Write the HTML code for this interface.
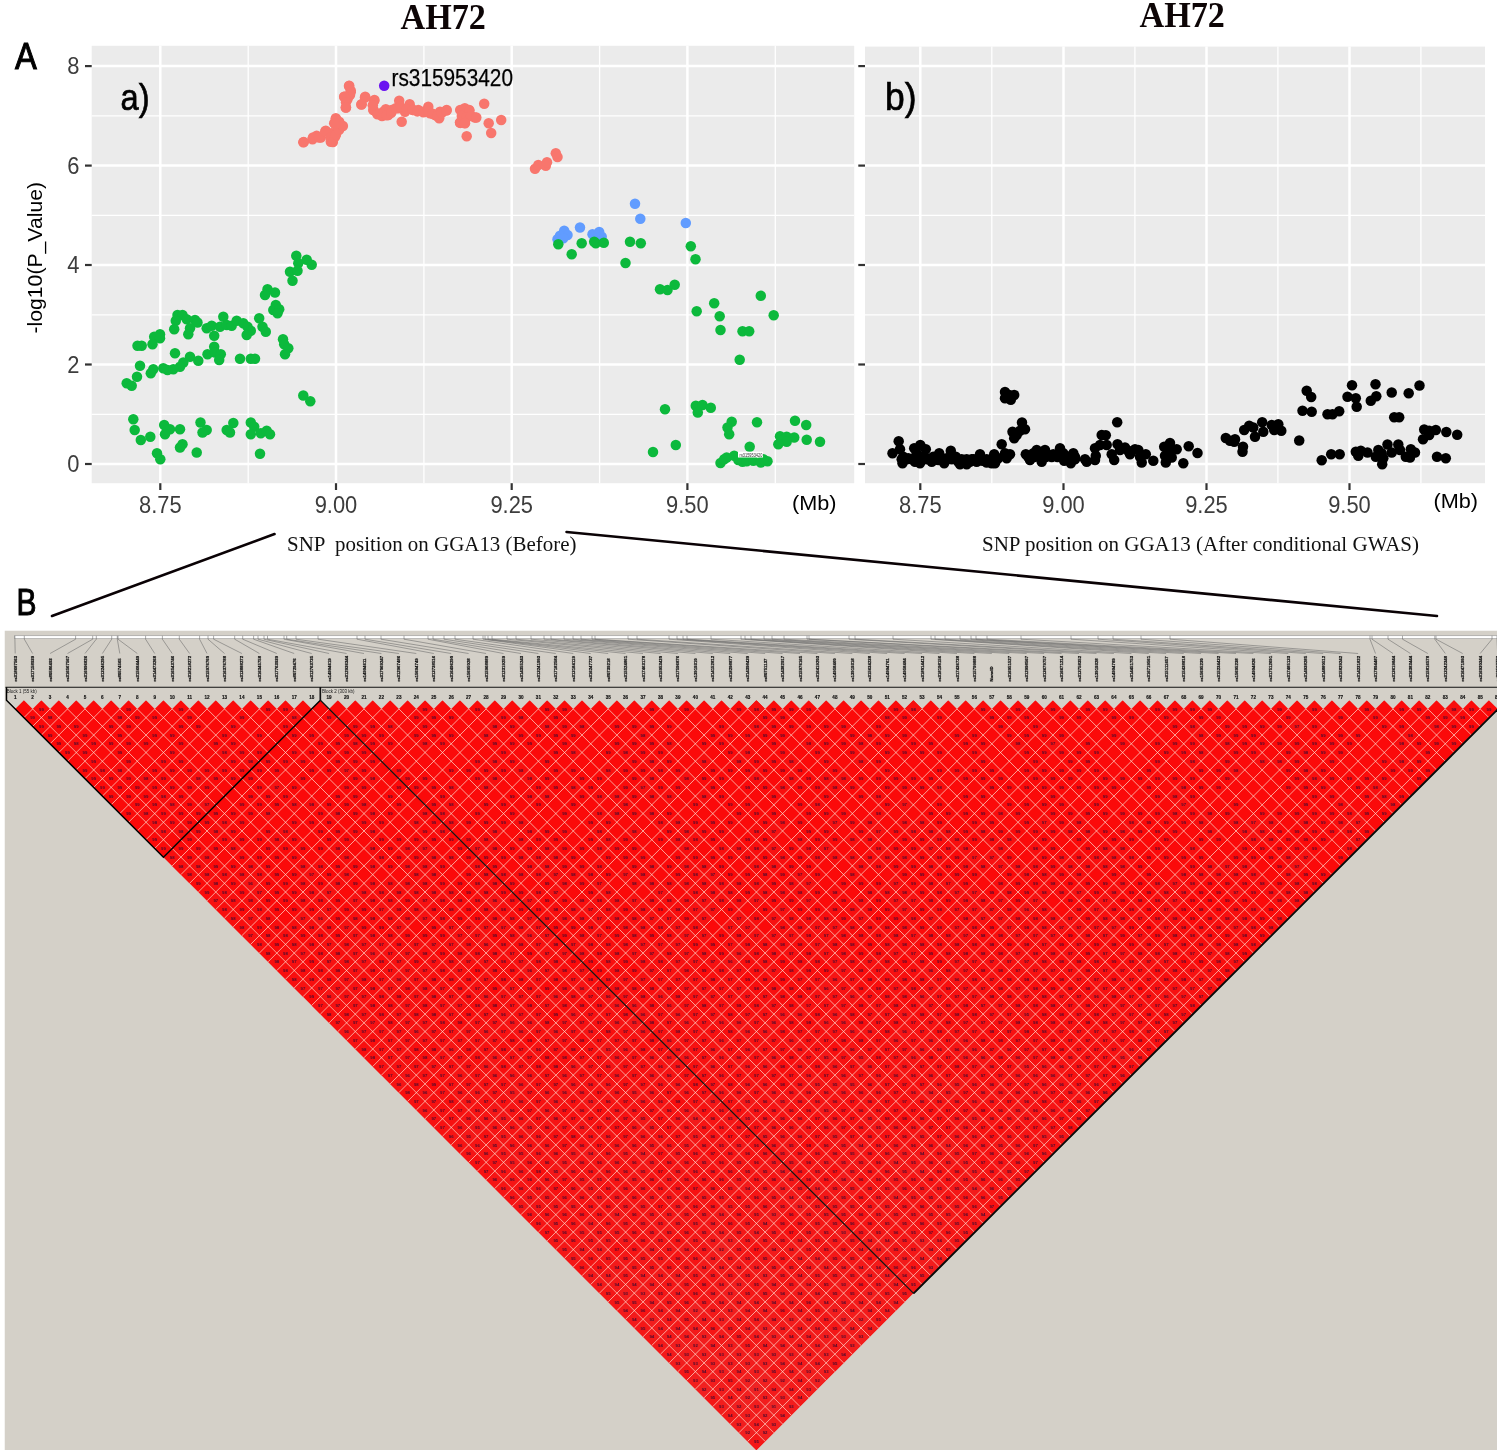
<!DOCTYPE html>
<html lang="en"><head><meta charset="utf-8"><title>AH72 regional plot and LD heatmap</title>
<style>html,body{margin:0;padding:0;background:#fff}svg{display:block}.tk{font-family:"Liberation Sans",sans-serif;font-size:23.8px;fill:#3d3d3d}.sn{font-family:"Liberation Sans",sans-serif;font-weight:bold;font-size:43px;fill:#111;stroke:#111;stroke-width:2.2px}.nm{font-family:"Liberation Sans",sans-serif;font-weight:bold;font-size:46px;fill:#111;stroke:#111;stroke-width:1.5px;text-anchor:middle}.d{font-family:"Liberation Sans",sans-serif;font-size:43px;font-weight:bold;fill:#4a0c30;text-anchor:middle}</style></head><body>
<svg width="1500" height="1455" viewBox="0 0 1500 1455">
<rect width="1500" height="1455" fill="#fff"/>
<rect x="91.7" y="45.8" width="762.5" height="437.4" fill="#ebebeb"/>
<line x1="248.2" y1="45.8" x2="248.2" y2="483.2" stroke="#fff" stroke-width="1.3"/>
<line x1="423.9" y1="45.8" x2="423.9" y2="483.2" stroke="#fff" stroke-width="1.3"/>
<line x1="599.6" y1="45.8" x2="599.6" y2="483.2" stroke="#fff" stroke-width="1.3"/>
<line x1="775.3" y1="45.8" x2="775.3" y2="483.2" stroke="#fff" stroke-width="1.3"/>
<line x1="91.7" y1="414.3" x2="854.2" y2="414.3" stroke="#fff" stroke-width="1.3"/>
<line x1="91.7" y1="314.8" x2="854.2" y2="314.8" stroke="#fff" stroke-width="1.3"/>
<line x1="91.7" y1="215.3" x2="854.2" y2="215.3" stroke="#fff" stroke-width="1.3"/>
<line x1="91.7" y1="115.8" x2="854.2" y2="115.8" stroke="#fff" stroke-width="1.3"/>
<line x1="160.3" y1="45.8" x2="160.3" y2="483.2" stroke="#fff" stroke-width="2.5"/>
<line x1="336.0" y1="45.8" x2="336.0" y2="483.2" stroke="#fff" stroke-width="2.5"/>
<line x1="511.7" y1="45.8" x2="511.7" y2="483.2" stroke="#fff" stroke-width="2.5"/>
<line x1="687.4" y1="45.8" x2="687.4" y2="483.2" stroke="#fff" stroke-width="2.5"/>
<line x1="91.7" y1="464.0" x2="854.2" y2="464.0" stroke="#fff" stroke-width="2.5"/>
<line x1="91.7" y1="364.5" x2="854.2" y2="364.5" stroke="#fff" stroke-width="2.5"/>
<line x1="91.7" y1="265.0" x2="854.2" y2="265.0" stroke="#fff" stroke-width="2.5"/>
<line x1="91.7" y1="165.6" x2="854.2" y2="165.6" stroke="#fff" stroke-width="2.5"/>
<line x1="91.7" y1="66.1" x2="854.2" y2="66.1" stroke="#fff" stroke-width="2.5"/>
<rect x="865" y="46.6" width="620" height="436.59999999999997" fill="#ebebeb"/>
<line x1="991.8" y1="46.6" x2="991.8" y2="483.2" stroke="#fff" stroke-width="1.3"/>
<line x1="1134.9" y1="46.6" x2="1134.9" y2="483.2" stroke="#fff" stroke-width="1.3"/>
<line x1="1277.9" y1="46.6" x2="1277.9" y2="483.2" stroke="#fff" stroke-width="1.3"/>
<line x1="1420.9" y1="46.6" x2="1420.9" y2="483.2" stroke="#fff" stroke-width="1.3"/>
<line x1="865" y1="414.3" x2="1485" y2="414.3" stroke="#fff" stroke-width="1.3"/>
<line x1="865" y1="314.8" x2="1485" y2="314.8" stroke="#fff" stroke-width="1.3"/>
<line x1="865" y1="215.3" x2="1485" y2="215.3" stroke="#fff" stroke-width="1.3"/>
<line x1="865" y1="115.8" x2="1485" y2="115.8" stroke="#fff" stroke-width="1.3"/>
<line x1="920.3" y1="46.6" x2="920.3" y2="483.2" stroke="#fff" stroke-width="2.5"/>
<line x1="1063.5" y1="46.6" x2="1063.5" y2="483.2" stroke="#fff" stroke-width="2.5"/>
<line x1="1206.5" y1="46.6" x2="1206.5" y2="483.2" stroke="#fff" stroke-width="2.5"/>
<line x1="1349.5" y1="46.6" x2="1349.5" y2="483.2" stroke="#fff" stroke-width="2.5"/>
<line x1="865" y1="464.0" x2="1485" y2="464.0" stroke="#fff" stroke-width="2.5"/>
<line x1="865" y1="364.5" x2="1485" y2="364.5" stroke="#fff" stroke-width="2.5"/>
<line x1="865" y1="265.0" x2="1485" y2="265.0" stroke="#fff" stroke-width="2.5"/>
<line x1="865" y1="165.6" x2="1485" y2="165.6" stroke="#fff" stroke-width="2.5"/>
<line x1="865" y1="66.1" x2="1485" y2="66.1" stroke="#fff" stroke-width="2.5"/>
<line x1="85" y1="464.0" x2="91.7" y2="464.0" stroke="#333" stroke-width="2.2"/>
<line x1="858.3" y1="464.0" x2="865" y2="464.0" stroke="#333" stroke-width="2.2"/>
<line x1="85" y1="364.5" x2="91.7" y2="364.5" stroke="#333" stroke-width="2.2"/>
<line x1="858.3" y1="364.5" x2="865" y2="364.5" stroke="#333" stroke-width="2.2"/>
<line x1="85" y1="265.0" x2="91.7" y2="265.0" stroke="#333" stroke-width="2.2"/>
<line x1="858.3" y1="265.0" x2="865" y2="265.0" stroke="#333" stroke-width="2.2"/>
<line x1="85" y1="165.6" x2="91.7" y2="165.6" stroke="#333" stroke-width="2.2"/>
<line x1="858.3" y1="165.6" x2="865" y2="165.6" stroke="#333" stroke-width="2.2"/>
<line x1="85" y1="66.1" x2="91.7" y2="66.1" stroke="#333" stroke-width="2.2"/>
<line x1="858.3" y1="66.1" x2="865" y2="66.1" stroke="#333" stroke-width="2.2"/>
<line x1="160.3" y1="483.2" x2="160.3" y2="490" stroke="#333" stroke-width="2.2"/>
<line x1="336.0" y1="483.2" x2="336.0" y2="490" stroke="#333" stroke-width="2.2"/>
<line x1="511.7" y1="483.2" x2="511.7" y2="490" stroke="#333" stroke-width="2.2"/>
<line x1="687.4" y1="483.2" x2="687.4" y2="490" stroke="#333" stroke-width="2.2"/>
<line x1="920.3" y1="483.2" x2="920.3" y2="490" stroke="#333" stroke-width="2.2"/>
<line x1="1063.5" y1="483.2" x2="1063.5" y2="490" stroke="#333" stroke-width="2.2"/>
<line x1="1206.5" y1="483.2" x2="1206.5" y2="490" stroke="#333" stroke-width="2.2"/>
<line x1="1349.5" y1="483.2" x2="1349.5" y2="490" stroke="#333" stroke-width="2.2"/>
<text class="tk" x="79.5" y="472.2" text-anchor="end" textLength="12.2" lengthAdjust="spacingAndGlyphs">0</text>
<text class="tk" x="79.5" y="372.7" text-anchor="end" textLength="12.2" lengthAdjust="spacingAndGlyphs">2</text>
<text class="tk" x="79.5" y="273.2" text-anchor="end" textLength="12.2" lengthAdjust="spacingAndGlyphs">4</text>
<text class="tk" x="79.5" y="173.8" text-anchor="end" textLength="12.2" lengthAdjust="spacingAndGlyphs">6</text>
<text class="tk" x="79.5" y="74.3" text-anchor="end" textLength="12.2" lengthAdjust="spacingAndGlyphs">8</text>
<text class="tk" x="160.3" y="512.6" text-anchor="middle" textLength="42.6" lengthAdjust="spacingAndGlyphs">8.75</text>
<text class="tk" x="336.0" y="512.6" text-anchor="middle" textLength="42.6" lengthAdjust="spacingAndGlyphs">9.00</text>
<text class="tk" x="511.7" y="512.6" text-anchor="middle" textLength="42.6" lengthAdjust="spacingAndGlyphs">9.25</text>
<text class="tk" x="687.4" y="512.6" text-anchor="middle" textLength="42.6" lengthAdjust="spacingAndGlyphs">9.50</text>
<text class="tk" x="920.3" y="513.2" text-anchor="middle" textLength="42.6" lengthAdjust="spacingAndGlyphs">8.75</text>
<text class="tk" x="1063.5" y="513.2" text-anchor="middle" textLength="42.6" lengthAdjust="spacingAndGlyphs">9.00</text>
<text class="tk" x="1206.5" y="513.2" text-anchor="middle" textLength="42.6" lengthAdjust="spacingAndGlyphs">9.25</text>
<text class="tk" x="1349.5" y="513.2" text-anchor="middle" textLength="42.6" lengthAdjust="spacingAndGlyphs">9.50</text>
<g fill="#619cff"><circle cx="635.0" cy="203.7" r="5.25"/><circle cx="640.3" cy="218.8" r="5.25"/><circle cx="685.8" cy="223.0" r="5.25"/><circle cx="580.0" cy="227.5" r="5.25"/><circle cx="564.2" cy="230.8" r="5.25"/><circle cx="567.5" cy="235.0" r="5.25"/><circle cx="560.0" cy="235.8" r="5.25"/><circle cx="557.5" cy="239.2" r="5.25"/><circle cx="563.3" cy="238.3" r="5.25"/><circle cx="592.5" cy="234.2" r="5.25"/><circle cx="599.2" cy="232.0" r="5.25"/><circle cx="601.7" cy="236.7" r="5.25"/><circle cx="597.5" cy="238.3" r="5.25"/></g>
<g fill="#0cb93c"><circle cx="296.3" cy="255.8" r="5.25"/><circle cx="306.7" cy="259.7" r="5.25"/><circle cx="311.7" cy="264.7" r="5.25"/><circle cx="298.3" cy="263.3" r="5.25"/><circle cx="290.0" cy="271.7" r="5.25"/><circle cx="297.5" cy="270.8" r="5.25"/><circle cx="292.5" cy="280.8" r="5.25"/><circle cx="267.5" cy="289.2" r="5.25"/><circle cx="275.0" cy="292.5" r="5.25"/><circle cx="265.0" cy="295.0" r="5.25"/><circle cx="275.8" cy="305.0" r="5.25"/><circle cx="273.3" cy="310.0" r="5.25"/><circle cx="279.2" cy="309.2" r="5.25"/><circle cx="277.5" cy="313.3" r="5.25"/><circle cx="177.5" cy="315.0" r="5.25"/><circle cx="182.5" cy="315.0" r="5.25"/><circle cx="175.8" cy="320.8" r="5.25"/><circle cx="186.7" cy="319.2" r="5.25"/><circle cx="195.0" cy="320.0" r="5.25"/><circle cx="197.5" cy="322.5" r="5.25"/><circle cx="174.2" cy="329.2" r="5.25"/><circle cx="190.0" cy="328.3" r="5.25"/><circle cx="188.3" cy="334.2" r="5.25"/><circle cx="223.3" cy="316.7" r="5.25"/><circle cx="206.7" cy="328.3" r="5.25"/><circle cx="211.7" cy="325.8" r="5.25"/><circle cx="214.2" cy="335.8" r="5.25"/><circle cx="220.0" cy="326.7" r="5.25"/><circle cx="226.7" cy="325.0" r="5.25"/><circle cx="231.7" cy="325.8" r="5.25"/><circle cx="236.7" cy="320.8" r="5.25"/><circle cx="243.3" cy="323.3" r="5.25"/><circle cx="247.5" cy="326.7" r="5.25"/><circle cx="250.8" cy="330.8" r="5.25"/><circle cx="246.7" cy="335.0" r="5.25"/><circle cx="259.2" cy="318.3" r="5.25"/><circle cx="262.5" cy="326.7" r="5.25"/><circle cx="265.8" cy="331.7" r="5.25"/><circle cx="283.0" cy="339.2" r="5.25"/><circle cx="284.2" cy="344.2" r="5.25"/><circle cx="288.3" cy="348.3" r="5.25"/><circle cx="285.0" cy="354.2" r="5.25"/><circle cx="160.0" cy="334.2" r="5.25"/><circle cx="154.2" cy="336.7" r="5.25"/><circle cx="160.0" cy="338.3" r="5.25"/><circle cx="152.5" cy="344.2" r="5.25"/><circle cx="137.5" cy="345.8" r="5.25"/><circle cx="141.7" cy="345.8" r="5.25"/><circle cx="175.0" cy="353.3" r="5.25"/><circle cx="190.0" cy="356.7" r="5.25"/><circle cx="214.2" cy="346.7" r="5.25"/><circle cx="207.5" cy="354.2" r="5.25"/><circle cx="215.0" cy="352.5" r="5.25"/><circle cx="220.8" cy="354.2" r="5.25"/><circle cx="219.2" cy="360.0" r="5.25"/><circle cx="198.3" cy="360.8" r="5.25"/><circle cx="240.0" cy="358.7" r="5.25"/><circle cx="250.8" cy="358.7" r="5.25"/><circle cx="255.0" cy="358.7" r="5.25"/><circle cx="183.3" cy="362.5" r="5.25"/><circle cx="180.0" cy="366.7" r="5.25"/><circle cx="173.3" cy="369.2" r="5.25"/><circle cx="167.5" cy="370.0" r="5.25"/><circle cx="163.3" cy="368.3" r="5.25"/><circle cx="153.3" cy="369.2" r="5.25"/><circle cx="150.8" cy="373.3" r="5.25"/><circle cx="140.0" cy="365.8" r="5.25"/><circle cx="137.0" cy="376.7" r="5.25"/><circle cx="126.7" cy="383.3" r="5.25"/><circle cx="131.7" cy="385.8" r="5.25"/><circle cx="303.3" cy="395.5" r="5.25"/><circle cx="310.3" cy="401.3" r="5.25"/><circle cx="133.3" cy="419.2" r="5.25"/><circle cx="134.7" cy="430.0" r="5.25"/><circle cx="140.8" cy="440.0" r="5.25"/><circle cx="150.3" cy="436.7" r="5.25"/><circle cx="157.0" cy="453.3" r="5.25"/><circle cx="160.3" cy="459.2" r="5.25"/><circle cx="164.2" cy="425.0" r="5.25"/><circle cx="170.0" cy="429.2" r="5.25"/><circle cx="165.0" cy="434.2" r="5.25"/><circle cx="180.0" cy="429.2" r="5.25"/><circle cx="182.5" cy="444.2" r="5.25"/><circle cx="180.0" cy="447.5" r="5.25"/><circle cx="196.7" cy="452.5" r="5.25"/><circle cx="200.5" cy="422.5" r="5.25"/><circle cx="206.7" cy="430.0" r="5.25"/><circle cx="202.5" cy="432.5" r="5.25"/><circle cx="233.3" cy="423.0" r="5.25"/><circle cx="226.7" cy="430.0" r="5.25"/><circle cx="230.0" cy="432.5" r="5.25"/><circle cx="250.8" cy="422.5" r="5.25"/><circle cx="254.2" cy="426.7" r="5.25"/><circle cx="250.8" cy="434.2" r="5.25"/><circle cx="260.8" cy="433.3" r="5.25"/><circle cx="266.7" cy="430.8" r="5.25"/><circle cx="270.0" cy="434.2" r="5.25"/><circle cx="260.0" cy="453.7" r="5.25"/><circle cx="558.3" cy="244.2" r="5.25"/><circle cx="571.7" cy="254.2" r="5.25"/><circle cx="581.7" cy="243.3" r="5.25"/><circle cx="594.2" cy="241.7" r="5.25"/><circle cx="595.8" cy="243.3" r="5.25"/><circle cx="603.8" cy="242.8" r="5.25"/><circle cx="630.0" cy="241.7" r="5.25"/><circle cx="640.8" cy="243.3" r="5.25"/><circle cx="625.5" cy="263.0" r="5.25"/><circle cx="690.8" cy="246.3" r="5.25"/><circle cx="695.5" cy="259.2" r="5.25"/><circle cx="660.0" cy="289.2" r="5.25"/><circle cx="667.5" cy="290.0" r="5.25"/><circle cx="674.7" cy="284.7" r="5.25"/><circle cx="696.7" cy="311.3" r="5.25"/><circle cx="714.2" cy="303.3" r="5.25"/><circle cx="719.7" cy="316.3" r="5.25"/><circle cx="720.5" cy="330.0" r="5.25"/><circle cx="742.5" cy="331.3" r="5.25"/><circle cx="749.2" cy="331.3" r="5.25"/><circle cx="760.8" cy="295.8" r="5.25"/><circle cx="773.7" cy="315.3" r="5.25"/><circle cx="739.7" cy="359.7" r="5.25"/><circle cx="665.0" cy="409.2" r="5.25"/><circle cx="695.8" cy="405.8" r="5.25"/><circle cx="702.5" cy="405.0" r="5.25"/><circle cx="710.8" cy="407.8" r="5.25"/><circle cx="697.8" cy="412.5" r="5.25"/><circle cx="731.7" cy="421.7" r="5.25"/><circle cx="727.5" cy="427.5" r="5.25"/><circle cx="729.2" cy="434.2" r="5.25"/><circle cx="757.0" cy="422.2" r="5.25"/><circle cx="795.0" cy="420.8" r="5.25"/><circle cx="806.2" cy="425.0" r="5.25"/><circle cx="780.0" cy="436.3" r="5.25"/><circle cx="786.7" cy="436.7" r="5.25"/><circle cx="794.2" cy="437.5" r="5.25"/><circle cx="782.5" cy="440.0" r="5.25"/><circle cx="786.7" cy="441.7" r="5.25"/><circle cx="778.3" cy="444.2" r="5.25"/><circle cx="806.7" cy="439.7" r="5.25"/><circle cx="820.0" cy="441.7" r="5.25"/><circle cx="675.8" cy="445.0" r="5.25"/><circle cx="653.0" cy="452.0" r="5.25"/><circle cx="749.7" cy="446.7" r="5.25"/><circle cx="720.5" cy="463.0" r="5.25"/><circle cx="724.2" cy="459.2" r="5.25"/><circle cx="726.7" cy="457.5" r="5.25"/><circle cx="734.2" cy="455.8" r="5.25"/><circle cx="738.3" cy="460.0" r="5.25"/><circle cx="742.5" cy="461.7" r="5.25"/><circle cx="746.7" cy="461.3" r="5.25"/><circle cx="753.3" cy="460.8" r="5.25"/><circle cx="760.8" cy="462.5" r="5.25"/><circle cx="767.5" cy="461.3" r="5.25"/><circle cx="763.3" cy="459.2" r="5.25"/></g>
<g fill="#f8766d"><circle cx="303.3" cy="142.2" r="5.25"/><circle cx="312.5" cy="139.2" r="5.25"/><circle cx="316.7" cy="135.8" r="5.25"/><circle cx="320.8" cy="137.5" r="5.25"/><circle cx="325.8" cy="130.8" r="5.25"/><circle cx="330.8" cy="141.7" r="5.25"/><circle cx="335.0" cy="136.7" r="5.25"/><circle cx="331.7" cy="133.3" r="5.25"/><circle cx="337.5" cy="130.0" r="5.25"/><circle cx="334.2" cy="123.3" r="5.25"/><circle cx="335.8" cy="118.3" r="5.25"/><circle cx="341.7" cy="125.8" r="5.25"/><circle cx="339.2" cy="121.7" r="5.25"/><circle cx="349.2" cy="85.8" r="5.25"/><circle cx="350.8" cy="90.8" r="5.25"/><circle cx="344.2" cy="96.7" r="5.25"/><circle cx="347.5" cy="99.2" r="5.25"/><circle cx="345.8" cy="107.5" r="5.25"/><circle cx="350.0" cy="95.0" r="5.25"/><circle cx="365.0" cy="97.5" r="5.25"/><circle cx="361.7" cy="104.2" r="5.25"/><circle cx="374.2" cy="100.8" r="5.25"/><circle cx="373.3" cy="110.0" r="5.25"/><circle cx="377.5" cy="114.2" r="5.25"/><circle cx="383.3" cy="111.7" r="5.25"/><circle cx="388.3" cy="115.0" r="5.25"/><circle cx="391.7" cy="110.0" r="5.25"/><circle cx="385.8" cy="109.2" r="5.25"/><circle cx="399.2" cy="100.8" r="5.25"/><circle cx="398.3" cy="108.3" r="5.25"/><circle cx="401.7" cy="121.7" r="5.25"/><circle cx="405.0" cy="111.7" r="5.25"/><circle cx="409.7" cy="104.2" r="5.25"/><circle cx="413.3" cy="110.0" r="5.25"/><circle cx="418.3" cy="110.0" r="5.25"/><circle cx="423.3" cy="111.7" r="5.25"/><circle cx="428.3" cy="106.7" r="5.25"/><circle cx="430.0" cy="113.3" r="5.25"/><circle cx="435.0" cy="115.0" r="5.25"/><circle cx="439.2" cy="118.3" r="5.25"/><circle cx="440.0" cy="111.7" r="5.25"/><circle cx="446.7" cy="110.0" r="5.25"/><circle cx="461.7" cy="110.0" r="5.25"/><circle cx="469.2" cy="110.0" r="5.25"/><circle cx="463.3" cy="115.0" r="5.25"/><circle cx="460.0" cy="122.5" r="5.25"/><circle cx="465.0" cy="123.3" r="5.25"/><circle cx="475.0" cy="117.5" r="5.25"/><circle cx="466.7" cy="136.3" r="5.25"/><circle cx="484.2" cy="103.7" r="5.25"/><circle cx="488.7" cy="123.3" r="5.25"/><circle cx="491.2" cy="133.0" r="5.25"/><circle cx="501.2" cy="120.0" r="5.25"/><circle cx="535.0" cy="168.7" r="5.25"/><circle cx="538.3" cy="165.0" r="5.25"/><circle cx="545.8" cy="165.8" r="5.25"/><circle cx="547.0" cy="162.2" r="5.25"/><circle cx="557.5" cy="157.0" r="5.25"/><circle cx="555.8" cy="153.3" r="5.25"/><circle cx="373.6" cy="109.9" r="5.25"/><circle cx="377.4" cy="113.7" r="5.25"/><circle cx="382.0" cy="116.0" r="5.25"/><circle cx="386.6" cy="115.2" r="5.25"/><circle cx="391.2" cy="112.9" r="5.25"/><circle cx="395.8" cy="108.3" r="5.25"/><circle cx="400.4" cy="106.8" r="5.25"/><circle cx="406.6" cy="109.1" r="5.25"/><circle cx="412.7" cy="109.9" r="5.25"/><circle cx="417.3" cy="111.4" r="5.25"/><circle cx="423.4" cy="112.2" r="5.25"/><circle cx="428.0" cy="109.9" r="5.25"/><circle cx="432.6" cy="113.7" r="5.25"/><circle cx="437.2" cy="116.0" r="5.25"/><circle cx="441.8" cy="112.9" r="5.25"/><circle cx="446.4" cy="110.6" r="5.25"/><circle cx="460.2" cy="109.9" r="5.25"/><circle cx="464.8" cy="108.3" r="5.25"/><circle cx="469.4" cy="110.6" r="5.25"/><circle cx="461.8" cy="116.0" r="5.25"/><circle cx="466.4" cy="117.5" r="5.25"/><circle cx="471.0" cy="116.0" r="5.25"/><circle cx="460.2" cy="122.9" r="5.25"/><circle cx="464.8" cy="122.9" r="5.25"/><circle cx="476.3" cy="117.5" r="5.25"/><circle cx="303.8" cy="142.1" r="5.25"/><circle cx="313.0" cy="137.5" r="5.25"/><circle cx="319.1" cy="137.5" r="5.25"/><circle cx="325.3" cy="131.3" r="5.25"/><circle cx="330.6" cy="137.5" r="5.25"/><circle cx="332.9" cy="142.1" r="5.25"/><circle cx="336.0" cy="134.4" r="5.25"/><circle cx="339.1" cy="129.8" r="5.25"/><circle cx="342.9" cy="126.0" r="5.25"/><circle cx="336.0" cy="119.1" r="5.25"/><circle cx="335.2" cy="123.7" r="5.25"/><circle cx="349.0" cy="86.1" r="5.25"/><circle cx="350.6" cy="92.2" r="5.25"/><circle cx="344.4" cy="96.8" r="5.25"/><circle cx="346.0" cy="102.2" r="5.25"/><circle cx="346.0" cy="107.6" r="5.25"/><circle cx="365.2" cy="96.8" r="5.25"/><circle cx="361.3" cy="104.5" r="5.25"/><circle cx="374.4" cy="99.9" r="5.25"/><circle cx="372.8" cy="105.3" r="5.25"/></g>
<g fill="#6a12f0"><circle cx="384.2" cy="85.8" r="5.25"/></g>
<g fill="#000"><circle cx="892.5" cy="453.3" r="5.25"/><circle cx="898.7" cy="441.3" r="5.25"/><circle cx="900.0" cy="449.2" r="5.25"/><circle cx="903.3" cy="456.7" r="5.25"/><circle cx="902.5" cy="463.3" r="5.25"/><circle cx="908.3" cy="458.3" r="5.25"/><circle cx="914.2" cy="448.3" r="5.25"/><circle cx="916.7" cy="453.3" r="5.25"/><circle cx="915.0" cy="461.7" r="5.25"/><circle cx="920.3" cy="445.0" r="5.25"/><circle cx="920.8" cy="456.7" r="5.25"/><circle cx="920.0" cy="463.3" r="5.25"/><circle cx="925.8" cy="449.2" r="5.25"/><circle cx="926.7" cy="458.3" r="5.25"/><circle cx="931.7" cy="461.7" r="5.25"/><circle cx="933.3" cy="456.7" r="5.25"/><circle cx="939.2" cy="453.3" r="5.25"/><circle cx="938.3" cy="460.0" r="5.25"/><circle cx="944.2" cy="463.3" r="5.25"/><circle cx="946.7" cy="458.3" r="5.25"/><circle cx="950.8" cy="450.8" r="5.25"/><circle cx="952.5" cy="458.3" r="5.25"/><circle cx="955.8" cy="456.7" r="5.25"/><circle cx="958.3" cy="461.7" r="5.25"/><circle cx="960.0" cy="464.2" r="5.25"/><circle cx="964.2" cy="460.0" r="5.25"/><circle cx="966.7" cy="464.2" r="5.25"/><circle cx="970.0" cy="461.7" r="5.25"/><circle cx="973.3" cy="459.2" r="5.25"/><circle cx="976.7" cy="461.7" r="5.25"/><circle cx="980.0" cy="454.2" r="5.25"/><circle cx="982.5" cy="460.8" r="5.25"/><circle cx="986.7" cy="462.5" r="5.25"/><circle cx="991.7" cy="463.3" r="5.25"/><circle cx="995.0" cy="463.3" r="5.25"/><circle cx="994.2" cy="454.2" r="5.25"/><circle cx="998.3" cy="458.3" r="5.25"/><circle cx="1001.7" cy="444.2" r="5.25"/><circle cx="1005.0" cy="453.3" r="5.25"/><circle cx="1006.7" cy="458.3" r="5.25"/><circle cx="1010.0" cy="454.2" r="5.25"/><circle cx="1005.0" cy="392.0" r="5.25"/><circle cx="1014.2" cy="395.0" r="5.25"/><circle cx="1005.0" cy="398.3" r="5.25"/><circle cx="1010.8" cy="399.7" r="5.25"/><circle cx="1009.2" cy="395.0" r="5.25"/><circle cx="1022.0" cy="422.5" r="5.25"/><circle cx="1025.0" cy="429.2" r="5.25"/><circle cx="1020.0" cy="430.8" r="5.25"/><circle cx="1012.5" cy="431.7" r="5.25"/><circle cx="1016.7" cy="435.0" r="5.25"/><circle cx="1014.2" cy="438.3" r="5.25"/><circle cx="1025.8" cy="454.2" r="5.25"/><circle cx="1030.0" cy="460.0" r="5.25"/><circle cx="1033.3" cy="453.3" r="5.25"/><circle cx="1036.7" cy="450.0" r="5.25"/><circle cx="1040.0" cy="456.7" r="5.25"/><circle cx="1041.7" cy="461.7" r="5.25"/><circle cx="1045.0" cy="450.0" r="5.25"/><circle cx="1048.3" cy="455.0" r="5.25"/><circle cx="1053.3" cy="454.2" r="5.25"/><circle cx="1060.0" cy="448.3" r="5.25"/><circle cx="1063.3" cy="453.3" r="5.25"/><circle cx="1064.2" cy="460.8" r="5.25"/><circle cx="1068.3" cy="456.7" r="5.25"/><circle cx="1073.3" cy="453.3" r="5.25"/><circle cx="1075.0" cy="459.2" r="5.25"/><circle cx="1070.8" cy="463.3" r="5.25"/><circle cx="1085.0" cy="459.2" r="5.25"/><circle cx="1086.7" cy="461.7" r="5.25"/><circle cx="1095.0" cy="448.3" r="5.25"/><circle cx="1095.8" cy="455.8" r="5.25"/><circle cx="1095.0" cy="460.0" r="5.25"/><circle cx="1100.0" cy="445.0" r="5.25"/><circle cx="1101.7" cy="435.0" r="5.25"/><circle cx="1105.8" cy="435.3" r="5.25"/><circle cx="1106.7" cy="445.0" r="5.25"/><circle cx="1111.7" cy="454.2" r="5.25"/><circle cx="1114.2" cy="460.0" r="5.25"/><circle cx="1117.2" cy="422.2" r="5.25"/><circle cx="1117.5" cy="444.2" r="5.25"/><circle cx="1120.0" cy="450.0" r="5.25"/><circle cx="1125.0" cy="447.5" r="5.25"/><circle cx="1128.3" cy="450.8" r="5.25"/><circle cx="1130.0" cy="454.2" r="5.25"/><circle cx="1135.0" cy="449.2" r="5.25"/><circle cx="1138.3" cy="450.0" r="5.25"/><circle cx="1140.0" cy="456.7" r="5.25"/><circle cx="1141.7" cy="462.5" r="5.25"/><circle cx="1145.8" cy="454.2" r="5.25"/><circle cx="1153.3" cy="460.8" r="5.25"/><circle cx="1164.2" cy="446.7" r="5.25"/><circle cx="1170.0" cy="443.0" r="5.25"/><circle cx="1168.3" cy="451.7" r="5.25"/><circle cx="1165.0" cy="455.8" r="5.25"/><circle cx="1171.7" cy="457.5" r="5.25"/><circle cx="1165.8" cy="462.5" r="5.25"/><circle cx="1176.7" cy="449.2" r="5.25"/><circle cx="1183.3" cy="463.3" r="5.25"/><circle cx="1188.7" cy="446.3" r="5.25"/><circle cx="1197.5" cy="453.0" r="5.25"/><circle cx="1225.8" cy="438.0" r="5.25"/><circle cx="1230.0" cy="440.8" r="5.25"/><circle cx="1235.0" cy="439.2" r="5.25"/><circle cx="1234.2" cy="441.7" r="5.25"/><circle cx="1243.0" cy="446.7" r="5.25"/><circle cx="1242.5" cy="451.7" r="5.25"/><circle cx="1244.2" cy="430.0" r="5.25"/><circle cx="1249.2" cy="425.8" r="5.25"/><circle cx="1253.3" cy="427.5" r="5.25"/><circle cx="1255.0" cy="436.7" r="5.25"/><circle cx="1262.2" cy="422.2" r="5.25"/><circle cx="1263.3" cy="431.7" r="5.25"/><circle cx="1271.7" cy="425.0" r="5.25"/><circle cx="1274.2" cy="430.0" r="5.25"/><circle cx="1278.3" cy="424.2" r="5.25"/><circle cx="1281.3" cy="430.8" r="5.25"/><circle cx="1299.2" cy="440.5" r="5.25"/><circle cx="1306.7" cy="390.8" r="5.25"/><circle cx="1311.2" cy="397.0" r="5.25"/><circle cx="1302.5" cy="410.8" r="5.25"/><circle cx="1311.7" cy="411.7" r="5.25"/><circle cx="1321.7" cy="460.3" r="5.25"/><circle cx="1327.5" cy="414.2" r="5.25"/><circle cx="1332.5" cy="414.2" r="5.25"/><circle cx="1339.2" cy="411.2" r="5.25"/><circle cx="1331.2" cy="454.2" r="5.25"/><circle cx="1339.7" cy="454.2" r="5.25"/><circle cx="1347.5" cy="396.7" r="5.25"/><circle cx="1352.0" cy="385.3" r="5.25"/><circle cx="1355.8" cy="398.3" r="5.25"/><circle cx="1356.7" cy="406.7" r="5.25"/><circle cx="1355.8" cy="451.7" r="5.25"/><circle cx="1358.3" cy="455.8" r="5.25"/><circle cx="1360.8" cy="450.8" r="5.25"/><circle cx="1367.5" cy="452.5" r="5.25"/><circle cx="1370.8" cy="400.8" r="5.25"/><circle cx="1375.5" cy="384.2" r="5.25"/><circle cx="1376.3" cy="396.2" r="5.25"/><circle cx="1375.8" cy="456.7" r="5.25"/><circle cx="1378.3" cy="450.0" r="5.25"/><circle cx="1381.7" cy="453.3" r="5.25"/><circle cx="1383.3" cy="458.3" r="5.25"/><circle cx="1382.2" cy="464.2" r="5.25"/><circle cx="1387.5" cy="444.5" r="5.25"/><circle cx="1391.7" cy="392.5" r="5.25"/><circle cx="1391.7" cy="452.5" r="5.25"/><circle cx="1394.2" cy="417.2" r="5.25"/><circle cx="1399.2" cy="417.2" r="5.25"/><circle cx="1398.3" cy="444.5" r="5.25"/><circle cx="1400.0" cy="450.0" r="5.25"/><circle cx="1405.8" cy="456.7" r="5.25"/><circle cx="1408.7" cy="393.3" r="5.25"/><circle cx="1410.0" cy="457.5" r="5.25"/><circle cx="1410.8" cy="449.2" r="5.25"/><circle cx="1415.0" cy="452.5" r="5.25"/><circle cx="1419.5" cy="385.5" r="5.25"/><circle cx="1424.2" cy="429.5" r="5.25"/><circle cx="1429.2" cy="430.8" r="5.25"/><circle cx="1423.0" cy="439.2" r="5.25"/><circle cx="1429.2" cy="435.0" r="5.25"/><circle cx="1435.8" cy="430.0" r="5.25"/><circle cx="1446.3" cy="432.0" r="5.25"/><circle cx="1457.2" cy="434.7" r="5.25"/><circle cx="1437.0" cy="456.7" r="5.25"/><circle cx="1445.8" cy="458.3" r="5.25"/><circle cx="901.7" cy="459.2" r="5.25"/><circle cx="906.7" cy="459.2" r="5.25"/><circle cx="911.7" cy="459.2" r="5.25"/><circle cx="916.7" cy="459.2" r="5.25"/><circle cx="921.7" cy="459.2" r="5.25"/><circle cx="926.7" cy="459.2" r="5.25"/><circle cx="931.7" cy="459.2" r="5.25"/><circle cx="936.7" cy="459.2" r="5.25"/><circle cx="941.7" cy="459.2" r="5.25"/><circle cx="946.7" cy="459.2" r="5.25"/><circle cx="951.7" cy="459.2" r="5.25"/><circle cx="956.7" cy="459.2" r="5.25"/><circle cx="961.7" cy="459.2" r="5.25"/><circle cx="966.7" cy="459.2" r="5.25"/><circle cx="971.7" cy="459.2" r="5.25"/><circle cx="976.7" cy="459.2" r="5.25"/><circle cx="981.7" cy="459.2" r="5.25"/><circle cx="986.7" cy="459.2" r="5.25"/><circle cx="991.7" cy="459.2" r="5.25"/><circle cx="996.7" cy="459.2" r="5.25"/><circle cx="1028.3" cy="457.0" r="5.25"/><circle cx="1034.2" cy="457.0" r="5.25"/><circle cx="1040.0" cy="457.0" r="5.25"/><circle cx="1045.8" cy="457.0" r="5.25"/><circle cx="1051.7" cy="457.0" r="5.25"/><circle cx="1057.5" cy="457.0" r="5.25"/><circle cx="1063.3" cy="457.0" r="5.25"/><circle cx="1069.2" cy="457.0" r="5.25"/><circle cx="1075.0" cy="457.0" r="5.25"/></g>
<rect x="738" y="451.7" width="25" height="5.8" fill="#fff"/>
<text transform="scale(0.1)" x="7396" y="4568" font-family="Liberation Sans,sans-serif" font-size="46" fill="#333" textLength="228" lengthAdjust="spacingAndGlyphs">rs315953420</text>
<text x="400.5" y="28.6" font-family="Liberation Serif,serif" font-weight="bold" font-size="36" fill="#0d0506" textLength="85.3" lengthAdjust="spacingAndGlyphs">AH72</text>
<text x="1139.5" y="26.6" font-family="Liberation Serif,serif" font-weight="bold" font-size="36" fill="#0d0506" textLength="85.3" lengthAdjust="spacingAndGlyphs">AH72</text>
<text x="15" y="68.6" font-family="Liberation Sans,sans-serif" font-size="36" fill="#000" textLength="21.8" lengthAdjust="spacingAndGlyphs" stroke="#000" stroke-width="1">A</text>
<text x="16.5" y="614.6" font-family="Liberation Sans,sans-serif" font-size="36" fill="#000" textLength="20" lengthAdjust="spacingAndGlyphs" stroke="#000" stroke-width="1">B</text>
<text x="120.5" y="110.2" font-family="Liberation Sans,sans-serif" font-size="37.5" fill="#000" stroke="#000" stroke-width="0.7" textLength="29" lengthAdjust="spacingAndGlyphs">a)</text>
<text x="885" y="110.4" font-family="Liberation Sans,sans-serif" font-size="38" fill="#000" stroke="#000" stroke-width="0.7" textLength="31.5" lengthAdjust="spacingAndGlyphs">b)</text>
<text x="391.5" y="85.8" font-family="Liberation Sans,sans-serif" font-size="23.3" fill="#000" stroke="#000" stroke-width="0.25" textLength="121.5" lengthAdjust="spacingAndGlyphs">rs315953420</text>
<text transform="translate(42.2,333.5) rotate(-90)" font-family="Liberation Sans,sans-serif" font-size="21" fill="#000" textLength="151.5" lengthAdjust="spacingAndGlyphs">-log10(P_Value)</text>
<text x="792" y="510" font-family="Liberation Sans,sans-serif" font-size="21" fill="#000" textLength="44.5" lengthAdjust="spacingAndGlyphs">(Mb)</text>
<text x="1433.5" y="507.5" font-family="Liberation Sans,sans-serif" font-size="21" fill="#000" textLength="44.5" lengthAdjust="spacingAndGlyphs">(Mb)</text>
<text x="287" y="551.3" font-family="Liberation Serif,serif" font-size="21.5" fill="#111" textLength="289.5" lengthAdjust="spacingAndGlyphs" style="white-space:pre">SNP  position on GGA13 (Before)</text>
<text x="982" y="551" font-family="Liberation Serif,serif" font-size="21.5" fill="#111" textLength="437" lengthAdjust="spacingAndGlyphs">SNP position on GGA13 (After conditional GWAS)</text>
<line x1="52" y1="616" x2="274.5" y2="534" stroke="#0a0205" stroke-width="2.6" stroke-linecap="round"/>
<line x1="566.5" y1="532" x2="1437" y2="616" stroke="#0a0205" stroke-width="2.6" stroke-linecap="round"/>
<clipPath id="c"><rect x="4.5" y="630.5" width="1492.5" height="819.5"/></clipPath>
<g clip-path="url(#c)">
<rect x="4.5" y="630.5" width="1492.5" height="819.5" fill="#d4d0c8"/>
<rect x="14.5" y="635.8" width="1490" height="2.8" fill="#fff" stroke="#8a8a8a" stroke-width="0.5"/>
<g stroke="#666" stroke-width="0.55" fill="none">
<path d="M14.9 635.8V639.2L15.2 653.5"/>
<path d="M24.3 635.8V639.2L32.6 653.5"/>
<path d="M75.6 635.8V639.2L50.1 653.5"/>
<path d="M92.7 635.8V639.2L67.5 653.5"/>
<path d="M96.3 635.8V639.2L85.0 653.5"/>
<path d="M111.7 635.8V639.2L102.4 653.5"/>
<path d="M117.3 635.8V639.2L119.8 653.5"/>
<path d="M118 635.8V639.2L137.3 653.5"/>
<path d="M145.6 635.8V639.2L154.7 653.5"/>
<path d="M162.4 635.8V639.2L172.2 653.5"/>
<path d="M179.3 635.8V639.2L189.6 653.5"/>
<path d="M199.6 635.8V639.2L207.0 653.5"/>
<path d="M208 635.8V639.2L224.5 653.5"/>
<path d="M213.6 635.8V639.2L241.9 653.5"/>
<path d="M234.7 635.8V639.2L259.4 653.5"/>
<path d="M242.7 635.8V639.2L276.8 653.5"/>
<path d="M253.6 635.8V639.2L294.2 653.5"/>
<path d="M258 635.8V639.2L311.7 653.5"/>
<path d="M264 635.8V639.2L329.1 653.5"/>
<path d="M267.5 635.8V639.2L346.6 653.5"/>
<path d="M284 635.8V639.2L364.0 653.5"/>
<path d="M286.7 635.8V639.2L381.4 653.5"/>
<path d="M296 635.8V639.2L398.9 653.5"/>
<path d="M318 635.8V639.2L416.3 653.5"/>
<path d="M357 635.8V639.2L433.8 653.5"/>
<path d="M365 635.8V639.2L451.2 653.5"/>
<path d="M381 635.8V639.2L468.6 653.5"/>
<path d="M404 635.8V639.2L486.1 653.5"/>
<path d="M428 635.8V639.2L503.5 653.5"/>
<path d="M433 635.8V639.2L521.0 653.5"/>
<path d="M444 635.8V639.2L538.4 653.5"/>
<path d="M455 635.8V639.2L555.8 653.5"/>
<path d="M473 635.8V639.2L573.3 653.5"/>
<path d="M483 635.8V639.2L590.7 653.5"/>
<path d="M485 635.8V639.2L608.2 653.5"/>
<path d="M488 635.8V639.2L625.6 653.5"/>
<path d="M492 635.8V639.2L643.0 653.5"/>
<path d="M507 635.8V639.2L660.5 653.5"/>
<path d="M516 635.8V639.2L677.9 653.5"/>
<path d="M531 635.8V639.2L695.4 653.5"/>
<path d="M544 635.8V639.2L712.8 653.5"/>
<path d="M551 635.8V639.2L730.2 653.5"/>
<path d="M564 635.8V639.2L747.7 653.5"/>
<path d="M573 635.8V639.2L765.1 653.5"/>
<path d="M581 635.8V639.2L782.6 653.5"/>
<path d="M592 635.8V639.2L800.0 653.5"/>
<path d="M595 635.8V639.2L817.4 653.5"/>
<path d="M628 635.8V639.2L834.9 653.5"/>
<path d="M637 635.8V639.2L852.3 653.5"/>
<path d="M669 635.8V639.2L869.8 653.5"/>
<path d="M677 635.8V639.2L887.2 653.5"/>
<path d="M683 635.8V639.2L904.6 653.5"/>
<path d="M687 635.8V639.2L922.1 653.5"/>
<path d="M711 635.8V639.2L939.5 653.5"/>
<path d="M741 635.8V639.2L957.0 653.5"/>
<path d="M745 635.8V639.2L974.4 653.5"/>
<path d="M751 635.8V639.2L991.8 653.5"/>
<path d="M764 635.8V639.2L1009.3 653.5"/>
<path d="M772 635.8V639.2L1026.7 653.5"/>
<path d="M784 635.8V639.2L1044.2 653.5"/>
<path d="M807 635.8V639.2L1061.6 653.5"/>
<path d="M809 635.8V639.2L1079.0 653.5"/>
<path d="M849 635.8V639.2L1096.5 653.5"/>
<path d="M855 635.8V639.2L1113.9 653.5"/>
<path d="M893 635.8V639.2L1131.4 653.5"/>
<path d="M931 635.8V639.2L1148.8 653.5"/>
<path d="M935 635.8V639.2L1166.2 653.5"/>
<path d="M945 635.8V639.2L1183.7 653.5"/>
<path d="M960 635.8V639.2L1201.1 653.5"/>
<path d="M971 635.8V639.2L1218.6 653.5"/>
<path d="M976 635.8V639.2L1236.0 653.5"/>
<path d="M987 635.8V639.2L1253.4 653.5"/>
<path d="M1021 635.8V639.2L1270.9 653.5"/>
<path d="M1071 635.8V639.2L1288.3 653.5"/>
<path d="M1098 635.8V639.2L1305.8 653.5"/>
<path d="M1113 635.8V639.2L1323.2 653.5"/>
<path d="M1141 635.8V639.2L1340.6 653.5"/>
<path d="M1170 635.8V639.2L1358.1 653.5"/>
<path d="M1370 635.8V639.2L1375.5 653.5"/>
<path d="M1372 635.8V639.2L1393.0 653.5"/>
<path d="M1388 635.8V639.2L1410.4 653.5"/>
<path d="M1402.5 635.8V639.2L1427.8 653.5"/>
<path d="M1434.8 635.8V639.2L1445.3 653.5"/>
<path d="M1436 635.8V639.2L1462.7 653.5"/>
<path d="M1492 635.8V639.2L1480.2 653.5"/>
<path d="M1497 635.8V639.2L1497.6 653.5"/>
</g>
<text class="sn" transform="translate(16.7,681.5) rotate(-90) scale(0.1)">rs318687563</text>
<text class="sn" transform="translate(34.1,681.5) rotate(-90) scale(0.1)">rs317158939</text>
<text class="sn" transform="translate(51.6,681.5) rotate(-90) scale(0.1)">rs80586493</text>
<text class="sn" transform="translate(69.0,681.5) rotate(-90) scale(0.1)">rs316567567</text>
<text class="sn" transform="translate(86.5,681.5) rotate(-90) scale(0.1)">rs316096826</text>
<text class="sn" transform="translate(103.9,681.5) rotate(-90) scale(0.1)">rs313246295</text>
<text class="sn" transform="translate(121.3,681.5) rotate(-90) scale(0.1)">rs80574565</text>
<text class="sn" transform="translate(138.8,681.5) rotate(-90) scale(0.1)">rs315684449</text>
<text class="sn" transform="translate(156.2,681.5) rotate(-90) scale(0.1)">rs314473268</text>
<text class="sn" transform="translate(173.7,681.5) rotate(-90) scale(0.1)">rs316543746</text>
<text class="sn" transform="translate(191.1,681.5) rotate(-90) scale(0.1)">rs318218272</text>
<text class="sn" transform="translate(208.5,681.5) rotate(-90) scale(0.1)">rs315976760</text>
<text class="sn" transform="translate(226.0,681.5) rotate(-90) scale(0.1)">rs316376788</text>
<text class="sn" transform="translate(243.4,681.5) rotate(-90) scale(0.1)">rs313888272</text>
<text class="sn" transform="translate(260.9,681.5) rotate(-90) scale(0.1)">rs316345758</text>
<text class="sn" transform="translate(278.3,681.5) rotate(-90) scale(0.1)">rs317763939</text>
<text class="sn" transform="translate(295.7,681.5) rotate(-90) scale(0.1)">rs80729476</text>
<text class="sn" transform="translate(313.2,681.5) rotate(-90) scale(0.1)">rs312763735</text>
<text class="sn" transform="translate(330.6,681.5) rotate(-90) scale(0.1)">rs14994619</text>
<text class="sn" transform="translate(348.1,681.5) rotate(-90) scale(0.1)">rs312936344</text>
<text class="sn" transform="translate(365.5,681.5) rotate(-90) scale(0.1)">rs14994611</text>
<text class="sn" transform="translate(382.9,681.5) rotate(-90) scale(0.1)">rs317069247</text>
<text class="sn" transform="translate(400.4,681.5) rotate(-90) scale(0.1)">rs312967486</text>
<text class="sn" transform="translate(417.8,681.5) rotate(-90) scale(0.1)">rs15694749</text>
<text class="sn" transform="translate(435.3,681.5) rotate(-90) scale(0.1)">rs313738516</text>
<text class="sn" transform="translate(452.7,681.5) rotate(-90) scale(0.1)">rs316496290</text>
<text class="sn" transform="translate(470.1,681.5) rotate(-90) scale(0.1)">rs15695028</text>
<text class="sn" transform="translate(487.6,681.5) rotate(-90) scale(0.1)">rs315968889</text>
<text class="sn" transform="translate(505.0,681.5) rotate(-90) scale(0.1)">rs312319259</text>
<text class="sn" transform="translate(522.5,681.5) rotate(-90) scale(0.1)">rs314355243</text>
<text class="sn" transform="translate(539.9,681.5) rotate(-90) scale(0.1)">rs313241993</text>
<text class="sn" transform="translate(557.3,681.5) rotate(-90) scale(0.1)">rs317182584</text>
<text class="sn" transform="translate(574.8,681.5) rotate(-90) scale(0.1)">rs313184119</text>
<text class="sn" transform="translate(592.2,681.5) rotate(-90) scale(0.1)">rs316247737</text>
<text class="sn" transform="translate(609.7,681.5) rotate(-90) scale(0.1)">rs80739218</text>
<text class="sn" transform="translate(627.1,681.5) rotate(-90) scale(0.1)">rs315524861</text>
<text class="sn" transform="translate(644.5,681.5) rotate(-90) scale(0.1)">rs317463178</text>
<text class="sn" transform="translate(662.0,681.5) rotate(-90) scale(0.1)">rs315953420</text>
<text class="sn" transform="translate(679.4,681.5) rotate(-90) scale(0.1)">rs317596876</text>
<text class="sn" transform="translate(696.9,681.5) rotate(-90) scale(0.1)">rs13919310</text>
<text class="sn" transform="translate(714.3,681.5) rotate(-90) scale(0.1)">rs314152812</text>
<text class="sn" transform="translate(731.7,681.5) rotate(-90) scale(0.1)">rs318298877</text>
<text class="sn" transform="translate(749.2,681.5) rotate(-90) scale(0.1)">rs314398439</text>
<text class="sn" transform="translate(766.6,681.5) rotate(-90) scale(0.1)">rs80751137</text>
<text class="sn" transform="translate(784.1,681.5) rotate(-90) scale(0.1)">rs314382917</text>
<text class="sn" transform="translate(801.5,681.5) rotate(-90) scale(0.1)">rs315976165</text>
<text class="sn" transform="translate(818.9,681.5) rotate(-90) scale(0.1)">rs316419203</text>
<text class="sn" transform="translate(836.4,681.5) rotate(-90) scale(0.1)">rs14958460</text>
<text class="sn" transform="translate(853.8,681.5) rotate(-90) scale(0.1)">rs13919318</text>
<text class="sn" transform="translate(871.3,681.5) rotate(-90) scale(0.1)">rs315634238</text>
<text class="sn" transform="translate(888.7,681.5) rotate(-90) scale(0.1)">rs14994761</text>
<text class="sn" transform="translate(906.1,681.5) rotate(-90) scale(0.1)">rs14958484</text>
<text class="sn" transform="translate(923.6,681.5) rotate(-90) scale(0.1)">rs318014412</text>
<text class="sn" transform="translate(941.0,681.5) rotate(-90) scale(0.1)">rs318198156</text>
<text class="sn" transform="translate(958.5,681.5) rotate(-90) scale(0.1)">rs317436738</text>
<text class="sn" transform="translate(975.9,681.5) rotate(-90) scale(0.1)">rs315799888</text>
<text class="sn" transform="translate(993.3,681.5) rotate(-90) scale(0.1)">NoneID</text>
<text class="sn" transform="translate(1010.8,681.5) rotate(-90) scale(0.1)">rs316951527</text>
<text class="sn" transform="translate(1028.2,681.5) rotate(-90) scale(0.1)">rs312998567</text>
<text class="sn" transform="translate(1045.7,681.5) rotate(-90) scale(0.1)">rs313679757</text>
<text class="sn" transform="translate(1063.1,681.5) rotate(-90) scale(0.1)">rs316671214</text>
<text class="sn" transform="translate(1080.5,681.5) rotate(-90) scale(0.1)">rs313758352</text>
<text class="sn" transform="translate(1098.0,681.5) rotate(-90) scale(0.1)">rs13919328</text>
<text class="sn" transform="translate(1115.4,681.5) rotate(-90) scale(0.1)">rs14994789</text>
<text class="sn" transform="translate(1132.9,681.5) rotate(-90) scale(0.1)">rs314451753</text>
<text class="sn" transform="translate(1150.3,681.5) rotate(-90) scale(0.1)">rs316719561</text>
<text class="sn" transform="translate(1167.7,681.5) rotate(-90) scale(0.1)">rs315111657</text>
<text class="sn" transform="translate(1185.2,681.5) rotate(-90) scale(0.1)">rs315438818</text>
<text class="sn" transform="translate(1202.6,681.5) rotate(-90) scale(0.1)">rs15695230</text>
<text class="sn" transform="translate(1220.1,681.5) rotate(-90) scale(0.1)">rs315234432</text>
<text class="sn" transform="translate(1237.5,681.5) rotate(-90) scale(0.1)">rs15695238</text>
<text class="sn" transform="translate(1254.9,681.5) rotate(-90) scale(0.1)">rs14994826</text>
<text class="sn" transform="translate(1272.4,681.5) rotate(-90) scale(0.1)">rs317512691</text>
<text class="sn" transform="translate(1289.8,681.5) rotate(-90) scale(0.1)">rs317485133</text>
<text class="sn" transform="translate(1307.3,681.5) rotate(-90) scale(0.1)">rs314938285</text>
<text class="sn" transform="translate(1324.7,681.5) rotate(-90) scale(0.1)">rs314880512</text>
<text class="sn" transform="translate(1342.1,681.5) rotate(-90) scale(0.1)">rs315829242</text>
<text class="sn" transform="translate(1359.6,681.5) rotate(-90) scale(0.1)">rs314231822</text>
<text class="sn" transform="translate(1377.0,681.5) rotate(-90) scale(0.1)">rs317894487</text>
<text class="sn" transform="translate(1394.5,681.5) rotate(-90) scale(0.1)">rs313619844</text>
<text class="sn" transform="translate(1411.9,681.5) rotate(-90) scale(0.1)">rs316383444</text>
<text class="sn" transform="translate(1429.3,681.5) rotate(-90) scale(0.1)">rs315816578</text>
<text class="sn" transform="translate(1446.8,681.5) rotate(-90) scale(0.1)">rs313242348</text>
<text class="sn" transform="translate(1464.2,681.5) rotate(-90) scale(0.1)">rs316471993</text>
<text class="sn" transform="translate(1481.7,681.5) rotate(-90) scale(0.1)">rs316930344</text>
<text class="sn" transform="translate(1499.1,681.5) rotate(-90) scale(0.1)">rs312587773</text>
<line x1="5.5" y1="687.3" x2="1500" y2="687.3" stroke="#111" stroke-width="1.1"/>
<text class="nm" transform="scale(0.1)" x="152" y="6994">1</text>
<text class="nm" transform="scale(0.1)" x="326" y="6994">2</text>
<text class="nm" transform="scale(0.1)" x="501" y="6994">3</text>
<text class="nm" transform="scale(0.1)" x="675" y="6994">4</text>
<text class="nm" transform="scale(0.1)" x="850" y="6994">5</text>
<text class="nm" transform="scale(0.1)" x="1024" y="6994">6</text>
<text class="nm" transform="scale(0.1)" x="1198" y="6994">7</text>
<text class="nm" transform="scale(0.1)" x="1373" y="6994">8</text>
<text class="nm" transform="scale(0.1)" x="1547" y="6994">9</text>
<text class="nm" transform="scale(0.1)" x="1722" y="6994">10</text>
<text class="nm" transform="scale(0.1)" x="1896" y="6994">11</text>
<text class="nm" transform="scale(0.1)" x="2070" y="6994">12</text>
<text class="nm" transform="scale(0.1)" x="2245" y="6994">13</text>
<text class="nm" transform="scale(0.1)" x="2419" y="6994">14</text>
<text class="nm" transform="scale(0.1)" x="2594" y="6994">15</text>
<text class="nm" transform="scale(0.1)" x="2768" y="6994">16</text>
<text class="nm" transform="scale(0.1)" x="2942" y="6994">17</text>
<text class="nm" transform="scale(0.1)" x="3117" y="6994">18</text>
<text class="nm" transform="scale(0.1)" x="3291" y="6994">19</text>
<text class="nm" transform="scale(0.1)" x="3466" y="6994">20</text>
<text class="nm" transform="scale(0.1)" x="3640" y="6994">21</text>
<text class="nm" transform="scale(0.1)" x="3814" y="6994">22</text>
<text class="nm" transform="scale(0.1)" x="3989" y="6994">23</text>
<text class="nm" transform="scale(0.1)" x="4163" y="6994">24</text>
<text class="nm" transform="scale(0.1)" x="4338" y="6994">25</text>
<text class="nm" transform="scale(0.1)" x="4512" y="6994">26</text>
<text class="nm" transform="scale(0.1)" x="4686" y="6994">27</text>
<text class="nm" transform="scale(0.1)" x="4861" y="6994">28</text>
<text class="nm" transform="scale(0.1)" x="5035" y="6994">29</text>
<text class="nm" transform="scale(0.1)" x="5210" y="6994">30</text>
<text class="nm" transform="scale(0.1)" x="5384" y="6994">31</text>
<text class="nm" transform="scale(0.1)" x="5558" y="6994">32</text>
<text class="nm" transform="scale(0.1)" x="5733" y="6994">33</text>
<text class="nm" transform="scale(0.1)" x="5907" y="6994">34</text>
<text class="nm" transform="scale(0.1)" x="6082" y="6994">35</text>
<text class="nm" transform="scale(0.1)" x="6256" y="6994">36</text>
<text class="nm" transform="scale(0.1)" x="6430" y="6994">37</text>
<text class="nm" transform="scale(0.1)" x="6605" y="6994">38</text>
<text class="nm" transform="scale(0.1)" x="6779" y="6994">39</text>
<text class="nm" transform="scale(0.1)" x="6954" y="6994">40</text>
<text class="nm" transform="scale(0.1)" x="7128" y="6994">41</text>
<text class="nm" transform="scale(0.1)" x="7302" y="6994">42</text>
<text class="nm" transform="scale(0.1)" x="7477" y="6994">43</text>
<text class="nm" transform="scale(0.1)" x="7651" y="6994">44</text>
<text class="nm" transform="scale(0.1)" x="7826" y="6994">45</text>
<text class="nm" transform="scale(0.1)" x="8000" y="6994">46</text>
<text class="nm" transform="scale(0.1)" x="8174" y="6994">47</text>
<text class="nm" transform="scale(0.1)" x="8349" y="6994">48</text>
<text class="nm" transform="scale(0.1)" x="8523" y="6994">49</text>
<text class="nm" transform="scale(0.1)" x="8698" y="6994">50</text>
<text class="nm" transform="scale(0.1)" x="8872" y="6994">51</text>
<text class="nm" transform="scale(0.1)" x="9046" y="6994">52</text>
<text class="nm" transform="scale(0.1)" x="9221" y="6994">53</text>
<text class="nm" transform="scale(0.1)" x="9395" y="6994">54</text>
<text class="nm" transform="scale(0.1)" x="9570" y="6994">55</text>
<text class="nm" transform="scale(0.1)" x="9744" y="6994">56</text>
<text class="nm" transform="scale(0.1)" x="9918" y="6994">57</text>
<text class="nm" transform="scale(0.1)" x="10093" y="6994">58</text>
<text class="nm" transform="scale(0.1)" x="10267" y="6994">59</text>
<text class="nm" transform="scale(0.1)" x="10442" y="6994">60</text>
<text class="nm" transform="scale(0.1)" x="10616" y="6994">61</text>
<text class="nm" transform="scale(0.1)" x="10790" y="6994">62</text>
<text class="nm" transform="scale(0.1)" x="10965" y="6994">63</text>
<text class="nm" transform="scale(0.1)" x="11139" y="6994">64</text>
<text class="nm" transform="scale(0.1)" x="11314" y="6994">65</text>
<text class="nm" transform="scale(0.1)" x="11488" y="6994">66</text>
<text class="nm" transform="scale(0.1)" x="11662" y="6994">67</text>
<text class="nm" transform="scale(0.1)" x="11837" y="6994">68</text>
<text class="nm" transform="scale(0.1)" x="12011" y="6994">69</text>
<text class="nm" transform="scale(0.1)" x="12186" y="6994">70</text>
<text class="nm" transform="scale(0.1)" x="12360" y="6994">71</text>
<text class="nm" transform="scale(0.1)" x="12534" y="6994">72</text>
<text class="nm" transform="scale(0.1)" x="12709" y="6994">73</text>
<text class="nm" transform="scale(0.1)" x="12883" y="6994">74</text>
<text class="nm" transform="scale(0.1)" x="13058" y="6994">75</text>
<text class="nm" transform="scale(0.1)" x="13232" y="6994">76</text>
<text class="nm" transform="scale(0.1)" x="13406" y="6994">77</text>
<text class="nm" transform="scale(0.1)" x="13581" y="6994">78</text>
<text class="nm" transform="scale(0.1)" x="13755" y="6994">79</text>
<text class="nm" transform="scale(0.1)" x="13930" y="6994">80</text>
<text class="nm" transform="scale(0.1)" x="14104" y="6994">81</text>
<text class="nm" transform="scale(0.1)" x="14278" y="6994">82</text>
<text class="nm" transform="scale(0.1)" x="14453" y="6994">83</text>
<text class="nm" transform="scale(0.1)" x="14627" y="6994">84</text>
<text class="nm" transform="scale(0.1)" x="14802" y="6994">85</text>
<text class="nm" transform="scale(0.1)" x="14976" y="6994">86</text>
<text transform="scale(0.1)" x="68" y="6930" font-family="Liberation Sans,sans-serif" font-size="45" fill="#222">Block 1 (55 kb)</text>
<text transform="scale(0.1)" x="3220" y="6930" font-family="Liberation Sans,sans-serif" font-size="45" fill="#222">Block 2 (303 kb)</text>
<polygon points="15.20,708.92 23.92,700.20 1488.88,700.20 1497.60,708.92 756.40,1450.12" fill="#fb0a0a"/>
<path d="M23.92 699.20V700.20L32.64 708.92L41.36 700.20V699.20ZM41.36 699.20V700.20L50.08 708.92L58.80 700.20V699.20ZM58.80 699.20V700.20L67.52 708.92L76.24 700.20V699.20ZM76.24 699.20V700.20L84.96 708.92L93.68 700.20V699.20ZM93.68 699.20V700.20L102.40 708.92L111.12 700.20V699.20ZM111.12 699.20V700.20L119.84 708.92L128.56 700.20V699.20ZM128.56 699.20V700.20L137.28 708.92L146.00 700.20V699.20ZM146.00 699.20V700.20L154.72 708.92L163.44 700.20V699.20ZM163.44 699.20V700.20L172.16 708.92L180.88 700.20V699.20ZM180.88 699.20V700.20L189.60 708.92L198.32 700.20V699.20ZM198.32 699.20V700.20L207.04 708.92L215.76 700.20V699.20ZM215.76 699.20V700.20L224.48 708.92L233.20 700.20V699.20ZM233.20 699.20V700.20L241.92 708.92L250.64 700.20V699.20ZM250.64 699.20V700.20L259.36 708.92L268.08 700.20V699.20ZM268.08 699.20V700.20L276.80 708.92L285.52 700.20V699.20ZM285.52 699.20V700.20L294.24 708.92L302.96 700.20V699.20ZM302.96 699.20V700.20L311.68 708.92L320.40 700.20V699.20ZM320.40 699.20V700.20L329.12 708.92L337.84 700.20V699.20ZM337.84 699.20V700.20L346.56 708.92L355.28 700.20V699.20ZM355.28 699.20V700.20L364.00 708.92L372.72 700.20V699.20ZM372.72 699.20V700.20L381.44 708.92L390.16 700.20V699.20ZM390.16 699.20V700.20L398.88 708.92L407.60 700.20V699.20ZM407.60 699.20V700.20L416.32 708.92L425.04 700.20V699.20ZM425.04 699.20V700.20L433.76 708.92L442.48 700.20V699.20ZM442.48 699.20V700.20L451.20 708.92L459.92 700.20V699.20ZM459.92 699.20V700.20L468.64 708.92L477.36 700.20V699.20ZM477.36 699.20V700.20L486.08 708.92L494.80 700.20V699.20ZM494.80 699.20V700.20L503.52 708.92L512.24 700.20V699.20ZM512.24 699.20V700.20L520.96 708.92L529.68 700.20V699.20ZM529.68 699.20V700.20L538.40 708.92L547.12 700.20V699.20ZM547.12 699.20V700.20L555.84 708.92L564.56 700.20V699.20ZM564.56 699.20V700.20L573.28 708.92L582.00 700.20V699.20ZM582.00 699.20V700.20L590.72 708.92L599.44 700.20V699.20ZM599.44 699.20V700.20L608.16 708.92L616.88 700.20V699.20ZM616.88 699.20V700.20L625.60 708.92L634.32 700.20V699.20ZM634.32 699.20V700.20L643.04 708.92L651.76 700.20V699.20ZM651.76 699.20V700.20L660.48 708.92L669.20 700.20V699.20ZM669.20 699.20V700.20L677.92 708.92L686.64 700.20V699.20ZM686.64 699.20V700.20L695.36 708.92L704.08 700.20V699.20ZM704.08 699.20V700.20L712.80 708.92L721.52 700.20V699.20ZM721.52 699.20V700.20L730.24 708.92L738.96 700.20V699.20ZM738.96 699.20V700.20L747.68 708.92L756.40 700.20V699.20ZM756.40 699.20V700.20L765.12 708.92L773.84 700.20V699.20ZM773.84 699.20V700.20L782.56 708.92L791.28 700.20V699.20ZM791.28 699.20V700.20L800.00 708.92L808.72 700.20V699.20ZM808.72 699.20V700.20L817.44 708.92L826.16 700.20V699.20ZM826.16 699.20V700.20L834.88 708.92L843.60 700.20V699.20ZM843.60 699.20V700.20L852.32 708.92L861.04 700.20V699.20ZM861.04 699.20V700.20L869.76 708.92L878.48 700.20V699.20ZM878.48 699.20V700.20L887.20 708.92L895.92 700.20V699.20ZM895.92 699.20V700.20L904.64 708.92L913.36 700.20V699.20ZM913.36 699.20V700.20L922.08 708.92L930.80 700.20V699.20ZM930.80 699.20V700.20L939.52 708.92L948.24 700.20V699.20ZM948.24 699.20V700.20L956.96 708.92L965.68 700.20V699.20ZM965.68 699.20V700.20L974.40 708.92L983.12 700.20V699.20ZM983.12 699.20V700.20L991.84 708.92L1000.56 700.20V699.20ZM1000.56 699.20V700.20L1009.28 708.92L1018.00 700.20V699.20ZM1018.00 699.20V700.20L1026.72 708.92L1035.44 700.20V699.20ZM1035.44 699.20V700.20L1044.16 708.92L1052.88 700.20V699.20ZM1052.88 699.20V700.20L1061.60 708.92L1070.32 700.20V699.20ZM1070.32 699.20V700.20L1079.04 708.92L1087.76 700.20V699.20ZM1087.76 699.20V700.20L1096.48 708.92L1105.20 700.20V699.20ZM1105.20 699.20V700.20L1113.92 708.92L1122.64 700.20V699.20ZM1122.64 699.20V700.20L1131.36 708.92L1140.08 700.20V699.20ZM1140.08 699.20V700.20L1148.80 708.92L1157.52 700.20V699.20ZM1157.52 699.20V700.20L1166.24 708.92L1174.96 700.20V699.20ZM1174.96 699.20V700.20L1183.68 708.92L1192.40 700.20V699.20ZM1192.40 699.20V700.20L1201.12 708.92L1209.84 700.20V699.20ZM1209.84 699.20V700.20L1218.56 708.92L1227.28 700.20V699.20ZM1227.28 699.20V700.20L1236.00 708.92L1244.72 700.20V699.20ZM1244.72 699.20V700.20L1253.44 708.92L1262.16 700.20V699.20ZM1262.16 699.20V700.20L1270.88 708.92L1279.60 700.20V699.20ZM1279.60 699.20V700.20L1288.32 708.92L1297.04 700.20V699.20ZM1297.04 699.20V700.20L1305.76 708.92L1314.48 700.20V699.20ZM1314.48 699.20V700.20L1323.20 708.92L1331.92 700.20V699.20ZM1331.92 699.20V700.20L1340.64 708.92L1349.36 700.20V699.20ZM1349.36 699.20V700.20L1358.08 708.92L1366.80 700.20V699.20ZM1366.80 699.20V700.20L1375.52 708.92L1384.24 700.20V699.20ZM1384.24 699.20V700.20L1392.96 708.92L1401.68 700.20V699.20ZM1401.68 699.20V700.20L1410.40 708.92L1419.12 700.20V699.20ZM1419.12 699.20V700.20L1427.84 708.92L1436.56 700.20V699.20ZM1436.56 699.20V700.20L1445.28 708.92L1454.00 700.20V699.20ZM1454.00 699.20V700.20L1462.72 708.92L1471.44 700.20V699.20ZM1471.44 699.20V700.20L1480.16 708.92L1488.88 700.20V699.20Z" fill="#d4d0c8"/>
<path d="M172.2 848.4l8.72 8.72l-8.72 8.72l-8.72 -8.72zM180.9 857.2l8.72 8.72l-8.72 8.72l-8.72 -8.72zM189.6 865.9l8.72 8.72l-8.72 8.72l-8.72 -8.72zM224.5 900.8l8.72 8.72l-8.72 8.72l-8.72 -8.72zM233.2 909.5l8.72 8.72l-8.72 8.72l-8.72 -8.72zM241.9 918.2l8.72 8.72l-8.72 8.72l-8.72 -8.72zM259.4 935.6l8.72 8.72l-8.72 8.72l-8.72 -8.72zM268.1 944.4l8.72 8.72l-8.72 8.72l-8.72 -8.72zM276.8 953.1l8.72 8.72l-8.72 8.72l-8.72 -8.72zM285.5 961.8l8.72 8.72l-8.72 8.72l-8.72 -8.72zM294.2 970.5l8.72 8.72l-8.72 8.72l-8.72 -8.72zM329.1 1005.4l8.72 8.72l-8.72 8.72l-8.72 -8.72zM364.0 1040.3l8.72 8.72l-8.72 8.72l-8.72 -8.72zM372.7 1049.0l8.72 8.72l-8.72 8.72l-8.72 -8.72zM407.6 1083.9l8.72 8.72l-8.72 8.72l-8.72 -8.72zM50.1 708.9l8.72 8.72l-8.72 8.72l-8.72 -8.72zM76.2 735.1l8.72 8.72l-8.72 8.72l-8.72 -8.72zM102.4 761.2l8.72 8.72l-8.72 8.72l-8.72 -8.72zM146.0 804.8l8.72 8.72l-8.72 8.72l-8.72 -8.72zM154.7 813.6l8.72 8.72l-8.72 8.72l-8.72 -8.72zM163.4 822.3l8.72 8.72l-8.72 8.72l-8.72 -8.72zM198.3 857.2l8.72 8.72l-8.72 8.72l-8.72 -8.72zM207.0 865.9l8.72 8.72l-8.72 8.72l-8.72 -8.72zM215.8 874.6l8.72 8.72l-8.72 8.72l-8.72 -8.72zM224.5 883.3l8.72 8.72l-8.72 8.72l-8.72 -8.72zM233.2 892.0l8.72 8.72l-8.72 8.72l-8.72 -8.72zM268.1 926.9l8.72 8.72l-8.72 8.72l-8.72 -8.72zM285.5 944.4l8.72 8.72l-8.72 8.72l-8.72 -8.72zM303.0 961.8l8.72 8.72l-8.72 8.72l-8.72 -8.72zM311.7 970.5l8.72 8.72l-8.72 8.72l-8.72 -8.72zM346.6 1005.4l8.72 8.72l-8.72 8.72l-8.72 -8.72zM372.7 1031.6l8.72 8.72l-8.72 8.72l-8.72 -8.72zM416.3 1075.2l8.72 8.72l-8.72 8.72l-8.72 -8.72zM119.8 761.2l8.72 8.72l-8.72 8.72l-8.72 -8.72zM180.9 822.3l8.72 8.72l-8.72 8.72l-8.72 -8.72zM207.0 848.4l8.72 8.72l-8.72 8.72l-8.72 -8.72zM224.5 865.9l8.72 8.72l-8.72 8.72l-8.72 -8.72zM250.6 892.0l8.72 8.72l-8.72 8.72l-8.72 -8.72zM259.4 900.8l8.72 8.72l-8.72 8.72l-8.72 -8.72zM268.1 909.5l8.72 8.72l-8.72 8.72l-8.72 -8.72zM276.8 918.2l8.72 8.72l-8.72 8.72l-8.72 -8.72zM285.5 926.9l8.72 8.72l-8.72 8.72l-8.72 -8.72zM294.2 935.6l8.72 8.72l-8.72 8.72l-8.72 -8.72zM320.4 961.8l8.72 8.72l-8.72 8.72l-8.72 -8.72zM329.1 970.5l8.72 8.72l-8.72 8.72l-8.72 -8.72zM451.2 1092.6l8.72 8.72l-8.72 8.72l-8.72 -8.72zM146.0 770.0l8.72 8.72l-8.72 8.72l-8.72 -8.72zM163.4 787.4l8.72 8.72l-8.72 8.72l-8.72 -8.72zM172.2 796.1l8.72 8.72l-8.72 8.72l-8.72 -8.72zM241.9 865.9l8.72 8.72l-8.72 8.72l-8.72 -8.72zM294.2 918.2l8.72 8.72l-8.72 8.72l-8.72 -8.72zM311.7 935.6l8.72 8.72l-8.72 8.72l-8.72 -8.72zM320.4 944.4l8.72 8.72l-8.72 8.72l-8.72 -8.72zM337.8 961.8l8.72 8.72l-8.72 8.72l-8.72 -8.72zM372.7 996.7l8.72 8.72l-8.72 8.72l-8.72 -8.72zM381.4 1005.4l8.72 8.72l-8.72 8.72l-8.72 -8.72zM390.2 1014.1l8.72 8.72l-8.72 8.72l-8.72 -8.72zM416.3 1040.3l8.72 8.72l-8.72 8.72l-8.72 -8.72zM425.0 1049.0l8.72 8.72l-8.72 8.72l-8.72 -8.72zM538.4 1162.4l8.72 8.72l-8.72 8.72l-8.72 -8.72zM215.8 822.3l8.72 8.72l-8.72 8.72l-8.72 -8.72zM233.2 839.7l8.72 8.72l-8.72 8.72l-8.72 -8.72zM250.6 857.2l8.72 8.72l-8.72 8.72l-8.72 -8.72zM259.4 865.9l8.72 8.72l-8.72 8.72l-8.72 -8.72zM311.7 918.2l8.72 8.72l-8.72 8.72l-8.72 -8.72zM320.4 926.9l8.72 8.72l-8.72 8.72l-8.72 -8.72zM337.8 944.4l8.72 8.72l-8.72 8.72l-8.72 -8.72zM346.6 953.1l8.72 8.72l-8.72 8.72l-8.72 -8.72zM364.0 970.5l8.72 8.72l-8.72 8.72l-8.72 -8.72zM372.7 979.2l8.72 8.72l-8.72 8.72l-8.72 -8.72zM381.4 988.0l8.72 8.72l-8.72 8.72l-8.72 -8.72zM390.2 996.7l8.72 8.72l-8.72 8.72l-8.72 -8.72zM433.8 1040.3l8.72 8.72l-8.72 8.72l-8.72 -8.72zM119.8 708.9l8.72 8.72l-8.72 8.72l-8.72 -8.72zM224.5 813.6l8.72 8.72l-8.72 8.72l-8.72 -8.72zM303.0 892.0l8.72 8.72l-8.72 8.72l-8.72 -8.72zM329.1 918.2l8.72 8.72l-8.72 8.72l-8.72 -8.72zM346.6 935.6l8.72 8.72l-8.72 8.72l-8.72 -8.72zM372.7 961.8l8.72 8.72l-8.72 8.72l-8.72 -8.72zM398.9 988.0l8.72 8.72l-8.72 8.72l-8.72 -8.72zM416.3 1005.4l8.72 8.72l-8.72 8.72l-8.72 -8.72zM198.3 770.0l8.72 8.72l-8.72 8.72l-8.72 -8.72zM303.0 874.6l8.72 8.72l-8.72 8.72l-8.72 -8.72zM311.7 883.3l8.72 8.72l-8.72 8.72l-8.72 -8.72zM320.4 892.0l8.72 8.72l-8.72 8.72l-8.72 -8.72zM381.4 953.1l8.72 8.72l-8.72 8.72l-8.72 -8.72zM407.6 979.2l8.72 8.72l-8.72 8.72l-8.72 -8.72zM425.0 996.7l8.72 8.72l-8.72 8.72l-8.72 -8.72zM433.8 1005.4l8.72 8.72l-8.72 8.72l-8.72 -8.72zM442.5 1014.1l8.72 8.72l-8.72 8.72l-8.72 -8.72zM468.6 1040.3l8.72 8.72l-8.72 8.72l-8.72 -8.72zM477.4 1049.0l8.72 8.72l-8.72 8.72l-8.72 -8.72zM276.8 831.0l8.72 8.72l-8.72 8.72l-8.72 -8.72zM303.0 857.2l8.72 8.72l-8.72 8.72l-8.72 -8.72zM355.3 909.5l8.72 8.72l-8.72 8.72l-8.72 -8.72zM372.7 926.9l8.72 8.72l-8.72 8.72l-8.72 -8.72zM425.0 979.2l8.72 8.72l-8.72 8.72l-8.72 -8.72zM433.8 988.0l8.72 8.72l-8.72 8.72l-8.72 -8.72zM459.9 1014.1l8.72 8.72l-8.72 8.72l-8.72 -8.72zM503.5 1057.7l8.72 8.72l-8.72 8.72l-8.72 -8.72zM573.3 1127.5l8.72 8.72l-8.72 8.72l-8.72 -8.72zM268.1 804.8l8.72 8.72l-8.72 8.72l-8.72 -8.72zM285.5 822.3l8.72 8.72l-8.72 8.72l-8.72 -8.72zM320.4 857.2l8.72 8.72l-8.72 8.72l-8.72 -8.72zM337.8 874.6l8.72 8.72l-8.72 8.72l-8.72 -8.72zM372.7 909.5l8.72 8.72l-8.72 8.72l-8.72 -8.72zM390.2 926.9l8.72 8.72l-8.72 8.72l-8.72 -8.72zM398.9 935.6l8.72 8.72l-8.72 8.72l-8.72 -8.72zM433.8 970.5l8.72 8.72l-8.72 8.72l-8.72 -8.72zM468.6 1005.4l8.72 8.72l-8.72 8.72l-8.72 -8.72zM503.5 1040.3l8.72 8.72l-8.72 8.72l-8.72 -8.72zM224.5 743.8l8.72 8.72l-8.72 8.72l-8.72 -8.72zM346.6 865.9l8.72 8.72l-8.72 8.72l-8.72 -8.72zM364.0 883.3l8.72 8.72l-8.72 8.72l-8.72 -8.72zM372.7 892.0l8.72 8.72l-8.72 8.72l-8.72 -8.72zM390.2 909.5l8.72 8.72l-8.72 8.72l-8.72 -8.72zM425.0 944.4l8.72 8.72l-8.72 8.72l-8.72 -8.72zM442.5 961.8l8.72 8.72l-8.72 8.72l-8.72 -8.72zM451.2 970.5l8.72 8.72l-8.72 8.72l-8.72 -8.72zM459.9 979.2l8.72 8.72l-8.72 8.72l-8.72 -8.72zM468.6 988.0l8.72 8.72l-8.72 8.72l-8.72 -8.72zM477.4 996.7l8.72 8.72l-8.72 8.72l-8.72 -8.72zM512.2 1031.6l8.72 8.72l-8.72 8.72l-8.72 -8.72zM538.4 1057.7l8.72 8.72l-8.72 8.72l-8.72 -8.72zM250.6 752.5l8.72 8.72l-8.72 8.72l-8.72 -8.72zM294.2 796.1l8.72 8.72l-8.72 8.72l-8.72 -8.72zM337.8 839.7l8.72 8.72l-8.72 8.72l-8.72 -8.72zM346.6 848.4l8.72 8.72l-8.72 8.72l-8.72 -8.72zM372.7 874.6l8.72 8.72l-8.72 8.72l-8.72 -8.72zM381.4 883.3l8.72 8.72l-8.72 8.72l-8.72 -8.72zM390.2 892.0l8.72 8.72l-8.72 8.72l-8.72 -8.72zM398.9 900.8l8.72 8.72l-8.72 8.72l-8.72 -8.72zM407.6 909.5l8.72 8.72l-8.72 8.72l-8.72 -8.72zM451.2 953.1l8.72 8.72l-8.72 8.72l-8.72 -8.72zM468.6 970.5l8.72 8.72l-8.72 8.72l-8.72 -8.72zM494.8 996.7l8.72 8.72l-8.72 8.72l-8.72 -8.72zM547.1 1049.0l8.72 8.72l-8.72 8.72l-8.72 -8.72zM555.8 1057.7l8.72 8.72l-8.72 8.72l-8.72 -8.72zM311.7 796.1l8.72 8.72l-8.72 8.72l-8.72 -8.72zM372.7 857.2l8.72 8.72l-8.72 8.72l-8.72 -8.72zM390.2 874.6l8.72 8.72l-8.72 8.72l-8.72 -8.72zM398.9 883.3l8.72 8.72l-8.72 8.72l-8.72 -8.72zM416.3 900.8l8.72 8.72l-8.72 8.72l-8.72 -8.72zM459.9 944.4l8.72 8.72l-8.72 8.72l-8.72 -8.72zM564.6 1049.0l8.72 8.72l-8.72 8.72l-8.72 -8.72zM337.8 804.8l8.72 8.72l-8.72 8.72l-8.72 -8.72zM372.7 839.7l8.72 8.72l-8.72 8.72l-8.72 -8.72zM381.4 848.4l8.72 8.72l-8.72 8.72l-8.72 -8.72zM407.6 874.6l8.72 8.72l-8.72 8.72l-8.72 -8.72zM416.3 883.3l8.72 8.72l-8.72 8.72l-8.72 -8.72zM433.8 900.8l8.72 8.72l-8.72 8.72l-8.72 -8.72zM442.5 909.5l8.72 8.72l-8.72 8.72l-8.72 -8.72zM468.6 935.6l8.72 8.72l-8.72 8.72l-8.72 -8.72zM477.4 944.4l8.72 8.72l-8.72 8.72l-8.72 -8.72zM494.8 961.8l8.72 8.72l-8.72 8.72l-8.72 -8.72zM503.5 970.5l8.72 8.72l-8.72 8.72l-8.72 -8.72zM529.7 996.7l8.72 8.72l-8.72 8.72l-8.72 -8.72zM547.1 1014.1l8.72 8.72l-8.72 8.72l-8.72 -8.72zM573.3 1040.3l8.72 8.72l-8.72 8.72l-8.72 -8.72zM372.7 822.3l8.72 8.72l-8.72 8.72l-8.72 -8.72zM407.6 857.2l8.72 8.72l-8.72 8.72l-8.72 -8.72zM416.3 865.9l8.72 8.72l-8.72 8.72l-8.72 -8.72zM425.0 874.6l8.72 8.72l-8.72 8.72l-8.72 -8.72zM433.8 883.3l8.72 8.72l-8.72 8.72l-8.72 -8.72zM442.5 892.0l8.72 8.72l-8.72 8.72l-8.72 -8.72zM451.2 900.8l8.72 8.72l-8.72 8.72l-8.72 -8.72zM494.8 944.4l8.72 8.72l-8.72 8.72l-8.72 -8.72zM503.5 953.1l8.72 8.72l-8.72 8.72l-8.72 -8.72zM512.2 961.8l8.72 8.72l-8.72 8.72l-8.72 -8.72zM521.0 970.5l8.72 8.72l-8.72 8.72l-8.72 -8.72zM529.7 979.2l8.72 8.72l-8.72 8.72l-8.72 -8.72zM582.0 1031.6l8.72 8.72l-8.72 8.72l-8.72 -8.72zM364.0 796.1l8.72 8.72l-8.72 8.72l-8.72 -8.72zM372.7 804.8l8.72 8.72l-8.72 8.72l-8.72 -8.72zM407.6 839.7l8.72 8.72l-8.72 8.72l-8.72 -8.72zM425.0 857.2l8.72 8.72l-8.72 8.72l-8.72 -8.72zM433.8 865.9l8.72 8.72l-8.72 8.72l-8.72 -8.72zM451.2 883.3l8.72 8.72l-8.72 8.72l-8.72 -8.72zM459.9 892.0l8.72 8.72l-8.72 8.72l-8.72 -8.72zM503.5 935.6l8.72 8.72l-8.72 8.72l-8.72 -8.72zM564.6 996.7l8.72 8.72l-8.72 8.72l-8.72 -8.72zM294.2 708.9l8.72 8.72l-8.72 8.72l-8.72 -8.72zM433.8 848.4l8.72 8.72l-8.72 8.72l-8.72 -8.72zM477.4 892.0l8.72 8.72l-8.72 8.72l-8.72 -8.72zM486.1 900.8l8.72 8.72l-8.72 8.72l-8.72 -8.72zM494.8 909.5l8.72 8.72l-8.72 8.72l-8.72 -8.72zM512.2 926.9l8.72 8.72l-8.72 8.72l-8.72 -8.72zM521.0 935.6l8.72 8.72l-8.72 8.72l-8.72 -8.72zM538.4 953.1l8.72 8.72l-8.72 8.72l-8.72 -8.72zM555.8 970.5l8.72 8.72l-8.72 8.72l-8.72 -8.72zM564.6 979.2l8.72 8.72l-8.72 8.72l-8.72 -8.72zM573.3 988.0l8.72 8.72l-8.72 8.72l-8.72 -8.72zM582.0 996.7l8.72 8.72l-8.72 8.72l-8.72 -8.72zM608.2 1022.8l8.72 8.72l-8.72 8.72l-8.72 -8.72zM677.9 1092.6l8.72 8.72l-8.72 8.72l-8.72 -8.72zM372.7 770.0l8.72 8.72l-8.72 8.72l-8.72 -8.72zM416.3 813.6l8.72 8.72l-8.72 8.72l-8.72 -8.72zM451.2 848.4l8.72 8.72l-8.72 8.72l-8.72 -8.72zM477.4 874.6l8.72 8.72l-8.72 8.72l-8.72 -8.72zM486.1 883.3l8.72 8.72l-8.72 8.72l-8.72 -8.72zM503.5 900.8l8.72 8.72l-8.72 8.72l-8.72 -8.72zM512.2 909.5l8.72 8.72l-8.72 8.72l-8.72 -8.72zM521.0 918.2l8.72 8.72l-8.72 8.72l-8.72 -8.72zM555.8 953.1l8.72 8.72l-8.72 8.72l-8.72 -8.72zM564.6 961.8l8.72 8.72l-8.72 8.72l-8.72 -8.72zM599.4 996.7l8.72 8.72l-8.72 8.72l-8.72 -8.72zM643.0 1040.3l8.72 8.72l-8.72 8.72l-8.72 -8.72zM355.3 735.1l8.72 8.72l-8.72 8.72l-8.72 -8.72zM425.0 804.8l8.72 8.72l-8.72 8.72l-8.72 -8.72zM442.5 822.3l8.72 8.72l-8.72 8.72l-8.72 -8.72zM477.4 857.2l8.72 8.72l-8.72 8.72l-8.72 -8.72zM486.1 865.9l8.72 8.72l-8.72 8.72l-8.72 -8.72zM494.8 874.6l8.72 8.72l-8.72 8.72l-8.72 -8.72zM512.2 892.0l8.72 8.72l-8.72 8.72l-8.72 -8.72zM555.8 935.6l8.72 8.72l-8.72 8.72l-8.72 -8.72zM590.7 970.5l8.72 8.72l-8.72 8.72l-8.72 -8.72zM625.6 1005.4l8.72 8.72l-8.72 8.72l-8.72 -8.72zM651.8 1031.6l8.72 8.72l-8.72 8.72l-8.72 -8.72zM695.4 1075.2l8.72 8.72l-8.72 8.72l-8.72 -8.72zM442.5 804.8l8.72 8.72l-8.72 8.72l-8.72 -8.72zM451.2 813.6l8.72 8.72l-8.72 8.72l-8.72 -8.72zM503.5 865.9l8.72 8.72l-8.72 8.72l-8.72 -8.72zM547.1 909.5l8.72 8.72l-8.72 8.72l-8.72 -8.72zM582.0 944.4l8.72 8.72l-8.72 8.72l-8.72 -8.72zM608.2 970.5l8.72 8.72l-8.72 8.72l-8.72 -8.72zM616.9 979.2l8.72 8.72l-8.72 8.72l-8.72 -8.72zM651.8 1014.1l8.72 8.72l-8.72 8.72l-8.72 -8.72zM451.2 796.1l8.72 8.72l-8.72 8.72l-8.72 -8.72zM486.1 831.0l8.72 8.72l-8.72 8.72l-8.72 -8.72zM494.8 839.7l8.72 8.72l-8.72 8.72l-8.72 -8.72zM521.0 865.9l8.72 8.72l-8.72 8.72l-8.72 -8.72zM538.4 883.3l8.72 8.72l-8.72 8.72l-8.72 -8.72zM555.8 900.8l8.72 8.72l-8.72 8.72l-8.72 -8.72zM564.6 909.5l8.72 8.72l-8.72 8.72l-8.72 -8.72zM582.0 926.9l8.72 8.72l-8.72 8.72l-8.72 -8.72zM590.7 935.6l8.72 8.72l-8.72 8.72l-8.72 -8.72zM599.4 944.4l8.72 8.72l-8.72 8.72l-8.72 -8.72zM608.2 953.1l8.72 8.72l-8.72 8.72l-8.72 -8.72zM616.9 961.8l8.72 8.72l-8.72 8.72l-8.72 -8.72zM634.3 979.2l8.72 8.72l-8.72 8.72l-8.72 -8.72zM643.0 988.0l8.72 8.72l-8.72 8.72l-8.72 -8.72zM651.8 996.7l8.72 8.72l-8.72 8.72l-8.72 -8.72zM677.9 1022.8l8.72 8.72l-8.72 8.72l-8.72 -8.72zM730.2 1075.2l8.72 8.72l-8.72 8.72l-8.72 -8.72zM390.2 717.6l8.72 8.72l-8.72 8.72l-8.72 -8.72zM451.2 778.7l8.72 8.72l-8.72 8.72l-8.72 -8.72zM494.8 822.3l8.72 8.72l-8.72 8.72l-8.72 -8.72zM521.0 848.4l8.72 8.72l-8.72 8.72l-8.72 -8.72zM529.7 857.2l8.72 8.72l-8.72 8.72l-8.72 -8.72zM538.4 865.9l8.72 8.72l-8.72 8.72l-8.72 -8.72zM573.3 900.8l8.72 8.72l-8.72 8.72l-8.72 -8.72zM582.0 909.5l8.72 8.72l-8.72 8.72l-8.72 -8.72zM590.7 918.2l8.72 8.72l-8.72 8.72l-8.72 -8.72zM608.2 935.6l8.72 8.72l-8.72 8.72l-8.72 -8.72zM616.9 944.4l8.72 8.72l-8.72 8.72l-8.72 -8.72zM651.8 979.2l8.72 8.72l-8.72 8.72l-8.72 -8.72zM808.7 1136.2l8.72 8.72l-8.72 8.72l-8.72 -8.72zM425.0 735.1l8.72 8.72l-8.72 8.72l-8.72 -8.72zM521.0 831.0l8.72 8.72l-8.72 8.72l-8.72 -8.72zM538.4 848.4l8.72 8.72l-8.72 8.72l-8.72 -8.72zM547.1 857.2l8.72 8.72l-8.72 8.72l-8.72 -8.72zM564.6 874.6l8.72 8.72l-8.72 8.72l-8.72 -8.72zM582.0 892.0l8.72 8.72l-8.72 8.72l-8.72 -8.72zM625.6 935.6l8.72 8.72l-8.72 8.72l-8.72 -8.72zM643.0 953.1l8.72 8.72l-8.72 8.72l-8.72 -8.72zM669.2 979.2l8.72 8.72l-8.72 8.72l-8.72 -8.72zM677.9 988.0l8.72 8.72l-8.72 8.72l-8.72 -8.72zM486.1 778.7l8.72 8.72l-8.72 8.72l-8.72 -8.72zM521.0 813.6l8.72 8.72l-8.72 8.72l-8.72 -8.72zM529.7 822.3l8.72 8.72l-8.72 8.72l-8.72 -8.72zM547.1 839.7l8.72 8.72l-8.72 8.72l-8.72 -8.72zM555.8 848.4l8.72 8.72l-8.72 8.72l-8.72 -8.72zM573.3 865.9l8.72 8.72l-8.72 8.72l-8.72 -8.72zM599.4 892.0l8.72 8.72l-8.72 8.72l-8.72 -8.72zM608.2 900.8l8.72 8.72l-8.72 8.72l-8.72 -8.72zM616.9 909.5l8.72 8.72l-8.72 8.72l-8.72 -8.72zM625.6 918.2l8.72 8.72l-8.72 8.72l-8.72 -8.72zM634.3 926.9l8.72 8.72l-8.72 8.72l-8.72 -8.72zM660.5 953.1l8.72 8.72l-8.72 8.72l-8.72 -8.72zM704.1 996.7l8.72 8.72l-8.72 8.72l-8.72 -8.72zM730.2 1022.8l8.72 8.72l-8.72 8.72l-8.72 -8.72zM782.6 1075.2l8.72 8.72l-8.72 8.72l-8.72 -8.72zM494.8 770.0l8.72 8.72l-8.72 8.72l-8.72 -8.72zM590.7 865.9l8.72 8.72l-8.72 8.72l-8.72 -8.72zM608.2 883.3l8.72 8.72l-8.72 8.72l-8.72 -8.72zM616.9 892.0l8.72 8.72l-8.72 8.72l-8.72 -8.72zM634.3 909.5l8.72 8.72l-8.72 8.72l-8.72 -8.72zM643.0 918.2l8.72 8.72l-8.72 8.72l-8.72 -8.72zM669.2 944.4l8.72 8.72l-8.72 8.72l-8.72 -8.72zM686.6 961.8l8.72 8.72l-8.72 8.72l-8.72 -8.72zM730.2 1005.4l8.72 8.72l-8.72 8.72l-8.72 -8.72zM782.6 1057.7l8.72 8.72l-8.72 8.72l-8.72 -8.72zM494.8 752.5l8.72 8.72l-8.72 8.72l-8.72 -8.72zM529.7 787.4l8.72 8.72l-8.72 8.72l-8.72 -8.72zM599.4 857.2l8.72 8.72l-8.72 8.72l-8.72 -8.72zM643.0 900.8l8.72 8.72l-8.72 8.72l-8.72 -8.72zM660.5 918.2l8.72 8.72l-8.72 8.72l-8.72 -8.72zM669.2 926.9l8.72 8.72l-8.72 8.72l-8.72 -8.72zM712.8 970.5l8.72 8.72l-8.72 8.72l-8.72 -8.72zM739.0 996.7l8.72 8.72l-8.72 8.72l-8.72 -8.72zM791.3 1049.0l8.72 8.72l-8.72 8.72l-8.72 -8.72zM486.1 726.4l8.72 8.72l-8.72 8.72l-8.72 -8.72zM521.0 761.2l8.72 8.72l-8.72 8.72l-8.72 -8.72zM529.7 770.0l8.72 8.72l-8.72 8.72l-8.72 -8.72zM547.1 787.4l8.72 8.72l-8.72 8.72l-8.72 -8.72zM599.4 839.7l8.72 8.72l-8.72 8.72l-8.72 -8.72zM634.3 874.6l8.72 8.72l-8.72 8.72l-8.72 -8.72zM651.8 892.0l8.72 8.72l-8.72 8.72l-8.72 -8.72zM704.1 944.4l8.72 8.72l-8.72 8.72l-8.72 -8.72zM721.5 961.8l8.72 8.72l-8.72 8.72l-8.72 -8.72zM756.4 996.7l8.72 8.72l-8.72 8.72l-8.72 -8.72zM782.6 1022.8l8.72 8.72l-8.72 8.72l-8.72 -8.72zM817.4 1057.7l8.72 8.72l-8.72 8.72l-8.72 -8.72zM494.8 717.6l8.72 8.72l-8.72 8.72l-8.72 -8.72zM599.4 822.3l8.72 8.72l-8.72 8.72l-8.72 -8.72zM608.2 831.0l8.72 8.72l-8.72 8.72l-8.72 -8.72zM643.0 865.9l8.72 8.72l-8.72 8.72l-8.72 -8.72zM651.8 874.6l8.72 8.72l-8.72 8.72l-8.72 -8.72zM669.2 892.0l8.72 8.72l-8.72 8.72l-8.72 -8.72zM677.9 900.8l8.72 8.72l-8.72 8.72l-8.72 -8.72zM695.4 918.2l8.72 8.72l-8.72 8.72l-8.72 -8.72zM756.4 979.2l8.72 8.72l-8.72 8.72l-8.72 -8.72zM791.3 1014.1l8.72 8.72l-8.72 8.72l-8.72 -8.72zM887.2 1110.0l8.72 8.72l-8.72 8.72l-8.72 -8.72zM573.3 778.7l8.72 8.72l-8.72 8.72l-8.72 -8.72zM599.4 804.8l8.72 8.72l-8.72 8.72l-8.72 -8.72zM651.8 857.2l8.72 8.72l-8.72 8.72l-8.72 -8.72zM669.2 874.6l8.72 8.72l-8.72 8.72l-8.72 -8.72zM686.6 892.0l8.72 8.72l-8.72 8.72l-8.72 -8.72zM747.7 953.1l8.72 8.72l-8.72 8.72l-8.72 -8.72zM756.4 961.8l8.72 8.72l-8.72 8.72l-8.72 -8.72zM765.1 970.5l8.72 8.72l-8.72 8.72l-8.72 -8.72zM773.8 979.2l8.72 8.72l-8.72 8.72l-8.72 -8.72zM782.6 988.0l8.72 8.72l-8.72 8.72l-8.72 -8.72zM791.3 996.7l8.72 8.72l-8.72 8.72l-8.72 -8.72zM808.7 1014.1l8.72 8.72l-8.72 8.72l-8.72 -8.72zM834.9 1040.3l8.72 8.72l-8.72 8.72l-8.72 -8.72zM904.6 1110.0l8.72 8.72l-8.72 8.72l-8.72 -8.72zM521.0 708.9l8.72 8.72l-8.72 8.72l-8.72 -8.72zM599.4 787.4l8.72 8.72l-8.72 8.72l-8.72 -8.72zM616.9 804.8l8.72 8.72l-8.72 8.72l-8.72 -8.72zM634.3 822.3l8.72 8.72l-8.72 8.72l-8.72 -8.72zM686.6 874.6l8.72 8.72l-8.72 8.72l-8.72 -8.72zM695.4 883.3l8.72 8.72l-8.72 8.72l-8.72 -8.72zM739.0 926.9l8.72 8.72l-8.72 8.72l-8.72 -8.72zM747.7 935.6l8.72 8.72l-8.72 8.72l-8.72 -8.72zM756.4 944.4l8.72 8.72l-8.72 8.72l-8.72 -8.72zM765.1 953.1l8.72 8.72l-8.72 8.72l-8.72 -8.72zM791.3 979.2l8.72 8.72l-8.72 8.72l-8.72 -8.72zM800.0 988.0l8.72 8.72l-8.72 8.72l-8.72 -8.72zM817.4 1005.4l8.72 8.72l-8.72 8.72l-8.72 -8.72zM843.6 1031.6l8.72 8.72l-8.72 8.72l-8.72 -8.72zM547.1 717.6l8.72 8.72l-8.72 8.72l-8.72 -8.72zM573.3 743.8l8.72 8.72l-8.72 8.72l-8.72 -8.72zM616.9 787.4l8.72 8.72l-8.72 8.72l-8.72 -8.72zM625.6 796.1l8.72 8.72l-8.72 8.72l-8.72 -8.72zM686.6 857.2l8.72 8.72l-8.72 8.72l-8.72 -8.72zM695.4 865.9l8.72 8.72l-8.72 8.72l-8.72 -8.72zM704.1 874.6l8.72 8.72l-8.72 8.72l-8.72 -8.72zM712.8 883.3l8.72 8.72l-8.72 8.72l-8.72 -8.72zM721.5 892.0l8.72 8.72l-8.72 8.72l-8.72 -8.72zM765.1 935.6l8.72 8.72l-8.72 8.72l-8.72 -8.72zM773.8 944.4l8.72 8.72l-8.72 8.72l-8.72 -8.72zM791.3 961.8l8.72 8.72l-8.72 8.72l-8.72 -8.72zM808.7 979.2l8.72 8.72l-8.72 8.72l-8.72 -8.72zM861.0 1031.6l8.72 8.72l-8.72 8.72l-8.72 -8.72zM878.5 1049.0l8.72 8.72l-8.72 8.72l-8.72 -8.72zM608.2 761.2l8.72 8.72l-8.72 8.72l-8.72 -8.72zM651.8 804.8l8.72 8.72l-8.72 8.72l-8.72 -8.72zM660.5 813.6l8.72 8.72l-8.72 8.72l-8.72 -8.72zM677.9 831.0l8.72 8.72l-8.72 8.72l-8.72 -8.72zM686.6 839.7l8.72 8.72l-8.72 8.72l-8.72 -8.72zM704.1 857.2l8.72 8.72l-8.72 8.72l-8.72 -8.72zM721.5 874.6l8.72 8.72l-8.72 8.72l-8.72 -8.72zM730.2 883.3l8.72 8.72l-8.72 8.72l-8.72 -8.72zM739.0 892.0l8.72 8.72l-8.72 8.72l-8.72 -8.72zM756.4 909.5l8.72 8.72l-8.72 8.72l-8.72 -8.72zM782.6 935.6l8.72 8.72l-8.72 8.72l-8.72 -8.72zM800.0 953.1l8.72 8.72l-8.72 8.72l-8.72 -8.72zM808.7 961.8l8.72 8.72l-8.72 8.72l-8.72 -8.72zM852.3 1005.4l8.72 8.72l-8.72 8.72l-8.72 -8.72zM861.0 1014.1l8.72 8.72l-8.72 8.72l-8.72 -8.72zM582.0 717.6l8.72 8.72l-8.72 8.72l-8.72 -8.72zM651.8 787.4l8.72 8.72l-8.72 8.72l-8.72 -8.72zM677.9 813.6l8.72 8.72l-8.72 8.72l-8.72 -8.72zM686.6 822.3l8.72 8.72l-8.72 8.72l-8.72 -8.72zM695.4 831.0l8.72 8.72l-8.72 8.72l-8.72 -8.72zM739.0 874.6l8.72 8.72l-8.72 8.72l-8.72 -8.72zM782.6 918.2l8.72 8.72l-8.72 8.72l-8.72 -8.72zM800.0 935.6l8.72 8.72l-8.72 8.72l-8.72 -8.72zM808.7 944.4l8.72 8.72l-8.72 8.72l-8.72 -8.72zM817.4 953.1l8.72 8.72l-8.72 8.72l-8.72 -8.72zM861.0 996.7l8.72 8.72l-8.72 8.72l-8.72 -8.72zM887.2 1022.8l8.72 8.72l-8.72 8.72l-8.72 -8.72zM625.6 743.8l8.72 8.72l-8.72 8.72l-8.72 -8.72zM651.8 770.0l8.72 8.72l-8.72 8.72l-8.72 -8.72zM669.2 787.4l8.72 8.72l-8.72 8.72l-8.72 -8.72zM721.5 839.7l8.72 8.72l-8.72 8.72l-8.72 -8.72zM756.4 874.6l8.72 8.72l-8.72 8.72l-8.72 -8.72zM765.1 883.3l8.72 8.72l-8.72 8.72l-8.72 -8.72zM791.3 909.5l8.72 8.72l-8.72 8.72l-8.72 -8.72zM800.0 918.2l8.72 8.72l-8.72 8.72l-8.72 -8.72zM808.7 926.9l8.72 8.72l-8.72 8.72l-8.72 -8.72zM861.0 979.2l8.72 8.72l-8.72 8.72l-8.72 -8.72zM895.9 1014.1l8.72 8.72l-8.72 8.72l-8.72 -8.72zM930.8 1049.0l8.72 8.72l-8.72 8.72l-8.72 -8.72zM983.1 1101.3l8.72 8.72l-8.72 8.72l-8.72 -8.72zM1000.6 1118.8l8.72 8.72l-8.72 8.72l-8.72 -8.72zM651.8 752.5l8.72 8.72l-8.72 8.72l-8.72 -8.72zM660.5 761.2l8.72 8.72l-8.72 8.72l-8.72 -8.72zM739.0 839.7l8.72 8.72l-8.72 8.72l-8.72 -8.72zM747.7 848.4l8.72 8.72l-8.72 8.72l-8.72 -8.72zM756.4 857.2l8.72 8.72l-8.72 8.72l-8.72 -8.72zM765.1 865.9l8.72 8.72l-8.72 8.72l-8.72 -8.72zM782.6 883.3l8.72 8.72l-8.72 8.72l-8.72 -8.72zM808.7 909.5l8.72 8.72l-8.72 8.72l-8.72 -8.72zM834.9 935.6l8.72 8.72l-8.72 8.72l-8.72 -8.72zM843.6 944.4l8.72 8.72l-8.72 8.72l-8.72 -8.72zM852.3 953.1l8.72 8.72l-8.72 8.72l-8.72 -8.72zM861.0 961.8l8.72 8.72l-8.72 8.72l-8.72 -8.72zM869.8 970.5l8.72 8.72l-8.72 8.72l-8.72 -8.72zM878.5 979.2l8.72 8.72l-8.72 8.72l-8.72 -8.72zM887.2 988.0l8.72 8.72l-8.72 8.72l-8.72 -8.72zM895.9 996.7l8.72 8.72l-8.72 8.72l-8.72 -8.72zM957.0 1057.7l8.72 8.72l-8.72 8.72l-8.72 -8.72zM643.0 726.4l8.72 8.72l-8.72 8.72l-8.72 -8.72zM686.6 770.0l8.72 8.72l-8.72 8.72l-8.72 -8.72zM704.1 787.4l8.72 8.72l-8.72 8.72l-8.72 -8.72zM756.4 839.7l8.72 8.72l-8.72 8.72l-8.72 -8.72zM773.8 857.2l8.72 8.72l-8.72 8.72l-8.72 -8.72zM791.3 874.6l8.72 8.72l-8.72 8.72l-8.72 -8.72zM800.0 883.3l8.72 8.72l-8.72 8.72l-8.72 -8.72zM826.2 909.5l8.72 8.72l-8.72 8.72l-8.72 -8.72zM843.6 926.9l8.72 8.72l-8.72 8.72l-8.72 -8.72zM852.3 935.6l8.72 8.72l-8.72 8.72l-8.72 -8.72zM887.2 970.5l8.72 8.72l-8.72 8.72l-8.72 -8.72zM904.6 988.0l8.72 8.72l-8.72 8.72l-8.72 -8.72zM913.4 996.7l8.72 8.72l-8.72 8.72l-8.72 -8.72zM922.1 1005.4l8.72 8.72l-8.72 8.72l-8.72 -8.72zM939.5 1022.8l8.72 8.72l-8.72 8.72l-8.72 -8.72zM669.2 735.1l8.72 8.72l-8.72 8.72l-8.72 -8.72zM756.4 822.3l8.72 8.72l-8.72 8.72l-8.72 -8.72zM782.6 848.4l8.72 8.72l-8.72 8.72l-8.72 -8.72zM834.9 900.8l8.72 8.72l-8.72 8.72l-8.72 -8.72zM852.3 918.2l8.72 8.72l-8.72 8.72l-8.72 -8.72zM861.0 926.9l8.72 8.72l-8.72 8.72l-8.72 -8.72zM878.5 944.4l8.72 8.72l-8.72 8.72l-8.72 -8.72zM887.2 953.1l8.72 8.72l-8.72 8.72l-8.72 -8.72zM904.6 970.5l8.72 8.72l-8.72 8.72l-8.72 -8.72zM913.4 979.2l8.72 8.72l-8.72 8.72l-8.72 -8.72zM948.2 1014.1l8.72 8.72l-8.72 8.72l-8.72 -8.72zM704.1 752.5l8.72 8.72l-8.72 8.72l-8.72 -8.72zM834.9 883.3l8.72 8.72l-8.72 8.72l-8.72 -8.72zM852.3 900.8l8.72 8.72l-8.72 8.72l-8.72 -8.72zM869.8 918.2l8.72 8.72l-8.72 8.72l-8.72 -8.72zM878.5 926.9l8.72 8.72l-8.72 8.72l-8.72 -8.72zM887.2 935.6l8.72 8.72l-8.72 8.72l-8.72 -8.72zM913.4 961.8l8.72 8.72l-8.72 8.72l-8.72 -8.72zM922.1 970.5l8.72 8.72l-8.72 8.72l-8.72 -8.72zM948.2 996.7l8.72 8.72l-8.72 8.72l-8.72 -8.72zM957.0 1005.4l8.72 8.72l-8.72 8.72l-8.72 -8.72zM983.1 1031.6l8.72 8.72l-8.72 8.72l-8.72 -8.72zM1000.6 1049.0l8.72 8.72l-8.72 8.72l-8.72 -8.72zM1044.2 1092.6l8.72 8.72l-8.72 8.72l-8.72 -8.72zM1070.3 1118.8l8.72 8.72l-8.72 8.72l-8.72 -8.72zM782.6 813.6l8.72 8.72l-8.72 8.72l-8.72 -8.72zM800.0 831.0l8.72 8.72l-8.72 8.72l-8.72 -8.72zM808.7 839.7l8.72 8.72l-8.72 8.72l-8.72 -8.72zM817.4 848.4l8.72 8.72l-8.72 8.72l-8.72 -8.72zM861.0 892.0l8.72 8.72l-8.72 8.72l-8.72 -8.72zM869.8 900.8l8.72 8.72l-8.72 8.72l-8.72 -8.72zM887.2 918.2l8.72 8.72l-8.72 8.72l-8.72 -8.72zM895.9 926.9l8.72 8.72l-8.72 8.72l-8.72 -8.72zM904.6 935.6l8.72 8.72l-8.72 8.72l-8.72 -8.72zM922.1 953.1l8.72 8.72l-8.72 8.72l-8.72 -8.72zM948.2 979.2l8.72 8.72l-8.72 8.72l-8.72 -8.72zM965.7 996.7l8.72 8.72l-8.72 8.72l-8.72 -8.72zM974.4 1005.4l8.72 8.72l-8.72 8.72l-8.72 -8.72zM991.8 1022.8l8.72 8.72l-8.72 8.72l-8.72 -8.72zM1000.6 1031.6l8.72 8.72l-8.72 8.72l-8.72 -8.72zM739.0 752.5l8.72 8.72l-8.72 8.72l-8.72 -8.72zM756.4 770.0l8.72 8.72l-8.72 8.72l-8.72 -8.72zM834.9 848.4l8.72 8.72l-8.72 8.72l-8.72 -8.72zM852.3 865.9l8.72 8.72l-8.72 8.72l-8.72 -8.72zM869.8 883.3l8.72 8.72l-8.72 8.72l-8.72 -8.72zM904.6 918.2l8.72 8.72l-8.72 8.72l-8.72 -8.72zM922.1 935.6l8.72 8.72l-8.72 8.72l-8.72 -8.72zM948.2 961.8l8.72 8.72l-8.72 8.72l-8.72 -8.72zM747.7 743.8l8.72 8.72l-8.72 8.72l-8.72 -8.72zM782.6 778.7l8.72 8.72l-8.72 8.72l-8.72 -8.72zM852.3 848.4l8.72 8.72l-8.72 8.72l-8.72 -8.72zM861.0 857.2l8.72 8.72l-8.72 8.72l-8.72 -8.72zM887.2 883.3l8.72 8.72l-8.72 8.72l-8.72 -8.72zM913.4 909.5l8.72 8.72l-8.72 8.72l-8.72 -8.72zM930.8 926.9l8.72 8.72l-8.72 8.72l-8.72 -8.72zM939.5 935.6l8.72 8.72l-8.72 8.72l-8.72 -8.72zM948.2 944.4l8.72 8.72l-8.72 8.72l-8.72 -8.72zM974.4 970.5l8.72 8.72l-8.72 8.72l-8.72 -8.72zM991.8 988.0l8.72 8.72l-8.72 8.72l-8.72 -8.72zM1018.0 1014.1l8.72 8.72l-8.72 8.72l-8.72 -8.72zM1026.7 1022.8l8.72 8.72l-8.72 8.72l-8.72 -8.72zM1052.9 1049.0l8.72 8.72l-8.72 8.72l-8.72 -8.72zM791.3 770.0l8.72 8.72l-8.72 8.72l-8.72 -8.72zM817.4 796.1l8.72 8.72l-8.72 8.72l-8.72 -8.72zM852.3 831.0l8.72 8.72l-8.72 8.72l-8.72 -8.72zM869.8 848.4l8.72 8.72l-8.72 8.72l-8.72 -8.72zM878.5 857.2l8.72 8.72l-8.72 8.72l-8.72 -8.72zM904.6 883.3l8.72 8.72l-8.72 8.72l-8.72 -8.72zM939.5 918.2l8.72 8.72l-8.72 8.72l-8.72 -8.72zM948.2 926.9l8.72 8.72l-8.72 8.72l-8.72 -8.72zM957.0 935.6l8.72 8.72l-8.72 8.72l-8.72 -8.72zM965.7 944.4l8.72 8.72l-8.72 8.72l-8.72 -8.72zM983.1 961.8l8.72 8.72l-8.72 8.72l-8.72 -8.72zM1000.6 979.2l8.72 8.72l-8.72 8.72l-8.72 -8.72zM1009.3 988.0l8.72 8.72l-8.72 8.72l-8.72 -8.72zM1018.0 996.7l8.72 8.72l-8.72 8.72l-8.72 -8.72zM1035.4 1014.1l8.72 8.72l-8.72 8.72l-8.72 -8.72zM1044.2 1022.8l8.72 8.72l-8.72 8.72l-8.72 -8.72zM1052.9 1031.6l8.72 8.72l-8.72 8.72l-8.72 -8.72zM1061.6 1040.3l8.72 8.72l-8.72 8.72l-8.72 -8.72zM756.4 717.6l8.72 8.72l-8.72 8.72l-8.72 -8.72zM791.3 752.5l8.72 8.72l-8.72 8.72l-8.72 -8.72zM869.8 831.0l8.72 8.72l-8.72 8.72l-8.72 -8.72zM878.5 839.7l8.72 8.72l-8.72 8.72l-8.72 -8.72zM887.2 848.4l8.72 8.72l-8.72 8.72l-8.72 -8.72zM930.8 892.0l8.72 8.72l-8.72 8.72l-8.72 -8.72zM939.5 900.8l8.72 8.72l-8.72 8.72l-8.72 -8.72zM974.4 935.6l8.72 8.72l-8.72 8.72l-8.72 -8.72zM983.1 944.4l8.72 8.72l-8.72 8.72l-8.72 -8.72zM1000.6 961.8l8.72 8.72l-8.72 8.72l-8.72 -8.72zM1009.3 970.5l8.72 8.72l-8.72 8.72l-8.72 -8.72zM1035.4 996.7l8.72 8.72l-8.72 8.72l-8.72 -8.72zM1044.2 1005.4l8.72 8.72l-8.72 8.72l-8.72 -8.72zM1052.9 1014.1l8.72 8.72l-8.72 8.72l-8.72 -8.72zM756.4 700.2l8.72 8.72l-8.72 8.72l-8.72 -8.72zM826.2 770.0l8.72 8.72l-8.72 8.72l-8.72 -8.72zM834.9 778.7l8.72 8.72l-8.72 8.72l-8.72 -8.72zM869.8 813.6l8.72 8.72l-8.72 8.72l-8.72 -8.72zM904.6 848.4l8.72 8.72l-8.72 8.72l-8.72 -8.72zM930.8 874.6l8.72 8.72l-8.72 8.72l-8.72 -8.72zM939.5 883.3l8.72 8.72l-8.72 8.72l-8.72 -8.72zM965.7 909.5l8.72 8.72l-8.72 8.72l-8.72 -8.72zM974.4 918.2l8.72 8.72l-8.72 8.72l-8.72 -8.72zM983.1 926.9l8.72 8.72l-8.72 8.72l-8.72 -8.72zM991.8 935.6l8.72 8.72l-8.72 8.72l-8.72 -8.72zM1000.6 944.4l8.72 8.72l-8.72 8.72l-8.72 -8.72zM1026.7 970.5l8.72 8.72l-8.72 8.72l-8.72 -8.72zM1035.4 979.2l8.72 8.72l-8.72 8.72l-8.72 -8.72zM1044.2 988.0l8.72 8.72l-8.72 8.72l-8.72 -8.72zM1052.9 996.7l8.72 8.72l-8.72 8.72l-8.72 -8.72zM1061.6 1005.4l8.72 8.72l-8.72 8.72l-8.72 -8.72zM1113.9 1057.7l8.72 8.72l-8.72 8.72l-8.72 -8.72zM808.7 735.1l8.72 8.72l-8.72 8.72l-8.72 -8.72zM843.6 770.0l8.72 8.72l-8.72 8.72l-8.72 -8.72zM878.5 804.8l8.72 8.72l-8.72 8.72l-8.72 -8.72zM930.8 857.2l8.72 8.72l-8.72 8.72l-8.72 -8.72zM965.7 892.0l8.72 8.72l-8.72 8.72l-8.72 -8.72zM1000.6 926.9l8.72 8.72l-8.72 8.72l-8.72 -8.72zM1044.2 970.5l8.72 8.72l-8.72 8.72l-8.72 -8.72zM1087.8 1014.1l8.72 8.72l-8.72 8.72l-8.72 -8.72zM878.5 787.4l8.72 8.72l-8.72 8.72l-8.72 -8.72zM904.6 813.6l8.72 8.72l-8.72 8.72l-8.72 -8.72zM913.4 822.3l8.72 8.72l-8.72 8.72l-8.72 -8.72zM939.5 848.4l8.72 8.72l-8.72 8.72l-8.72 -8.72zM983.1 892.0l8.72 8.72l-8.72 8.72l-8.72 -8.72zM1026.7 935.6l8.72 8.72l-8.72 8.72l-8.72 -8.72zM1035.4 944.4l8.72 8.72l-8.72 8.72l-8.72 -8.72zM1044.2 953.1l8.72 8.72l-8.72 8.72l-8.72 -8.72zM1061.6 970.5l8.72 8.72l-8.72 8.72l-8.72 -8.72zM1070.3 979.2l8.72 8.72l-8.72 8.72l-8.72 -8.72zM1087.8 996.7l8.72 8.72l-8.72 8.72l-8.72 -8.72zM1096.5 1005.4l8.72 8.72l-8.72 8.72l-8.72 -8.72zM1105.2 1014.1l8.72 8.72l-8.72 8.72l-8.72 -8.72zM861.0 752.5l8.72 8.72l-8.72 8.72l-8.72 -8.72zM922.1 813.6l8.72 8.72l-8.72 8.72l-8.72 -8.72zM930.8 822.3l8.72 8.72l-8.72 8.72l-8.72 -8.72zM939.5 831.0l8.72 8.72l-8.72 8.72l-8.72 -8.72zM948.2 839.7l8.72 8.72l-8.72 8.72l-8.72 -8.72zM965.7 857.2l8.72 8.72l-8.72 8.72l-8.72 -8.72zM1009.3 900.8l8.72 8.72l-8.72 8.72l-8.72 -8.72zM1018.0 909.5l8.72 8.72l-8.72 8.72l-8.72 -8.72zM1026.7 918.2l8.72 8.72l-8.72 8.72l-8.72 -8.72zM1052.9 944.4l8.72 8.72l-8.72 8.72l-8.72 -8.72zM1061.6 953.1l8.72 8.72l-8.72 8.72l-8.72 -8.72zM1087.8 979.2l8.72 8.72l-8.72 8.72l-8.72 -8.72zM1131.4 1022.8l8.72 8.72l-8.72 8.72l-8.72 -8.72zM1140.1 1031.6l8.72 8.72l-8.72 8.72l-8.72 -8.72zM861.0 735.1l8.72 8.72l-8.72 8.72l-8.72 -8.72zM948.2 822.3l8.72 8.72l-8.72 8.72l-8.72 -8.72zM957.0 831.0l8.72 8.72l-8.72 8.72l-8.72 -8.72zM965.7 839.7l8.72 8.72l-8.72 8.72l-8.72 -8.72zM983.1 857.2l8.72 8.72l-8.72 8.72l-8.72 -8.72zM1000.6 874.6l8.72 8.72l-8.72 8.72l-8.72 -8.72zM1009.3 883.3l8.72 8.72l-8.72 8.72l-8.72 -8.72zM1035.4 909.5l8.72 8.72l-8.72 8.72l-8.72 -8.72zM1044.2 918.2l8.72 8.72l-8.72 8.72l-8.72 -8.72zM1079.0 953.1l8.72 8.72l-8.72 8.72l-8.72 -8.72zM1087.8 961.8l8.72 8.72l-8.72 8.72l-8.72 -8.72zM1113.9 988.0l8.72 8.72l-8.72 8.72l-8.72 -8.72zM869.8 726.4l8.72 8.72l-8.72 8.72l-8.72 -8.72zM1044.2 900.8l8.72 8.72l-8.72 8.72l-8.72 -8.72zM1052.9 909.5l8.72 8.72l-8.72 8.72l-8.72 -8.72zM1096.5 953.1l8.72 8.72l-8.72 8.72l-8.72 -8.72zM1113.9 970.5l8.72 8.72l-8.72 8.72l-8.72 -8.72zM1148.8 1005.4l8.72 8.72l-8.72 8.72l-8.72 -8.72zM1157.5 1014.1l8.72 8.72l-8.72 8.72l-8.72 -8.72zM939.5 778.7l8.72 8.72l-8.72 8.72l-8.72 -8.72zM983.1 822.3l8.72 8.72l-8.72 8.72l-8.72 -8.72zM991.8 831.0l8.72 8.72l-8.72 8.72l-8.72 -8.72zM1000.6 839.7l8.72 8.72l-8.72 8.72l-8.72 -8.72zM1018.0 857.2l8.72 8.72l-8.72 8.72l-8.72 -8.72zM1026.7 865.9l8.72 8.72l-8.72 8.72l-8.72 -8.72zM1044.2 883.3l8.72 8.72l-8.72 8.72l-8.72 -8.72zM1087.8 926.9l8.72 8.72l-8.72 8.72l-8.72 -8.72zM1166.2 1005.4l8.72 8.72l-8.72 8.72l-8.72 -8.72zM887.2 708.9l8.72 8.72l-8.72 8.72l-8.72 -8.72zM1009.3 831.0l8.72 8.72l-8.72 8.72l-8.72 -8.72zM1035.4 857.2l8.72 8.72l-8.72 8.72l-8.72 -8.72zM1044.2 865.9l8.72 8.72l-8.72 8.72l-8.72 -8.72zM1052.9 874.6l8.72 8.72l-8.72 8.72l-8.72 -8.72zM1061.6 883.3l8.72 8.72l-8.72 8.72l-8.72 -8.72zM1079.0 900.8l8.72 8.72l-8.72 8.72l-8.72 -8.72zM1113.9 935.6l8.72 8.72l-8.72 8.72l-8.72 -8.72zM1131.4 953.1l8.72 8.72l-8.72 8.72l-8.72 -8.72zM1000.6 804.8l8.72 8.72l-8.72 8.72l-8.72 -8.72zM1035.4 839.7l8.72 8.72l-8.72 8.72l-8.72 -8.72zM1105.2 909.5l8.72 8.72l-8.72 8.72l-8.72 -8.72zM1140.1 944.4l8.72 8.72l-8.72 8.72l-8.72 -8.72zM1157.5 961.8l8.72 8.72l-8.72 8.72l-8.72 -8.72zM1166.2 970.5l8.72 8.72l-8.72 8.72l-8.72 -8.72zM1192.4 996.7l8.72 8.72l-8.72 8.72l-8.72 -8.72zM913.4 700.2l8.72 8.72l-8.72 8.72l-8.72 -8.72zM1061.6 848.4l8.72 8.72l-8.72 8.72l-8.72 -8.72zM1070.3 857.2l8.72 8.72l-8.72 8.72l-8.72 -8.72zM1079.0 865.9l8.72 8.72l-8.72 8.72l-8.72 -8.72zM1113.9 900.8l8.72 8.72l-8.72 8.72l-8.72 -8.72zM1122.6 909.5l8.72 8.72l-8.72 8.72l-8.72 -8.72zM1148.8 935.6l8.72 8.72l-8.72 8.72l-8.72 -8.72zM1157.5 944.4l8.72 8.72l-8.72 8.72l-8.72 -8.72zM1175.0 961.8l8.72 8.72l-8.72 8.72l-8.72 -8.72zM1183.7 970.5l8.72 8.72l-8.72 8.72l-8.72 -8.72zM1079.0 848.4l8.72 8.72l-8.72 8.72l-8.72 -8.72zM1087.8 857.2l8.72 8.72l-8.72 8.72l-8.72 -8.72zM1113.9 883.3l8.72 8.72l-8.72 8.72l-8.72 -8.72zM1131.4 900.8l8.72 8.72l-8.72 8.72l-8.72 -8.72zM1175.0 944.4l8.72 8.72l-8.72 8.72l-8.72 -8.72zM1070.3 822.3l8.72 8.72l-8.72 8.72l-8.72 -8.72zM1096.5 848.4l8.72 8.72l-8.72 8.72l-8.72 -8.72zM1105.2 857.2l8.72 8.72l-8.72 8.72l-8.72 -8.72zM1122.6 874.6l8.72 8.72l-8.72 8.72l-8.72 -8.72zM1140.1 892.0l8.72 8.72l-8.72 8.72l-8.72 -8.72zM1157.5 909.5l8.72 8.72l-8.72 8.72l-8.72 -8.72zM1175.0 926.9l8.72 8.72l-8.72 8.72l-8.72 -8.72zM1183.7 935.6l8.72 8.72l-8.72 8.72l-8.72 -8.72zM1218.6 970.5l8.72 8.72l-8.72 8.72l-8.72 -8.72zM1079.0 813.6l8.72 8.72l-8.72 8.72l-8.72 -8.72zM1087.8 822.3l8.72 8.72l-8.72 8.72l-8.72 -8.72zM1105.2 839.7l8.72 8.72l-8.72 8.72l-8.72 -8.72zM1113.9 848.4l8.72 8.72l-8.72 8.72l-8.72 -8.72zM1122.6 857.2l8.72 8.72l-8.72 8.72l-8.72 -8.72zM1157.5 892.0l8.72 8.72l-8.72 8.72l-8.72 -8.72zM1175.0 909.5l8.72 8.72l-8.72 8.72l-8.72 -8.72zM1183.7 918.2l8.72 8.72l-8.72 8.72l-8.72 -8.72zM1192.4 926.9l8.72 8.72l-8.72 8.72l-8.72 -8.72zM1201.1 935.6l8.72 8.72l-8.72 8.72l-8.72 -8.72zM1218.6 953.1l8.72 8.72l-8.72 8.72l-8.72 -8.72zM1227.3 961.8l8.72 8.72l-8.72 8.72l-8.72 -8.72zM1018.0 735.1l8.72 8.72l-8.72 8.72l-8.72 -8.72zM1122.6 839.7l8.72 8.72l-8.72 8.72l-8.72 -8.72zM1131.4 848.4l8.72 8.72l-8.72 8.72l-8.72 -8.72zM1157.5 874.6l8.72 8.72l-8.72 8.72l-8.72 -8.72zM1166.2 883.3l8.72 8.72l-8.72 8.72l-8.72 -8.72zM1201.1 918.2l8.72 8.72l-8.72 8.72l-8.72 -8.72zM1209.8 926.9l8.72 8.72l-8.72 8.72l-8.72 -8.72zM1218.6 935.6l8.72 8.72l-8.72 8.72l-8.72 -8.72zM1227.3 944.4l8.72 8.72l-8.72 8.72l-8.72 -8.72zM1122.6 822.3l8.72 8.72l-8.72 8.72l-8.72 -8.72zM1183.7 883.3l8.72 8.72l-8.72 8.72l-8.72 -8.72zM1201.1 900.8l8.72 8.72l-8.72 8.72l-8.72 -8.72zM1209.8 909.5l8.72 8.72l-8.72 8.72l-8.72 -8.72zM1218.6 918.2l8.72 8.72l-8.72 8.72l-8.72 -8.72zM1236.0 935.6l8.72 8.72l-8.72 8.72l-8.72 -8.72zM1131.4 813.6l8.72 8.72l-8.72 8.72l-8.72 -8.72zM1183.7 865.9l8.72 8.72l-8.72 8.72l-8.72 -8.72zM1192.4 874.6l8.72 8.72l-8.72 8.72l-8.72 -8.72zM1227.3 909.5l8.72 8.72l-8.72 8.72l-8.72 -8.72zM1244.7 926.9l8.72 8.72l-8.72 8.72l-8.72 -8.72zM1253.4 935.6l8.72 8.72l-8.72 8.72l-8.72 -8.72zM1201.1 865.9l8.72 8.72l-8.72 8.72l-8.72 -8.72zM1236.0 900.8l8.72 8.72l-8.72 8.72l-8.72 -8.72zM1244.7 909.5l8.72 8.72l-8.72 8.72l-8.72 -8.72zM1253.4 918.2l8.72 8.72l-8.72 8.72l-8.72 -8.72zM1192.4 839.7l8.72 8.72l-8.72 8.72l-8.72 -8.72zM1209.8 857.2l8.72 8.72l-8.72 8.72l-8.72 -8.72zM1218.6 865.9l8.72 8.72l-8.72 8.72l-8.72 -8.72zM1253.4 900.8l8.72 8.72l-8.72 8.72l-8.72 -8.72zM1270.9 918.2l8.72 8.72l-8.72 8.72l-8.72 -8.72zM1175.0 804.8l8.72 8.72l-8.72 8.72l-8.72 -8.72zM1236.0 865.9l8.72 8.72l-8.72 8.72l-8.72 -8.72zM1279.6 909.5l8.72 8.72l-8.72 8.72l-8.72 -8.72zM1175.0 787.4l8.72 8.72l-8.72 8.72l-8.72 -8.72zM1201.1 813.6l8.72 8.72l-8.72 8.72l-8.72 -8.72zM1209.8 822.3l8.72 8.72l-8.72 8.72l-8.72 -8.72zM1244.7 857.2l8.72 8.72l-8.72 8.72l-8.72 -8.72zM1253.4 865.9l8.72 8.72l-8.72 8.72l-8.72 -8.72zM1262.2 874.6l8.72 8.72l-8.72 8.72l-8.72 -8.72zM1270.9 883.3l8.72 8.72l-8.72 8.72l-8.72 -8.72zM1279.6 892.0l8.72 8.72l-8.72 8.72l-8.72 -8.72zM1183.7 778.7l8.72 8.72l-8.72 8.72l-8.72 -8.72zM1209.8 804.8l8.72 8.72l-8.72 8.72l-8.72 -8.72zM1288.3 883.3l8.72 8.72l-8.72 8.72l-8.72 -8.72zM1297.0 892.0l8.72 8.72l-8.72 8.72l-8.72 -8.72zM1236.0 813.6l8.72 8.72l-8.72 8.72l-8.72 -8.72zM1244.7 822.3l8.72 8.72l-8.72 8.72l-8.72 -8.72zM1253.4 831.0l8.72 8.72l-8.72 8.72l-8.72 -8.72zM1288.3 865.9l8.72 8.72l-8.72 8.72l-8.72 -8.72zM1297.0 874.6l8.72 8.72l-8.72 8.72l-8.72 -8.72zM1305.8 883.3l8.72 8.72l-8.72 8.72l-8.72 -8.72zM1192.4 752.5l8.72 8.72l-8.72 8.72l-8.72 -8.72zM1262.2 822.3l8.72 8.72l-8.72 8.72l-8.72 -8.72zM1270.9 831.0l8.72 8.72l-8.72 8.72l-8.72 -8.72zM1288.3 848.4l8.72 8.72l-8.72 8.72l-8.72 -8.72zM1314.5 874.6l8.72 8.72l-8.72 8.72l-8.72 -8.72zM1201.1 743.8l8.72 8.72l-8.72 8.72l-8.72 -8.72zM1270.9 813.6l8.72 8.72l-8.72 8.72l-8.72 -8.72zM1192.4 717.6l8.72 8.72l-8.72 8.72l-8.72 -8.72zM1201.1 726.4l8.72 8.72l-8.72 8.72l-8.72 -8.72zM1236.0 761.2l8.72 8.72l-8.72 8.72l-8.72 -8.72zM1227.3 735.1l8.72 8.72l-8.72 8.72l-8.72 -8.72zM1305.8 813.6l8.72 8.72l-8.72 8.72l-8.72 -8.72zM1262.2 752.5l8.72 8.72l-8.72 8.72l-8.72 -8.72zM1349.4 839.7l8.72 8.72l-8.72 8.72l-8.72 -8.72zM1279.6 752.5l8.72 8.72l-8.72 8.72l-8.72 -8.72zM1340.6 813.6l8.72 8.72l-8.72 8.72l-8.72 -8.72zM1349.4 822.3l8.72 8.72l-8.72 8.72l-8.72 -8.72zM1305.8 761.2l8.72 8.72l-8.72 8.72l-8.72 -8.72zM1314.5 770.0l8.72 8.72l-8.72 8.72l-8.72 -8.72zM1340.6 796.1l8.72 8.72l-8.72 8.72l-8.72 -8.72zM1349.4 804.8l8.72 8.72l-8.72 8.72l-8.72 -8.72zM1305.8 743.8l8.72 8.72l-8.72 8.72l-8.72 -8.72zM1375.5 778.7l8.72 8.72l-8.72 8.72l-8.72 -8.72zM1384.2 787.4l8.72 8.72l-8.72 8.72l-8.72 -8.72zM1393.0 796.1l8.72 8.72l-8.72 8.72l-8.72 -8.72zM1401.7 752.5l8.72 8.72l-8.72 8.72l-8.72 -8.72zM1401.7 735.1l8.72 8.72l-8.72 8.72l-8.72 -8.72zM1410.4 726.4l8.72 8.72l-8.72 8.72l-8.72 -8.72zM1436.6 717.6l8.72 8.72l-8.72 8.72l-8.72 -8.72zM1454.0 700.2l8.72 8.72l-8.72 8.72l-8.72 -8.72z" fill="#f80e0e"/>
<path d="M215.8 892.0l8.72 8.72l-8.72 8.72l-8.72 -8.72zM250.6 926.9l8.72 8.72l-8.72 8.72l-8.72 -8.72zM303.0 979.2l8.72 8.72l-8.72 8.72l-8.72 -8.72zM320.4 996.7l8.72 8.72l-8.72 8.72l-8.72 -8.72zM337.8 1014.1l8.72 8.72l-8.72 8.72l-8.72 -8.72zM355.3 1031.6l8.72 8.72l-8.72 8.72l-8.72 -8.72zM381.4 1057.7l8.72 8.72l-8.72 8.72l-8.72 -8.72zM390.2 1066.4l8.72 8.72l-8.72 8.72l-8.72 -8.72zM416.3 1092.6l8.72 8.72l-8.72 8.72l-8.72 -8.72zM433.8 1110.0l8.72 8.72l-8.72 8.72l-8.72 -8.72zM442.5 1118.8l8.72 8.72l-8.72 8.72l-8.72 -8.72zM477.4 1153.6l8.72 8.72l-8.72 8.72l-8.72 -8.72zM486.1 1162.4l8.72 8.72l-8.72 8.72l-8.72 -8.72zM547.1 1223.4l8.72 8.72l-8.72 8.72l-8.72 -8.72zM250.6 909.5l8.72 8.72l-8.72 8.72l-8.72 -8.72zM294.2 953.1l8.72 8.72l-8.72 8.72l-8.72 -8.72zM320.4 979.2l8.72 8.72l-8.72 8.72l-8.72 -8.72zM337.8 996.7l8.72 8.72l-8.72 8.72l-8.72 -8.72zM355.3 1014.1l8.72 8.72l-8.72 8.72l-8.72 -8.72zM364.0 1022.8l8.72 8.72l-8.72 8.72l-8.72 -8.72zM381.4 1040.3l8.72 8.72l-8.72 8.72l-8.72 -8.72zM390.2 1049.0l8.72 8.72l-8.72 8.72l-8.72 -8.72zM398.9 1057.7l8.72 8.72l-8.72 8.72l-8.72 -8.72zM433.8 1092.6l8.72 8.72l-8.72 8.72l-8.72 -8.72zM442.5 1101.3l8.72 8.72l-8.72 8.72l-8.72 -8.72zM451.2 1110.0l8.72 8.72l-8.72 8.72l-8.72 -8.72zM494.8 1153.6l8.72 8.72l-8.72 8.72l-8.72 -8.72zM303.0 944.4l8.72 8.72l-8.72 8.72l-8.72 -8.72zM337.8 979.2l8.72 8.72l-8.72 8.72l-8.72 -8.72zM346.6 988.0l8.72 8.72l-8.72 8.72l-8.72 -8.72zM355.3 996.7l8.72 8.72l-8.72 8.72l-8.72 -8.72zM364.0 1005.4l8.72 8.72l-8.72 8.72l-8.72 -8.72zM372.7 1014.1l8.72 8.72l-8.72 8.72l-8.72 -8.72zM381.4 1022.8l8.72 8.72l-8.72 8.72l-8.72 -8.72zM390.2 1031.6l8.72 8.72l-8.72 8.72l-8.72 -8.72zM398.9 1040.3l8.72 8.72l-8.72 8.72l-8.72 -8.72zM407.6 1049.0l8.72 8.72l-8.72 8.72l-8.72 -8.72zM416.3 1057.7l8.72 8.72l-8.72 8.72l-8.72 -8.72zM425.0 1066.4l8.72 8.72l-8.72 8.72l-8.72 -8.72zM442.5 1083.9l8.72 8.72l-8.72 8.72l-8.72 -8.72zM459.9 1101.3l8.72 8.72l-8.72 8.72l-8.72 -8.72zM486.1 1127.5l8.72 8.72l-8.72 8.72l-8.72 -8.72zM259.4 883.3l8.72 8.72l-8.72 8.72l-8.72 -8.72zM329.1 953.1l8.72 8.72l-8.72 8.72l-8.72 -8.72zM346.6 970.5l8.72 8.72l-8.72 8.72l-8.72 -8.72zM355.3 979.2l8.72 8.72l-8.72 8.72l-8.72 -8.72zM364.0 988.0l8.72 8.72l-8.72 8.72l-8.72 -8.72zM398.9 1022.8l8.72 8.72l-8.72 8.72l-8.72 -8.72zM407.6 1031.6l8.72 8.72l-8.72 8.72l-8.72 -8.72zM433.8 1057.7l8.72 8.72l-8.72 8.72l-8.72 -8.72zM442.5 1066.4l8.72 8.72l-8.72 8.72l-8.72 -8.72zM451.2 1075.2l8.72 8.72l-8.72 8.72l-8.72 -8.72zM555.8 1179.8l8.72 8.72l-8.72 8.72l-8.72 -8.72zM616.9 1240.8l8.72 8.72l-8.72 8.72l-8.72 -8.72zM303.0 909.5l8.72 8.72l-8.72 8.72l-8.72 -8.72zM329.1 935.6l8.72 8.72l-8.72 8.72l-8.72 -8.72zM355.3 961.8l8.72 8.72l-8.72 8.72l-8.72 -8.72zM398.9 1005.4l8.72 8.72l-8.72 8.72l-8.72 -8.72zM407.6 1014.1l8.72 8.72l-8.72 8.72l-8.72 -8.72zM425.0 1031.6l8.72 8.72l-8.72 8.72l-8.72 -8.72zM442.5 1049.0l8.72 8.72l-8.72 8.72l-8.72 -8.72zM451.2 1057.7l8.72 8.72l-8.72 8.72l-8.72 -8.72zM468.6 1075.2l8.72 8.72l-8.72 8.72l-8.72 -8.72zM486.1 1092.6l8.72 8.72l-8.72 8.72l-8.72 -8.72zM564.6 1171.1l8.72 8.72l-8.72 8.72l-8.72 -8.72zM207.0 796.1l8.72 8.72l-8.72 8.72l-8.72 -8.72zM355.3 944.4l8.72 8.72l-8.72 8.72l-8.72 -8.72zM364.0 953.1l8.72 8.72l-8.72 8.72l-8.72 -8.72zM381.4 970.5l8.72 8.72l-8.72 8.72l-8.72 -8.72zM390.2 979.2l8.72 8.72l-8.72 8.72l-8.72 -8.72zM407.6 996.7l8.72 8.72l-8.72 8.72l-8.72 -8.72zM425.0 1014.1l8.72 8.72l-8.72 8.72l-8.72 -8.72zM433.8 1022.8l8.72 8.72l-8.72 8.72l-8.72 -8.72zM442.5 1031.6l8.72 8.72l-8.72 8.72l-8.72 -8.72zM459.9 1049.0l8.72 8.72l-8.72 8.72l-8.72 -8.72zM468.6 1057.7l8.72 8.72l-8.72 8.72l-8.72 -8.72zM477.4 1066.4l8.72 8.72l-8.72 8.72l-8.72 -8.72zM486.1 1075.2l8.72 8.72l-8.72 8.72l-8.72 -8.72zM494.8 1083.9l8.72 8.72l-8.72 8.72l-8.72 -8.72zM503.5 1092.6l8.72 8.72l-8.72 8.72l-8.72 -8.72zM329.1 900.8l8.72 8.72l-8.72 8.72l-8.72 -8.72zM346.6 918.2l8.72 8.72l-8.72 8.72l-8.72 -8.72zM355.3 926.9l8.72 8.72l-8.72 8.72l-8.72 -8.72zM364.0 935.6l8.72 8.72l-8.72 8.72l-8.72 -8.72zM390.2 961.8l8.72 8.72l-8.72 8.72l-8.72 -8.72zM416.3 988.0l8.72 8.72l-8.72 8.72l-8.72 -8.72zM451.2 1022.8l8.72 8.72l-8.72 8.72l-8.72 -8.72zM459.9 1031.6l8.72 8.72l-8.72 8.72l-8.72 -8.72zM503.5 1075.2l8.72 8.72l-8.72 8.72l-8.72 -8.72zM529.7 1101.3l8.72 8.72l-8.72 8.72l-8.72 -8.72zM538.4 1110.0l8.72 8.72l-8.72 8.72l-8.72 -8.72zM555.8 1127.5l8.72 8.72l-8.72 8.72l-8.72 -8.72zM564.6 1136.2l8.72 8.72l-8.72 8.72l-8.72 -8.72zM311.7 865.9l8.72 8.72l-8.72 8.72l-8.72 -8.72zM329.1 883.3l8.72 8.72l-8.72 8.72l-8.72 -8.72zM381.4 935.6l8.72 8.72l-8.72 8.72l-8.72 -8.72zM390.2 944.4l8.72 8.72l-8.72 8.72l-8.72 -8.72zM398.9 953.1l8.72 8.72l-8.72 8.72l-8.72 -8.72zM407.6 961.8l8.72 8.72l-8.72 8.72l-8.72 -8.72zM416.3 970.5l8.72 8.72l-8.72 8.72l-8.72 -8.72zM442.5 996.7l8.72 8.72l-8.72 8.72l-8.72 -8.72zM451.2 1005.4l8.72 8.72l-8.72 8.72l-8.72 -8.72zM468.6 1022.8l8.72 8.72l-8.72 8.72l-8.72 -8.72zM477.4 1031.6l8.72 8.72l-8.72 8.72l-8.72 -8.72zM486.1 1040.3l8.72 8.72l-8.72 8.72l-8.72 -8.72zM529.7 1083.9l8.72 8.72l-8.72 8.72l-8.72 -8.72zM538.4 1092.6l8.72 8.72l-8.72 8.72l-8.72 -8.72zM564.6 1118.8l8.72 8.72l-8.72 8.72l-8.72 -8.72zM355.3 892.0l8.72 8.72l-8.72 8.72l-8.72 -8.72zM407.6 944.4l8.72 8.72l-8.72 8.72l-8.72 -8.72zM425.0 961.8l8.72 8.72l-8.72 8.72l-8.72 -8.72zM442.5 979.2l8.72 8.72l-8.72 8.72l-8.72 -8.72zM451.2 988.0l8.72 8.72l-8.72 8.72l-8.72 -8.72zM459.9 996.7l8.72 8.72l-8.72 8.72l-8.72 -8.72zM477.4 1014.1l8.72 8.72l-8.72 8.72l-8.72 -8.72zM494.8 1031.6l8.72 8.72l-8.72 8.72l-8.72 -8.72zM512.2 1049.0l8.72 8.72l-8.72 8.72l-8.72 -8.72zM521.0 1057.7l8.72 8.72l-8.72 8.72l-8.72 -8.72zM538.4 1075.2l8.72 8.72l-8.72 8.72l-8.72 -8.72zM564.6 1101.3l8.72 8.72l-8.72 8.72l-8.72 -8.72zM573.3 1110.0l8.72 8.72l-8.72 8.72l-8.72 -8.72zM599.4 1136.2l8.72 8.72l-8.72 8.72l-8.72 -8.72zM660.5 1197.2l8.72 8.72l-8.72 8.72l-8.72 -8.72zM381.4 900.8l8.72 8.72l-8.72 8.72l-8.72 -8.72zM398.9 918.2l8.72 8.72l-8.72 8.72l-8.72 -8.72zM416.3 935.6l8.72 8.72l-8.72 8.72l-8.72 -8.72zM433.8 953.1l8.72 8.72l-8.72 8.72l-8.72 -8.72zM486.1 1005.4l8.72 8.72l-8.72 8.72l-8.72 -8.72zM494.8 1014.1l8.72 8.72l-8.72 8.72l-8.72 -8.72zM503.5 1022.8l8.72 8.72l-8.72 8.72l-8.72 -8.72zM521.0 1040.3l8.72 8.72l-8.72 8.72l-8.72 -8.72zM529.7 1049.0l8.72 8.72l-8.72 8.72l-8.72 -8.72zM547.1 1066.4l8.72 8.72l-8.72 8.72l-8.72 -8.72zM555.8 1075.2l8.72 8.72l-8.72 8.72l-8.72 -8.72zM573.3 1092.6l8.72 8.72l-8.72 8.72l-8.72 -8.72zM590.7 1110.0l8.72 8.72l-8.72 8.72l-8.72 -8.72zM599.4 1118.8l8.72 8.72l-8.72 8.72l-8.72 -8.72zM276.8 778.7l8.72 8.72l-8.72 8.72l-8.72 -8.72zM433.8 935.6l8.72 8.72l-8.72 8.72l-8.72 -8.72zM459.9 961.8l8.72 8.72l-8.72 8.72l-8.72 -8.72zM477.4 979.2l8.72 8.72l-8.72 8.72l-8.72 -8.72zM599.4 1101.3l8.72 8.72l-8.72 8.72l-8.72 -8.72zM616.9 1118.8l8.72 8.72l-8.72 8.72l-8.72 -8.72zM625.6 1127.5l8.72 8.72l-8.72 8.72l-8.72 -8.72zM660.5 1162.4l8.72 8.72l-8.72 8.72l-8.72 -8.72zM425.0 909.5l8.72 8.72l-8.72 8.72l-8.72 -8.72zM451.2 935.6l8.72 8.72l-8.72 8.72l-8.72 -8.72zM468.6 953.1l8.72 8.72l-8.72 8.72l-8.72 -8.72zM486.1 970.5l8.72 8.72l-8.72 8.72l-8.72 -8.72zM503.5 988.0l8.72 8.72l-8.72 8.72l-8.72 -8.72zM512.2 996.7l8.72 8.72l-8.72 8.72l-8.72 -8.72zM521.0 1005.4l8.72 8.72l-8.72 8.72l-8.72 -8.72zM538.4 1022.8l8.72 8.72l-8.72 8.72l-8.72 -8.72zM547.1 1031.6l8.72 8.72l-8.72 8.72l-8.72 -8.72zM555.8 1040.3l8.72 8.72l-8.72 8.72l-8.72 -8.72zM582.0 1066.4l8.72 8.72l-8.72 8.72l-8.72 -8.72zM599.4 1083.9l8.72 8.72l-8.72 8.72l-8.72 -8.72zM625.6 1110.0l8.72 8.72l-8.72 8.72l-8.72 -8.72zM660.5 1144.9l8.72 8.72l-8.72 8.72l-8.72 -8.72zM695.4 1179.8l8.72 8.72l-8.72 8.72l-8.72 -8.72zM756.4 1240.8l8.72 8.72l-8.72 8.72l-8.72 -8.72zM425.0 892.0l8.72 8.72l-8.72 8.72l-8.72 -8.72zM451.2 918.2l8.72 8.72l-8.72 8.72l-8.72 -8.72zM459.9 926.9l8.72 8.72l-8.72 8.72l-8.72 -8.72zM486.1 953.1l8.72 8.72l-8.72 8.72l-8.72 -8.72zM512.2 979.2l8.72 8.72l-8.72 8.72l-8.72 -8.72zM521.0 988.0l8.72 8.72l-8.72 8.72l-8.72 -8.72zM538.4 1005.4l8.72 8.72l-8.72 8.72l-8.72 -8.72zM564.6 1031.6l8.72 8.72l-8.72 8.72l-8.72 -8.72zM582.0 1049.0l8.72 8.72l-8.72 8.72l-8.72 -8.72zM590.7 1057.7l8.72 8.72l-8.72 8.72l-8.72 -8.72zM599.4 1066.4l8.72 8.72l-8.72 8.72l-8.72 -8.72zM625.6 1092.6l8.72 8.72l-8.72 8.72l-8.72 -8.72zM468.6 918.2l8.72 8.72l-8.72 8.72l-8.72 -8.72zM477.4 926.9l8.72 8.72l-8.72 8.72l-8.72 -8.72zM538.4 988.0l8.72 8.72l-8.72 8.72l-8.72 -8.72zM547.1 996.7l8.72 8.72l-8.72 8.72l-8.72 -8.72zM564.6 1014.1l8.72 8.72l-8.72 8.72l-8.72 -8.72zM573.3 1022.8l8.72 8.72l-8.72 8.72l-8.72 -8.72zM590.7 1040.3l8.72 8.72l-8.72 8.72l-8.72 -8.72zM599.4 1049.0l8.72 8.72l-8.72 8.72l-8.72 -8.72zM625.6 1075.2l8.72 8.72l-8.72 8.72l-8.72 -8.72zM651.8 1101.3l8.72 8.72l-8.72 8.72l-8.72 -8.72zM660.5 1110.0l8.72 8.72l-8.72 8.72l-8.72 -8.72zM669.2 1118.8l8.72 8.72l-8.72 8.72l-8.72 -8.72zM677.9 1127.5l8.72 8.72l-8.72 8.72l-8.72 -8.72zM486.1 918.2l8.72 8.72l-8.72 8.72l-8.72 -8.72zM512.2 944.4l8.72 8.72l-8.72 8.72l-8.72 -8.72zM521.0 953.1l8.72 8.72l-8.72 8.72l-8.72 -8.72zM538.4 970.5l8.72 8.72l-8.72 8.72l-8.72 -8.72zM582.0 1014.1l8.72 8.72l-8.72 8.72l-8.72 -8.72zM599.4 1031.6l8.72 8.72l-8.72 8.72l-8.72 -8.72zM625.6 1057.7l8.72 8.72l-8.72 8.72l-8.72 -8.72zM634.3 1066.4l8.72 8.72l-8.72 8.72l-8.72 -8.72zM643.0 1075.2l8.72 8.72l-8.72 8.72l-8.72 -8.72zM712.8 1144.9l8.72 8.72l-8.72 8.72l-8.72 -8.72zM791.3 1223.4l8.72 8.72l-8.72 8.72l-8.72 -8.72zM346.6 761.2l8.72 8.72l-8.72 8.72l-8.72 -8.72zM425.0 839.7l8.72 8.72l-8.72 8.72l-8.72 -8.72zM503.5 918.2l8.72 8.72l-8.72 8.72l-8.72 -8.72zM547.1 961.8l8.72 8.72l-8.72 8.72l-8.72 -8.72zM590.7 1005.4l8.72 8.72l-8.72 8.72l-8.72 -8.72zM599.4 1014.1l8.72 8.72l-8.72 8.72l-8.72 -8.72zM616.9 1031.6l8.72 8.72l-8.72 8.72l-8.72 -8.72zM634.3 1049.0l8.72 8.72l-8.72 8.72l-8.72 -8.72zM643.0 1057.7l8.72 8.72l-8.72 8.72l-8.72 -8.72zM669.2 1083.9l8.72 8.72l-8.72 8.72l-8.72 -8.72zM538.4 935.6l8.72 8.72l-8.72 8.72l-8.72 -8.72zM547.1 944.4l8.72 8.72l-8.72 8.72l-8.72 -8.72zM573.3 970.5l8.72 8.72l-8.72 8.72l-8.72 -8.72zM590.7 988.0l8.72 8.72l-8.72 8.72l-8.72 -8.72zM608.2 1005.4l8.72 8.72l-8.72 8.72l-8.72 -8.72zM625.6 1022.8l8.72 8.72l-8.72 8.72l-8.72 -8.72zM634.3 1031.6l8.72 8.72l-8.72 8.72l-8.72 -8.72zM695.4 1092.6l8.72 8.72l-8.72 8.72l-8.72 -8.72zM704.1 1101.3l8.72 8.72l-8.72 8.72l-8.72 -8.72zM730.2 1127.5l8.72 8.72l-8.72 8.72l-8.72 -8.72zM529.7 909.5l8.72 8.72l-8.72 8.72l-8.72 -8.72zM538.4 918.2l8.72 8.72l-8.72 8.72l-8.72 -8.72zM547.1 926.9l8.72 8.72l-8.72 8.72l-8.72 -8.72zM564.6 944.4l8.72 8.72l-8.72 8.72l-8.72 -8.72zM582.0 961.8l8.72 8.72l-8.72 8.72l-8.72 -8.72zM599.4 979.2l8.72 8.72l-8.72 8.72l-8.72 -8.72zM660.5 1040.3l8.72 8.72l-8.72 8.72l-8.72 -8.72zM686.6 1066.4l8.72 8.72l-8.72 8.72l-8.72 -8.72zM704.1 1083.9l8.72 8.72l-8.72 8.72l-8.72 -8.72zM747.7 1127.5l8.72 8.72l-8.72 8.72l-8.72 -8.72zM477.4 839.7l8.72 8.72l-8.72 8.72l-8.72 -8.72zM529.7 892.0l8.72 8.72l-8.72 8.72l-8.72 -8.72zM573.3 935.6l8.72 8.72l-8.72 8.72l-8.72 -8.72zM625.6 988.0l8.72 8.72l-8.72 8.72l-8.72 -8.72zM660.5 1022.8l8.72 8.72l-8.72 8.72l-8.72 -8.72zM695.4 1057.7l8.72 8.72l-8.72 8.72l-8.72 -8.72zM704.1 1066.4l8.72 8.72l-8.72 8.72l-8.72 -8.72zM712.8 1075.2l8.72 8.72l-8.72 8.72l-8.72 -8.72zM730.2 1092.6l8.72 8.72l-8.72 8.72l-8.72 -8.72zM739.0 1101.3l8.72 8.72l-8.72 8.72l-8.72 -8.72zM756.4 1118.8l8.72 8.72l-8.72 8.72l-8.72 -8.72zM625.6 970.5l8.72 8.72l-8.72 8.72l-8.72 -8.72zM660.5 1005.4l8.72 8.72l-8.72 8.72l-8.72 -8.72zM669.2 1014.1l8.72 8.72l-8.72 8.72l-8.72 -8.72zM686.6 1031.6l8.72 8.72l-8.72 8.72l-8.72 -8.72zM695.4 1040.3l8.72 8.72l-8.72 8.72l-8.72 -8.72zM704.1 1049.0l8.72 8.72l-8.72 8.72l-8.72 -8.72zM555.8 883.3l8.72 8.72l-8.72 8.72l-8.72 -8.72zM599.4 926.9l8.72 8.72l-8.72 8.72l-8.72 -8.72zM643.0 970.5l8.72 8.72l-8.72 8.72l-8.72 -8.72zM695.4 1022.8l8.72 8.72l-8.72 8.72l-8.72 -8.72zM704.1 1031.6l8.72 8.72l-8.72 8.72l-8.72 -8.72zM730.2 1057.7l8.72 8.72l-8.72 8.72l-8.72 -8.72zM739.0 1066.4l8.72 8.72l-8.72 8.72l-8.72 -8.72zM756.4 1083.9l8.72 8.72l-8.72 8.72l-8.72 -8.72zM834.9 1162.4l8.72 8.72l-8.72 8.72l-8.72 -8.72zM555.8 865.9l8.72 8.72l-8.72 8.72l-8.72 -8.72zM590.7 900.8l8.72 8.72l-8.72 8.72l-8.72 -8.72zM599.4 909.5l8.72 8.72l-8.72 8.72l-8.72 -8.72zM634.3 944.4l8.72 8.72l-8.72 8.72l-8.72 -8.72zM651.8 961.8l8.72 8.72l-8.72 8.72l-8.72 -8.72zM660.5 970.5l8.72 8.72l-8.72 8.72l-8.72 -8.72zM686.6 996.7l8.72 8.72l-8.72 8.72l-8.72 -8.72zM695.4 1005.4l8.72 8.72l-8.72 8.72l-8.72 -8.72zM704.1 1014.1l8.72 8.72l-8.72 8.72l-8.72 -8.72zM712.8 1022.8l8.72 8.72l-8.72 8.72l-8.72 -8.72zM730.2 1040.3l8.72 8.72l-8.72 8.72l-8.72 -8.72zM756.4 1066.4l8.72 8.72l-8.72 8.72l-8.72 -8.72zM817.4 1127.5l8.72 8.72l-8.72 8.72l-8.72 -8.72zM643.0 935.6l8.72 8.72l-8.72 8.72l-8.72 -8.72zM651.8 944.4l8.72 8.72l-8.72 8.72l-8.72 -8.72zM669.2 961.8l8.72 8.72l-8.72 8.72l-8.72 -8.72zM677.9 970.5l8.72 8.72l-8.72 8.72l-8.72 -8.72zM686.6 979.2l8.72 8.72l-8.72 8.72l-8.72 -8.72zM695.4 988.0l8.72 8.72l-8.72 8.72l-8.72 -8.72zM712.8 1005.4l8.72 8.72l-8.72 8.72l-8.72 -8.72zM739.0 1031.6l8.72 8.72l-8.72 8.72l-8.72 -8.72zM756.4 1049.0l8.72 8.72l-8.72 8.72l-8.72 -8.72zM773.8 1066.4l8.72 8.72l-8.72 8.72l-8.72 -8.72zM817.4 1110.0l8.72 8.72l-8.72 8.72l-8.72 -8.72zM930.8 1223.4l8.72 8.72l-8.72 8.72l-8.72 -8.72zM599.4 874.6l8.72 8.72l-8.72 8.72l-8.72 -8.72zM660.5 935.6l8.72 8.72l-8.72 8.72l-8.72 -8.72zM677.9 953.1l8.72 8.72l-8.72 8.72l-8.72 -8.72zM695.4 970.5l8.72 8.72l-8.72 8.72l-8.72 -8.72zM704.1 979.2l8.72 8.72l-8.72 8.72l-8.72 -8.72zM712.8 988.0l8.72 8.72l-8.72 8.72l-8.72 -8.72zM721.5 996.7l8.72 8.72l-8.72 8.72l-8.72 -8.72zM756.4 1031.6l8.72 8.72l-8.72 8.72l-8.72 -8.72zM765.1 1040.3l8.72 8.72l-8.72 8.72l-8.72 -8.72zM791.3 1066.4l8.72 8.72l-8.72 8.72l-8.72 -8.72zM843.6 1118.8l8.72 8.72l-8.72 8.72l-8.72 -8.72zM852.3 1127.5l8.72 8.72l-8.72 8.72l-8.72 -8.72zM634.3 892.0l8.72 8.72l-8.72 8.72l-8.72 -8.72zM651.8 909.5l8.72 8.72l-8.72 8.72l-8.72 -8.72zM677.9 935.6l8.72 8.72l-8.72 8.72l-8.72 -8.72zM686.6 944.4l8.72 8.72l-8.72 8.72l-8.72 -8.72zM695.4 953.1l8.72 8.72l-8.72 8.72l-8.72 -8.72zM721.5 979.2l8.72 8.72l-8.72 8.72l-8.72 -8.72zM730.2 988.0l8.72 8.72l-8.72 8.72l-8.72 -8.72zM747.7 1005.4l8.72 8.72l-8.72 8.72l-8.72 -8.72zM756.4 1014.1l8.72 8.72l-8.72 8.72l-8.72 -8.72zM773.8 1031.6l8.72 8.72l-8.72 8.72l-8.72 -8.72zM782.6 1040.3l8.72 8.72l-8.72 8.72l-8.72 -8.72zM843.6 1101.3l8.72 8.72l-8.72 8.72l-8.72 -8.72zM852.3 1110.0l8.72 8.72l-8.72 8.72l-8.72 -8.72zM625.6 865.9l8.72 8.72l-8.72 8.72l-8.72 -8.72zM669.2 909.5l8.72 8.72l-8.72 8.72l-8.72 -8.72zM677.9 918.2l8.72 8.72l-8.72 8.72l-8.72 -8.72zM686.6 926.9l8.72 8.72l-8.72 8.72l-8.72 -8.72zM712.8 953.1l8.72 8.72l-8.72 8.72l-8.72 -8.72zM730.2 970.5l8.72 8.72l-8.72 8.72l-8.72 -8.72zM739.0 979.2l8.72 8.72l-8.72 8.72l-8.72 -8.72zM747.7 988.0l8.72 8.72l-8.72 8.72l-8.72 -8.72zM765.1 1005.4l8.72 8.72l-8.72 8.72l-8.72 -8.72zM808.7 1049.0l8.72 8.72l-8.72 8.72l-8.72 -8.72zM826.2 1066.4l8.72 8.72l-8.72 8.72l-8.72 -8.72zM852.3 1092.6l8.72 8.72l-8.72 8.72l-8.72 -8.72zM887.2 1127.5l8.72 8.72l-8.72 8.72l-8.72 -8.72zM660.5 883.3l8.72 8.72l-8.72 8.72l-8.72 -8.72zM704.1 926.9l8.72 8.72l-8.72 8.72l-8.72 -8.72zM739.0 961.8l8.72 8.72l-8.72 8.72l-8.72 -8.72zM765.1 988.0l8.72 8.72l-8.72 8.72l-8.72 -8.72zM773.8 996.7l8.72 8.72l-8.72 8.72l-8.72 -8.72zM800.0 1022.8l8.72 8.72l-8.72 8.72l-8.72 -8.72zM808.7 1031.6l8.72 8.72l-8.72 8.72l-8.72 -8.72zM817.4 1040.3l8.72 8.72l-8.72 8.72l-8.72 -8.72zM695.4 900.8l8.72 8.72l-8.72 8.72l-8.72 -8.72zM704.1 909.5l8.72 8.72l-8.72 8.72l-8.72 -8.72zM730.2 935.6l8.72 8.72l-8.72 8.72l-8.72 -8.72zM817.4 1022.8l8.72 8.72l-8.72 8.72l-8.72 -8.72zM826.2 1031.6l8.72 8.72l-8.72 8.72l-8.72 -8.72zM843.6 1049.0l8.72 8.72l-8.72 8.72l-8.72 -8.72zM852.3 1057.7l8.72 8.72l-8.72 8.72l-8.72 -8.72zM861.0 1066.4l8.72 8.72l-8.72 8.72l-8.72 -8.72zM887.2 1092.6l8.72 8.72l-8.72 8.72l-8.72 -8.72zM895.9 1101.3l8.72 8.72l-8.72 8.72l-8.72 -8.72zM991.8 1197.2l8.72 8.72l-8.72 8.72l-8.72 -8.72zM704.1 892.0l8.72 8.72l-8.72 8.72l-8.72 -8.72zM712.8 900.8l8.72 8.72l-8.72 8.72l-8.72 -8.72zM730.2 918.2l8.72 8.72l-8.72 8.72l-8.72 -8.72zM773.8 961.8l8.72 8.72l-8.72 8.72l-8.72 -8.72zM808.7 996.7l8.72 8.72l-8.72 8.72l-8.72 -8.72zM834.9 1022.8l8.72 8.72l-8.72 8.72l-8.72 -8.72zM887.2 1075.2l8.72 8.72l-8.72 8.72l-8.72 -8.72zM895.9 1083.9l8.72 8.72l-8.72 8.72l-8.72 -8.72zM904.6 1092.6l8.72 8.72l-8.72 8.72l-8.72 -8.72zM913.4 1101.3l8.72 8.72l-8.72 8.72l-8.72 -8.72zM930.8 1118.8l8.72 8.72l-8.72 8.72l-8.72 -8.72zM939.5 1127.5l8.72 8.72l-8.72 8.72l-8.72 -8.72zM739.0 909.5l8.72 8.72l-8.72 8.72l-8.72 -8.72zM747.7 918.2l8.72 8.72l-8.72 8.72l-8.72 -8.72zM756.4 926.9l8.72 8.72l-8.72 8.72l-8.72 -8.72zM800.0 970.5l8.72 8.72l-8.72 8.72l-8.72 -8.72zM817.4 988.0l8.72 8.72l-8.72 8.72l-8.72 -8.72zM826.2 996.7l8.72 8.72l-8.72 8.72l-8.72 -8.72zM869.8 1040.3l8.72 8.72l-8.72 8.72l-8.72 -8.72zM887.2 1057.7l8.72 8.72l-8.72 8.72l-8.72 -8.72zM904.6 1075.2l8.72 8.72l-8.72 8.72l-8.72 -8.72zM930.8 1101.3l8.72 8.72l-8.72 8.72l-8.72 -8.72zM939.5 1110.0l8.72 8.72l-8.72 8.72l-8.72 -8.72zM948.2 1118.8l8.72 8.72l-8.72 8.72l-8.72 -8.72zM974.4 1144.9l8.72 8.72l-8.72 8.72l-8.72 -8.72zM983.1 1153.6l8.72 8.72l-8.72 8.72l-8.72 -8.72zM712.8 865.9l8.72 8.72l-8.72 8.72l-8.72 -8.72zM773.8 926.9l8.72 8.72l-8.72 8.72l-8.72 -8.72zM791.3 944.4l8.72 8.72l-8.72 8.72l-8.72 -8.72zM817.4 970.5l8.72 8.72l-8.72 8.72l-8.72 -8.72zM834.9 988.0l8.72 8.72l-8.72 8.72l-8.72 -8.72zM843.6 996.7l8.72 8.72l-8.72 8.72l-8.72 -8.72zM878.5 1031.6l8.72 8.72l-8.72 8.72l-8.72 -8.72zM887.2 1040.3l8.72 8.72l-8.72 8.72l-8.72 -8.72zM895.9 1049.0l8.72 8.72l-8.72 8.72l-8.72 -8.72zM922.1 1075.2l8.72 8.72l-8.72 8.72l-8.72 -8.72zM948.2 1101.3l8.72 8.72l-8.72 8.72l-8.72 -8.72zM643.0 778.7l8.72 8.72l-8.72 8.72l-8.72 -8.72zM756.4 892.0l8.72 8.72l-8.72 8.72l-8.72 -8.72zM773.8 909.5l8.72 8.72l-8.72 8.72l-8.72 -8.72zM791.3 926.9l8.72 8.72l-8.72 8.72l-8.72 -8.72zM843.6 979.2l8.72 8.72l-8.72 8.72l-8.72 -8.72zM869.8 1005.4l8.72 8.72l-8.72 8.72l-8.72 -8.72zM878.5 1014.1l8.72 8.72l-8.72 8.72l-8.72 -8.72zM904.6 1040.3l8.72 8.72l-8.72 8.72l-8.72 -8.72zM922.1 1057.7l8.72 8.72l-8.72 8.72l-8.72 -8.72zM965.7 1101.3l8.72 8.72l-8.72 8.72l-8.72 -8.72zM983.1 1118.8l8.72 8.72l-8.72 8.72l-8.72 -8.72zM991.8 1127.5l8.72 8.72l-8.72 8.72l-8.72 -8.72zM1026.7 1162.4l8.72 8.72l-8.72 8.72l-8.72 -8.72zM782.6 900.8l8.72 8.72l-8.72 8.72l-8.72 -8.72zM817.4 935.6l8.72 8.72l-8.72 8.72l-8.72 -8.72zM826.2 944.4l8.72 8.72l-8.72 8.72l-8.72 -8.72zM834.9 953.1l8.72 8.72l-8.72 8.72l-8.72 -8.72zM843.6 961.8l8.72 8.72l-8.72 8.72l-8.72 -8.72zM852.3 970.5l8.72 8.72l-8.72 8.72l-8.72 -8.72zM869.8 988.0l8.72 8.72l-8.72 8.72l-8.72 -8.72zM878.5 996.7l8.72 8.72l-8.72 8.72l-8.72 -8.72zM887.2 1005.4l8.72 8.72l-8.72 8.72l-8.72 -8.72zM913.4 1031.6l8.72 8.72l-8.72 8.72l-8.72 -8.72zM939.5 1057.7l8.72 8.72l-8.72 8.72l-8.72 -8.72zM948.2 1066.4l8.72 8.72l-8.72 8.72l-8.72 -8.72zM965.7 1083.9l8.72 8.72l-8.72 8.72l-8.72 -8.72zM1035.4 1153.6l8.72 8.72l-8.72 8.72l-8.72 -8.72zM817.4 918.2l8.72 8.72l-8.72 8.72l-8.72 -8.72zM826.2 926.9l8.72 8.72l-8.72 8.72l-8.72 -8.72zM913.4 1014.1l8.72 8.72l-8.72 8.72l-8.72 -8.72zM922.1 1022.8l8.72 8.72l-8.72 8.72l-8.72 -8.72zM948.2 1049.0l8.72 8.72l-8.72 8.72l-8.72 -8.72zM1018.0 1118.8l8.72 8.72l-8.72 8.72l-8.72 -8.72zM1035.4 1136.2l8.72 8.72l-8.72 8.72l-8.72 -8.72zM808.7 892.0l8.72 8.72l-8.72 8.72l-8.72 -8.72zM834.9 918.2l8.72 8.72l-8.72 8.72l-8.72 -8.72zM869.8 953.1l8.72 8.72l-8.72 8.72l-8.72 -8.72zM878.5 961.8l8.72 8.72l-8.72 8.72l-8.72 -8.72zM895.9 979.2l8.72 8.72l-8.72 8.72l-8.72 -8.72zM930.8 1014.1l8.72 8.72l-8.72 8.72l-8.72 -8.72zM948.2 1031.6l8.72 8.72l-8.72 8.72l-8.72 -8.72zM974.4 1057.7l8.72 8.72l-8.72 8.72l-8.72 -8.72zM983.1 1066.4l8.72 8.72l-8.72 8.72l-8.72 -8.72zM1009.3 1092.6l8.72 8.72l-8.72 8.72l-8.72 -8.72zM1035.4 1118.8l8.72 8.72l-8.72 8.72l-8.72 -8.72zM1052.9 1136.2l8.72 8.72l-8.72 8.72l-8.72 -8.72zM773.8 839.7l8.72 8.72l-8.72 8.72l-8.72 -8.72zM800.0 865.9l8.72 8.72l-8.72 8.72l-8.72 -8.72zM808.7 874.6l8.72 8.72l-8.72 8.72l-8.72 -8.72zM895.9 961.8l8.72 8.72l-8.72 8.72l-8.72 -8.72zM930.8 996.7l8.72 8.72l-8.72 8.72l-8.72 -8.72zM939.5 1005.4l8.72 8.72l-8.72 8.72l-8.72 -8.72zM957.0 1022.8l8.72 8.72l-8.72 8.72l-8.72 -8.72zM1000.6 1066.4l8.72 8.72l-8.72 8.72l-8.72 -8.72zM1009.3 1075.2l8.72 8.72l-8.72 8.72l-8.72 -8.72zM1052.9 1118.8l8.72 8.72l-8.72 8.72l-8.72 -8.72zM773.8 822.3l8.72 8.72l-8.72 8.72l-8.72 -8.72zM861.0 909.5l8.72 8.72l-8.72 8.72l-8.72 -8.72zM895.9 944.4l8.72 8.72l-8.72 8.72l-8.72 -8.72zM930.8 979.2l8.72 8.72l-8.72 8.72l-8.72 -8.72zM939.5 988.0l8.72 8.72l-8.72 8.72l-8.72 -8.72zM965.7 1014.1l8.72 8.72l-8.72 8.72l-8.72 -8.72zM974.4 1022.8l8.72 8.72l-8.72 8.72l-8.72 -8.72zM991.8 1040.3l8.72 8.72l-8.72 8.72l-8.72 -8.72zM1009.3 1057.7l8.72 8.72l-8.72 8.72l-8.72 -8.72zM1026.7 1075.2l8.72 8.72l-8.72 8.72l-8.72 -8.72zM1061.6 1110.0l8.72 8.72l-8.72 8.72l-8.72 -8.72zM913.4 944.4l8.72 8.72l-8.72 8.72l-8.72 -8.72zM939.5 970.5l8.72 8.72l-8.72 8.72l-8.72 -8.72zM957.0 988.0l8.72 8.72l-8.72 8.72l-8.72 -8.72zM983.1 1014.1l8.72 8.72l-8.72 8.72l-8.72 -8.72zM1052.9 1083.9l8.72 8.72l-8.72 8.72l-8.72 -8.72zM1061.6 1092.6l8.72 8.72l-8.72 8.72l-8.72 -8.72zM826.2 839.7l8.72 8.72l-8.72 8.72l-8.72 -8.72zM913.4 926.9l8.72 8.72l-8.72 8.72l-8.72 -8.72zM965.7 979.2l8.72 8.72l-8.72 8.72l-8.72 -8.72zM974.4 988.0l8.72 8.72l-8.72 8.72l-8.72 -8.72zM983.1 996.7l8.72 8.72l-8.72 8.72l-8.72 -8.72zM991.8 1005.4l8.72 8.72l-8.72 8.72l-8.72 -8.72zM1000.6 1014.1l8.72 8.72l-8.72 8.72l-8.72 -8.72zM1009.3 1022.8l8.72 8.72l-8.72 8.72l-8.72 -8.72zM1018.0 1031.6l8.72 8.72l-8.72 8.72l-8.72 -8.72zM1026.7 1040.3l8.72 8.72l-8.72 8.72l-8.72 -8.72zM1035.4 1049.0l8.72 8.72l-8.72 8.72l-8.72 -8.72zM1087.8 1101.3l8.72 8.72l-8.72 8.72l-8.72 -8.72zM895.9 892.0l8.72 8.72l-8.72 8.72l-8.72 -8.72zM904.6 900.8l8.72 8.72l-8.72 8.72l-8.72 -8.72zM957.0 953.1l8.72 8.72l-8.72 8.72l-8.72 -8.72zM965.7 961.8l8.72 8.72l-8.72 8.72l-8.72 -8.72zM983.1 979.2l8.72 8.72l-8.72 8.72l-8.72 -8.72zM1000.6 996.7l8.72 8.72l-8.72 8.72l-8.72 -8.72zM1009.3 1005.4l8.72 8.72l-8.72 8.72l-8.72 -8.72zM1035.4 1031.6l8.72 8.72l-8.72 8.72l-8.72 -8.72zM1044.2 1040.3l8.72 8.72l-8.72 8.72l-8.72 -8.72zM1070.3 1066.4l8.72 8.72l-8.72 8.72l-8.72 -8.72zM1079.0 1075.2l8.72 8.72l-8.72 8.72l-8.72 -8.72zM1096.5 1092.6l8.72 8.72l-8.72 8.72l-8.72 -8.72zM834.9 813.6l8.72 8.72l-8.72 8.72l-8.72 -8.72zM895.9 874.6l8.72 8.72l-8.72 8.72l-8.72 -8.72zM913.4 892.0l8.72 8.72l-8.72 8.72l-8.72 -8.72zM930.8 909.5l8.72 8.72l-8.72 8.72l-8.72 -8.72zM974.4 953.1l8.72 8.72l-8.72 8.72l-8.72 -8.72zM991.8 970.5l8.72 8.72l-8.72 8.72l-8.72 -8.72zM1079.0 1057.7l8.72 8.72l-8.72 8.72l-8.72 -8.72zM1087.8 1066.4l8.72 8.72l-8.72 8.72l-8.72 -8.72zM957.0 918.2l8.72 8.72l-8.72 8.72l-8.72 -8.72zM965.7 926.9l8.72 8.72l-8.72 8.72l-8.72 -8.72zM991.8 953.1l8.72 8.72l-8.72 8.72l-8.72 -8.72zM1018.0 979.2l8.72 8.72l-8.72 8.72l-8.72 -8.72zM1026.7 988.0l8.72 8.72l-8.72 8.72l-8.72 -8.72zM1061.6 1022.8l8.72 8.72l-8.72 8.72l-8.72 -8.72zM1070.3 1031.6l8.72 8.72l-8.72 8.72l-8.72 -8.72zM1079.0 1040.3l8.72 8.72l-8.72 8.72l-8.72 -8.72zM1087.8 1049.0l8.72 8.72l-8.72 8.72l-8.72 -8.72zM1096.5 1057.7l8.72 8.72l-8.72 8.72l-8.72 -8.72zM1105.2 1066.4l8.72 8.72l-8.72 8.72l-8.72 -8.72zM1113.9 1075.2l8.72 8.72l-8.72 8.72l-8.72 -8.72zM878.5 822.3l8.72 8.72l-8.72 8.72l-8.72 -8.72zM957.0 900.8l8.72 8.72l-8.72 8.72l-8.72 -8.72zM1009.3 953.1l8.72 8.72l-8.72 8.72l-8.72 -8.72zM1018.0 961.8l8.72 8.72l-8.72 8.72l-8.72 -8.72zM1070.3 1014.1l8.72 8.72l-8.72 8.72l-8.72 -8.72zM1079.0 1022.8l8.72 8.72l-8.72 8.72l-8.72 -8.72zM1087.8 1031.6l8.72 8.72l-8.72 8.72l-8.72 -8.72zM1096.5 1040.3l8.72 8.72l-8.72 8.72l-8.72 -8.72zM1105.2 1049.0l8.72 8.72l-8.72 8.72l-8.72 -8.72zM948.2 874.6l8.72 8.72l-8.72 8.72l-8.72 -8.72zM957.0 883.3l8.72 8.72l-8.72 8.72l-8.72 -8.72zM974.4 900.8l8.72 8.72l-8.72 8.72l-8.72 -8.72zM983.1 909.5l8.72 8.72l-8.72 8.72l-8.72 -8.72zM1018.0 944.4l8.72 8.72l-8.72 8.72l-8.72 -8.72zM1026.7 953.1l8.72 8.72l-8.72 8.72l-8.72 -8.72zM1035.4 961.8l8.72 8.72l-8.72 8.72l-8.72 -8.72zM1061.6 988.0l8.72 8.72l-8.72 8.72l-8.72 -8.72zM1070.3 996.7l8.72 8.72l-8.72 8.72l-8.72 -8.72zM1079.0 1005.4l8.72 8.72l-8.72 8.72l-8.72 -8.72zM1096.5 1022.8l8.72 8.72l-8.72 8.72l-8.72 -8.72zM1105.2 1031.6l8.72 8.72l-8.72 8.72l-8.72 -8.72zM1113.9 1040.3l8.72 8.72l-8.72 8.72l-8.72 -8.72zM1131.4 1057.7l8.72 8.72l-8.72 8.72l-8.72 -8.72zM930.8 839.7l8.72 8.72l-8.72 8.72l-8.72 -8.72zM974.4 883.3l8.72 8.72l-8.72 8.72l-8.72 -8.72zM991.8 900.8l8.72 8.72l-8.72 8.72l-8.72 -8.72zM1000.6 909.5l8.72 8.72l-8.72 8.72l-8.72 -8.72zM1009.3 918.2l8.72 8.72l-8.72 8.72l-8.72 -8.72zM1018.0 926.9l8.72 8.72l-8.72 8.72l-8.72 -8.72zM1052.9 961.8l8.72 8.72l-8.72 8.72l-8.72 -8.72zM1079.0 988.0l8.72 8.72l-8.72 8.72l-8.72 -8.72zM1113.9 1022.8l8.72 8.72l-8.72 8.72l-8.72 -8.72zM1122.6 1031.6l8.72 8.72l-8.72 8.72l-8.72 -8.72zM904.6 796.1l8.72 8.72l-8.72 8.72l-8.72 -8.72zM1000.6 892.0l8.72 8.72l-8.72 8.72l-8.72 -8.72zM1035.4 926.9l8.72 8.72l-8.72 8.72l-8.72 -8.72zM1044.2 935.6l8.72 8.72l-8.72 8.72l-8.72 -8.72zM1070.3 961.8l8.72 8.72l-8.72 8.72l-8.72 -8.72zM1079.0 970.5l8.72 8.72l-8.72 8.72l-8.72 -8.72zM1105.2 996.7l8.72 8.72l-8.72 8.72l-8.72 -8.72zM1113.9 1005.4l8.72 8.72l-8.72 8.72l-8.72 -8.72zM1122.6 1014.1l8.72 8.72l-8.72 8.72l-8.72 -8.72zM1148.8 1040.3l8.72 8.72l-8.72 8.72l-8.72 -8.72zM974.4 848.4l8.72 8.72l-8.72 8.72l-8.72 -8.72zM1052.9 926.9l8.72 8.72l-8.72 8.72l-8.72 -8.72zM1070.3 944.4l8.72 8.72l-8.72 8.72l-8.72 -8.72zM1096.5 970.5l8.72 8.72l-8.72 8.72l-8.72 -8.72zM1105.2 979.2l8.72 8.72l-8.72 8.72l-8.72 -8.72zM1122.6 996.7l8.72 8.72l-8.72 8.72l-8.72 -8.72zM1131.4 1005.4l8.72 8.72l-8.72 8.72l-8.72 -8.72zM1140.1 1014.1l8.72 8.72l-8.72 8.72l-8.72 -8.72zM1148.8 1022.8l8.72 8.72l-8.72 8.72l-8.72 -8.72zM1157.5 1031.6l8.72 8.72l-8.72 8.72l-8.72 -8.72zM991.8 848.4l8.72 8.72l-8.72 8.72l-8.72 -8.72zM1000.6 857.2l8.72 8.72l-8.72 8.72l-8.72 -8.72zM1035.4 892.0l8.72 8.72l-8.72 8.72l-8.72 -8.72zM1061.6 918.2l8.72 8.72l-8.72 8.72l-8.72 -8.72zM1079.0 935.6l8.72 8.72l-8.72 8.72l-8.72 -8.72zM1105.2 961.8l8.72 8.72l-8.72 8.72l-8.72 -8.72zM1122.6 979.2l8.72 8.72l-8.72 8.72l-8.72 -8.72zM1131.4 988.0l8.72 8.72l-8.72 8.72l-8.72 -8.72zM1140.1 996.7l8.72 8.72l-8.72 8.72l-8.72 -8.72zM1166.2 1022.8l8.72 8.72l-8.72 8.72l-8.72 -8.72zM1070.3 909.5l8.72 8.72l-8.72 8.72l-8.72 -8.72zM1079.0 918.2l8.72 8.72l-8.72 8.72l-8.72 -8.72zM1105.2 944.4l8.72 8.72l-8.72 8.72l-8.72 -8.72zM1122.6 961.8l8.72 8.72l-8.72 8.72l-8.72 -8.72zM1131.4 970.5l8.72 8.72l-8.72 8.72l-8.72 -8.72zM1148.8 988.0l8.72 8.72l-8.72 8.72l-8.72 -8.72zM1157.5 996.7l8.72 8.72l-8.72 8.72l-8.72 -8.72zM1175.0 1014.1l8.72 8.72l-8.72 8.72l-8.72 -8.72zM1096.5 918.2l8.72 8.72l-8.72 8.72l-8.72 -8.72zM1105.2 926.9l8.72 8.72l-8.72 8.72l-8.72 -8.72zM1122.6 944.4l8.72 8.72l-8.72 8.72l-8.72 -8.72zM1140.1 961.8l8.72 8.72l-8.72 8.72l-8.72 -8.72zM1148.8 970.5l8.72 8.72l-8.72 8.72l-8.72 -8.72zM1157.5 979.2l8.72 8.72l-8.72 8.72l-8.72 -8.72zM1175.0 996.7l8.72 8.72l-8.72 8.72l-8.72 -8.72zM1183.7 1005.4l8.72 8.72l-8.72 8.72l-8.72 -8.72zM1079.0 883.3l8.72 8.72l-8.72 8.72l-8.72 -8.72zM1096.5 900.8l8.72 8.72l-8.72 8.72l-8.72 -8.72zM1113.9 918.2l8.72 8.72l-8.72 8.72l-8.72 -8.72zM1148.8 953.1l8.72 8.72l-8.72 8.72l-8.72 -8.72zM1175.0 979.2l8.72 8.72l-8.72 8.72l-8.72 -8.72zM1183.7 988.0l8.72 8.72l-8.72 8.72l-8.72 -8.72zM1105.2 892.0l8.72 8.72l-8.72 8.72l-8.72 -8.72zM1140.1 926.9l8.72 8.72l-8.72 8.72l-8.72 -8.72zM1166.2 953.1l8.72 8.72l-8.72 8.72l-8.72 -8.72zM1192.4 979.2l8.72 8.72l-8.72 8.72l-8.72 -8.72zM1201.1 988.0l8.72 8.72l-8.72 8.72l-8.72 -8.72zM1044.2 813.6l8.72 8.72l-8.72 8.72l-8.72 -8.72zM1140.1 909.5l8.72 8.72l-8.72 8.72l-8.72 -8.72zM1166.2 935.6l8.72 8.72l-8.72 8.72l-8.72 -8.72zM1192.4 961.8l8.72 8.72l-8.72 8.72l-8.72 -8.72zM1201.1 970.5l8.72 8.72l-8.72 8.72l-8.72 -8.72zM1209.8 979.2l8.72 8.72l-8.72 8.72l-8.72 -8.72zM1166.2 918.2l8.72 8.72l-8.72 8.72l-8.72 -8.72zM1192.4 944.4l8.72 8.72l-8.72 8.72l-8.72 -8.72zM1209.8 961.8l8.72 8.72l-8.72 8.72l-8.72 -8.72zM1166.2 900.8l8.72 8.72l-8.72 8.72l-8.72 -8.72zM1209.8 944.4l8.72 8.72l-8.72 8.72l-8.72 -8.72zM1175.0 892.0l8.72 8.72l-8.72 8.72l-8.72 -8.72zM1236.0 953.1l8.72 8.72l-8.72 8.72l-8.72 -8.72zM1175.0 874.6l8.72 8.72l-8.72 8.72l-8.72 -8.72zM1052.9 735.1l8.72 8.72l-8.72 8.72l-8.72 -8.72zM1236.0 918.2l8.72 8.72l-8.72 8.72l-8.72 -8.72zM1236.0 883.3l8.72 8.72l-8.72 8.72l-8.72 -8.72zM1227.3 857.2l8.72 8.72l-8.72 8.72l-8.72 -8.72zM1183.7 796.1l8.72 8.72l-8.72 8.72l-8.72 -8.72zM1253.4 813.6l8.72 8.72l-8.72 8.72l-8.72 -8.72zM1297.0 857.2l8.72 8.72l-8.72 8.72l-8.72 -8.72zM1305.8 848.4l8.72 8.72l-8.72 8.72l-8.72 -8.72zM1358.1 831.0l8.72 8.72l-8.72 8.72l-8.72 -8.72zM1358.1 813.6l8.72 8.72l-8.72 8.72l-8.72 -8.72zM1297.0 717.6l8.72 8.72l-8.72 8.72l-8.72 -8.72z" fill="#f71111"/>
<path d="M346.6 1022.8l8.72 8.72l-8.72 8.72l-8.72 -8.72zM398.9 1075.2l8.72 8.72l-8.72 8.72l-8.72 -8.72zM425.0 1101.3l8.72 8.72l-8.72 8.72l-8.72 -8.72zM451.2 1127.5l8.72 8.72l-8.72 8.72l-8.72 -8.72zM459.9 1136.2l8.72 8.72l-8.72 8.72l-8.72 -8.72zM468.6 1144.9l8.72 8.72l-8.72 8.72l-8.72 -8.72zM494.8 1171.1l8.72 8.72l-8.72 8.72l-8.72 -8.72zM503.5 1179.8l8.72 8.72l-8.72 8.72l-8.72 -8.72zM512.2 1188.5l8.72 8.72l-8.72 8.72l-8.72 -8.72zM529.7 1206.0l8.72 8.72l-8.72 8.72l-8.72 -8.72zM538.4 1214.7l8.72 8.72l-8.72 8.72l-8.72 -8.72zM582.0 1258.3l8.72 8.72l-8.72 8.72l-8.72 -8.72zM329.1 988.0l8.72 8.72l-8.72 8.72l-8.72 -8.72zM407.6 1066.4l8.72 8.72l-8.72 8.72l-8.72 -8.72zM425.0 1083.9l8.72 8.72l-8.72 8.72l-8.72 -8.72zM459.9 1118.8l8.72 8.72l-8.72 8.72l-8.72 -8.72zM477.4 1136.2l8.72 8.72l-8.72 8.72l-8.72 -8.72zM486.1 1144.9l8.72 8.72l-8.72 8.72l-8.72 -8.72zM503.5 1162.4l8.72 8.72l-8.72 8.72l-8.72 -8.72zM512.2 1171.1l8.72 8.72l-8.72 8.72l-8.72 -8.72zM521.0 1179.8l8.72 8.72l-8.72 8.72l-8.72 -8.72zM547.1 1206.0l8.72 8.72l-8.72 8.72l-8.72 -8.72zM564.6 1223.4l8.72 8.72l-8.72 8.72l-8.72 -8.72zM573.3 1232.1l8.72 8.72l-8.72 8.72l-8.72 -8.72zM590.7 1249.6l8.72 8.72l-8.72 8.72l-8.72 -8.72zM599.4 1258.3l8.72 8.72l-8.72 8.72l-8.72 -8.72zM643.0 1301.9l8.72 8.72l-8.72 8.72l-8.72 -8.72zM468.6 1110.0l8.72 8.72l-8.72 8.72l-8.72 -8.72zM521.0 1162.4l8.72 8.72l-8.72 8.72l-8.72 -8.72zM529.7 1171.1l8.72 8.72l-8.72 8.72l-8.72 -8.72zM538.4 1179.8l8.72 8.72l-8.72 8.72l-8.72 -8.72zM564.6 1206.0l8.72 8.72l-8.72 8.72l-8.72 -8.72zM573.3 1214.7l8.72 8.72l-8.72 8.72l-8.72 -8.72zM250.6 874.6l8.72 8.72l-8.72 8.72l-8.72 -8.72zM459.9 1083.9l8.72 8.72l-8.72 8.72l-8.72 -8.72zM468.6 1092.6l8.72 8.72l-8.72 8.72l-8.72 -8.72zM477.4 1101.3l8.72 8.72l-8.72 8.72l-8.72 -8.72zM486.1 1110.0l8.72 8.72l-8.72 8.72l-8.72 -8.72zM494.8 1118.8l8.72 8.72l-8.72 8.72l-8.72 -8.72zM512.2 1136.2l8.72 8.72l-8.72 8.72l-8.72 -8.72zM529.7 1153.6l8.72 8.72l-8.72 8.72l-8.72 -8.72zM547.1 1171.1l8.72 8.72l-8.72 8.72l-8.72 -8.72zM564.6 1188.5l8.72 8.72l-8.72 8.72l-8.72 -8.72zM582.0 1206.0l8.72 8.72l-8.72 8.72l-8.72 -8.72zM416.3 1022.8l8.72 8.72l-8.72 8.72l-8.72 -8.72zM459.9 1066.4l8.72 8.72l-8.72 8.72l-8.72 -8.72zM477.4 1083.9l8.72 8.72l-8.72 8.72l-8.72 -8.72zM512.2 1118.8l8.72 8.72l-8.72 8.72l-8.72 -8.72zM521.0 1127.5l8.72 8.72l-8.72 8.72l-8.72 -8.72zM529.7 1136.2l8.72 8.72l-8.72 8.72l-8.72 -8.72zM538.4 1144.9l8.72 8.72l-8.72 8.72l-8.72 -8.72zM547.1 1153.6l8.72 8.72l-8.72 8.72l-8.72 -8.72zM573.3 1179.8l8.72 8.72l-8.72 8.72l-8.72 -8.72zM582.0 1188.5l8.72 8.72l-8.72 8.72l-8.72 -8.72zM590.7 1197.2l8.72 8.72l-8.72 8.72l-8.72 -8.72zM599.4 1206.0l8.72 8.72l-8.72 8.72l-8.72 -8.72zM608.2 1214.7l8.72 8.72l-8.72 8.72l-8.72 -8.72zM634.3 1240.8l8.72 8.72l-8.72 8.72l-8.72 -8.72zM686.6 1293.2l8.72 8.72l-8.72 8.72l-8.72 -8.72zM712.8 1319.3l8.72 8.72l-8.72 8.72l-8.72 -8.72zM320.4 909.5l8.72 8.72l-8.72 8.72l-8.72 -8.72zM451.2 1040.3l8.72 8.72l-8.72 8.72l-8.72 -8.72zM512.2 1101.3l8.72 8.72l-8.72 8.72l-8.72 -8.72zM521.0 1110.0l8.72 8.72l-8.72 8.72l-8.72 -8.72zM538.4 1127.5l8.72 8.72l-8.72 8.72l-8.72 -8.72zM547.1 1136.2l8.72 8.72l-8.72 8.72l-8.72 -8.72zM555.8 1144.9l8.72 8.72l-8.72 8.72l-8.72 -8.72zM573.3 1162.4l8.72 8.72l-8.72 8.72l-8.72 -8.72zM608.2 1197.2l8.72 8.72l-8.72 8.72l-8.72 -8.72zM634.3 1223.4l8.72 8.72l-8.72 8.72l-8.72 -8.72zM643.0 1232.1l8.72 8.72l-8.72 8.72l-8.72 -8.72zM669.2 1258.3l8.72 8.72l-8.72 8.72l-8.72 -8.72zM695.4 1284.4l8.72 8.72l-8.72 8.72l-8.72 -8.72zM372.7 944.4l8.72 8.72l-8.72 8.72l-8.72 -8.72zM398.9 970.5l8.72 8.72l-8.72 8.72l-8.72 -8.72zM486.1 1057.7l8.72 8.72l-8.72 8.72l-8.72 -8.72zM494.8 1066.4l8.72 8.72l-8.72 8.72l-8.72 -8.72zM521.0 1092.6l8.72 8.72l-8.72 8.72l-8.72 -8.72zM547.1 1118.8l8.72 8.72l-8.72 8.72l-8.72 -8.72zM582.0 1153.6l8.72 8.72l-8.72 8.72l-8.72 -8.72zM590.7 1162.4l8.72 8.72l-8.72 8.72l-8.72 -8.72zM608.2 1179.8l8.72 8.72l-8.72 8.72l-8.72 -8.72zM634.3 1206.0l8.72 8.72l-8.72 8.72l-8.72 -8.72zM677.9 1249.6l8.72 8.72l-8.72 8.72l-8.72 -8.72zM704.1 1275.7l8.72 8.72l-8.72 8.72l-8.72 -8.72zM494.8 1049.0l8.72 8.72l-8.72 8.72l-8.72 -8.72zM512.2 1066.4l8.72 8.72l-8.72 8.72l-8.72 -8.72zM521.0 1075.2l8.72 8.72l-8.72 8.72l-8.72 -8.72zM547.1 1101.3l8.72 8.72l-8.72 8.72l-8.72 -8.72zM555.8 1110.0l8.72 8.72l-8.72 8.72l-8.72 -8.72zM582.0 1136.2l8.72 8.72l-8.72 8.72l-8.72 -8.72zM599.4 1153.6l8.72 8.72l-8.72 8.72l-8.72 -8.72zM608.2 1162.4l8.72 8.72l-8.72 8.72l-8.72 -8.72zM616.9 1171.1l8.72 8.72l-8.72 8.72l-8.72 -8.72zM625.6 1179.8l8.72 8.72l-8.72 8.72l-8.72 -8.72zM634.3 1188.5l8.72 8.72l-8.72 8.72l-8.72 -8.72zM677.9 1232.1l8.72 8.72l-8.72 8.72l-8.72 -8.72zM695.4 1249.6l8.72 8.72l-8.72 8.72l-8.72 -8.72zM486.1 1022.8l8.72 8.72l-8.72 8.72l-8.72 -8.72zM529.7 1066.4l8.72 8.72l-8.72 8.72l-8.72 -8.72zM547.1 1083.9l8.72 8.72l-8.72 8.72l-8.72 -8.72zM555.8 1092.6l8.72 8.72l-8.72 8.72l-8.72 -8.72zM590.7 1127.5l8.72 8.72l-8.72 8.72l-8.72 -8.72zM608.2 1144.9l8.72 8.72l-8.72 8.72l-8.72 -8.72zM616.9 1153.6l8.72 8.72l-8.72 8.72l-8.72 -8.72zM625.6 1162.4l8.72 8.72l-8.72 8.72l-8.72 -8.72zM643.0 1179.8l8.72 8.72l-8.72 8.72l-8.72 -8.72zM686.6 1223.4l8.72 8.72l-8.72 8.72l-8.72 -8.72zM564.6 1083.9l8.72 8.72l-8.72 8.72l-8.72 -8.72zM582.0 1101.3l8.72 8.72l-8.72 8.72l-8.72 -8.72zM608.2 1127.5l8.72 8.72l-8.72 8.72l-8.72 -8.72zM616.9 1136.2l8.72 8.72l-8.72 8.72l-8.72 -8.72zM634.3 1153.6l8.72 8.72l-8.72 8.72l-8.72 -8.72zM651.8 1171.1l8.72 8.72l-8.72 8.72l-8.72 -8.72zM660.5 1179.8l8.72 8.72l-8.72 8.72l-8.72 -8.72zM782.6 1301.9l8.72 8.72l-8.72 8.72l-8.72 -8.72zM486.1 988.0l8.72 8.72l-8.72 8.72l-8.72 -8.72zM503.5 1005.4l8.72 8.72l-8.72 8.72l-8.72 -8.72zM512.2 1014.1l8.72 8.72l-8.72 8.72l-8.72 -8.72zM521.0 1022.8l8.72 8.72l-8.72 8.72l-8.72 -8.72zM538.4 1040.3l8.72 8.72l-8.72 8.72l-8.72 -8.72zM564.6 1066.4l8.72 8.72l-8.72 8.72l-8.72 -8.72zM573.3 1075.2l8.72 8.72l-8.72 8.72l-8.72 -8.72zM582.0 1083.9l8.72 8.72l-8.72 8.72l-8.72 -8.72zM608.2 1110.0l8.72 8.72l-8.72 8.72l-8.72 -8.72zM634.3 1136.2l8.72 8.72l-8.72 8.72l-8.72 -8.72zM677.9 1179.8l8.72 8.72l-8.72 8.72l-8.72 -8.72zM695.4 1197.2l8.72 8.72l-8.72 8.72l-8.72 -8.72zM529.7 1014.1l8.72 8.72l-8.72 8.72l-8.72 -8.72zM573.3 1057.7l8.72 8.72l-8.72 8.72l-8.72 -8.72zM590.7 1075.2l8.72 8.72l-8.72 8.72l-8.72 -8.72zM608.2 1092.6l8.72 8.72l-8.72 8.72l-8.72 -8.72zM616.9 1101.3l8.72 8.72l-8.72 8.72l-8.72 -8.72zM634.3 1118.8l8.72 8.72l-8.72 8.72l-8.72 -8.72zM643.0 1127.5l8.72 8.72l-8.72 8.72l-8.72 -8.72zM669.2 1153.6l8.72 8.72l-8.72 8.72l-8.72 -8.72zM686.6 1171.1l8.72 8.72l-8.72 8.72l-8.72 -8.72zM712.8 1197.2l8.72 8.72l-8.72 8.72l-8.72 -8.72zM730.2 1214.7l8.72 8.72l-8.72 8.72l-8.72 -8.72zM808.7 1293.2l8.72 8.72l-8.72 8.72l-8.72 -8.72zM555.8 1022.8l8.72 8.72l-8.72 8.72l-8.72 -8.72zM608.2 1075.2l8.72 8.72l-8.72 8.72l-8.72 -8.72zM616.9 1083.9l8.72 8.72l-8.72 8.72l-8.72 -8.72zM634.3 1101.3l8.72 8.72l-8.72 8.72l-8.72 -8.72zM660.5 1127.5l8.72 8.72l-8.72 8.72l-8.72 -8.72zM669.2 1136.2l8.72 8.72l-8.72 8.72l-8.72 -8.72zM686.6 1153.6l8.72 8.72l-8.72 8.72l-8.72 -8.72zM695.4 1162.4l8.72 8.72l-8.72 8.72l-8.72 -8.72zM704.1 1171.1l8.72 8.72l-8.72 8.72l-8.72 -8.72zM712.8 1179.8l8.72 8.72l-8.72 8.72l-8.72 -8.72zM739.0 1206.0l8.72 8.72l-8.72 8.72l-8.72 -8.72zM782.6 1249.6l8.72 8.72l-8.72 8.72l-8.72 -8.72zM486.1 935.6l8.72 8.72l-8.72 8.72l-8.72 -8.72zM608.2 1057.7l8.72 8.72l-8.72 8.72l-8.72 -8.72zM616.9 1066.4l8.72 8.72l-8.72 8.72l-8.72 -8.72zM643.0 1092.6l8.72 8.72l-8.72 8.72l-8.72 -8.72zM695.4 1144.9l8.72 8.72l-8.72 8.72l-8.72 -8.72zM712.8 1162.4l8.72 8.72l-8.72 8.72l-8.72 -8.72zM721.5 1171.1l8.72 8.72l-8.72 8.72l-8.72 -8.72zM739.0 1188.5l8.72 8.72l-8.72 8.72l-8.72 -8.72zM529.7 961.8l8.72 8.72l-8.72 8.72l-8.72 -8.72zM555.8 988.0l8.72 8.72l-8.72 8.72l-8.72 -8.72zM573.3 1005.4l8.72 8.72l-8.72 8.72l-8.72 -8.72zM590.7 1022.8l8.72 8.72l-8.72 8.72l-8.72 -8.72zM616.9 1049.0l8.72 8.72l-8.72 8.72l-8.72 -8.72zM651.8 1083.9l8.72 8.72l-8.72 8.72l-8.72 -8.72zM660.5 1092.6l8.72 8.72l-8.72 8.72l-8.72 -8.72zM669.2 1101.3l8.72 8.72l-8.72 8.72l-8.72 -8.72zM677.9 1110.0l8.72 8.72l-8.72 8.72l-8.72 -8.72zM686.6 1118.8l8.72 8.72l-8.72 8.72l-8.72 -8.72zM704.1 1136.2l8.72 8.72l-8.72 8.72l-8.72 -8.72zM721.5 1153.6l8.72 8.72l-8.72 8.72l-8.72 -8.72zM730.2 1162.4l8.72 8.72l-8.72 8.72l-8.72 -8.72zM756.4 1188.5l8.72 8.72l-8.72 8.72l-8.72 -8.72zM765.1 1197.2l8.72 8.72l-8.72 8.72l-8.72 -8.72zM782.6 1214.7l8.72 8.72l-8.72 8.72l-8.72 -8.72zM625.6 1040.3l8.72 8.72l-8.72 8.72l-8.72 -8.72zM651.8 1066.4l8.72 8.72l-8.72 8.72l-8.72 -8.72zM660.5 1075.2l8.72 8.72l-8.72 8.72l-8.72 -8.72zM686.6 1101.3l8.72 8.72l-8.72 8.72l-8.72 -8.72zM704.1 1118.8l8.72 8.72l-8.72 8.72l-8.72 -8.72zM712.8 1127.5l8.72 8.72l-8.72 8.72l-8.72 -8.72zM730.2 1144.9l8.72 8.72l-8.72 8.72l-8.72 -8.72zM756.4 1171.1l8.72 8.72l-8.72 8.72l-8.72 -8.72zM791.3 1206.0l8.72 8.72l-8.72 8.72l-8.72 -8.72zM800.0 1214.7l8.72 8.72l-8.72 8.72l-8.72 -8.72zM861.0 1275.7l8.72 8.72l-8.72 8.72l-8.72 -8.72zM494.8 892.0l8.72 8.72l-8.72 8.72l-8.72 -8.72zM529.7 926.9l8.72 8.72l-8.72 8.72l-8.72 -8.72zM582.0 979.2l8.72 8.72l-8.72 8.72l-8.72 -8.72zM616.9 1014.1l8.72 8.72l-8.72 8.72l-8.72 -8.72zM651.8 1049.0l8.72 8.72l-8.72 8.72l-8.72 -8.72zM660.5 1057.7l8.72 8.72l-8.72 8.72l-8.72 -8.72zM669.2 1066.4l8.72 8.72l-8.72 8.72l-8.72 -8.72zM677.9 1075.2l8.72 8.72l-8.72 8.72l-8.72 -8.72zM686.6 1083.9l8.72 8.72l-8.72 8.72l-8.72 -8.72zM712.8 1110.0l8.72 8.72l-8.72 8.72l-8.72 -8.72zM721.5 1118.8l8.72 8.72l-8.72 8.72l-8.72 -8.72zM747.7 1144.9l8.72 8.72l-8.72 8.72l-8.72 -8.72zM756.4 1153.6l8.72 8.72l-8.72 8.72l-8.72 -8.72zM773.8 1171.1l8.72 8.72l-8.72 8.72l-8.72 -8.72zM843.6 1240.8l8.72 8.72l-8.72 8.72l-8.72 -8.72zM608.2 988.0l8.72 8.72l-8.72 8.72l-8.72 -8.72zM616.9 996.7l8.72 8.72l-8.72 8.72l-8.72 -8.72zM643.0 1022.8l8.72 8.72l-8.72 8.72l-8.72 -8.72zM669.2 1049.0l8.72 8.72l-8.72 8.72l-8.72 -8.72zM677.9 1057.7l8.72 8.72l-8.72 8.72l-8.72 -8.72zM721.5 1101.3l8.72 8.72l-8.72 8.72l-8.72 -8.72zM739.0 1118.8l8.72 8.72l-8.72 8.72l-8.72 -8.72zM756.4 1136.2l8.72 8.72l-8.72 8.72l-8.72 -8.72zM765.1 1144.9l8.72 8.72l-8.72 8.72l-8.72 -8.72zM808.7 1188.5l8.72 8.72l-8.72 8.72l-8.72 -8.72zM869.8 1249.6l8.72 8.72l-8.72 8.72l-8.72 -8.72zM634.3 996.7l8.72 8.72l-8.72 8.72l-8.72 -8.72zM643.0 1005.4l8.72 8.72l-8.72 8.72l-8.72 -8.72zM669.2 1031.6l8.72 8.72l-8.72 8.72l-8.72 -8.72zM677.9 1040.3l8.72 8.72l-8.72 8.72l-8.72 -8.72zM686.6 1049.0l8.72 8.72l-8.72 8.72l-8.72 -8.72zM721.5 1083.9l8.72 8.72l-8.72 8.72l-8.72 -8.72zM773.8 1136.2l8.72 8.72l-8.72 8.72l-8.72 -8.72zM800.0 1162.4l8.72 8.72l-8.72 8.72l-8.72 -8.72zM808.7 1171.1l8.72 8.72l-8.72 8.72l-8.72 -8.72zM852.3 1214.7l8.72 8.72l-8.72 8.72l-8.72 -8.72zM895.9 1258.3l8.72 8.72l-8.72 8.72l-8.72 -8.72zM712.8 1057.7l8.72 8.72l-8.72 8.72l-8.72 -8.72zM721.5 1066.4l8.72 8.72l-8.72 8.72l-8.72 -8.72zM739.0 1083.9l8.72 8.72l-8.72 8.72l-8.72 -8.72zM756.4 1101.3l8.72 8.72l-8.72 8.72l-8.72 -8.72zM765.1 1110.0l8.72 8.72l-8.72 8.72l-8.72 -8.72zM773.8 1118.8l8.72 8.72l-8.72 8.72l-8.72 -8.72zM782.6 1127.5l8.72 8.72l-8.72 8.72l-8.72 -8.72zM800.0 1144.9l8.72 8.72l-8.72 8.72l-8.72 -8.72zM808.7 1153.6l8.72 8.72l-8.72 8.72l-8.72 -8.72zM826.2 1171.1l8.72 8.72l-8.72 8.72l-8.72 -8.72zM861.0 1206.0l8.72 8.72l-8.72 8.72l-8.72 -8.72zM869.8 1214.7l8.72 8.72l-8.72 8.72l-8.72 -8.72zM913.4 1258.3l8.72 8.72l-8.72 8.72l-8.72 -8.72zM660.5 988.0l8.72 8.72l-8.72 8.72l-8.72 -8.72zM669.2 996.7l8.72 8.72l-8.72 8.72l-8.72 -8.72zM677.9 1005.4l8.72 8.72l-8.72 8.72l-8.72 -8.72zM686.6 1014.1l8.72 8.72l-8.72 8.72l-8.72 -8.72zM712.8 1040.3l8.72 8.72l-8.72 8.72l-8.72 -8.72zM721.5 1049.0l8.72 8.72l-8.72 8.72l-8.72 -8.72zM747.7 1075.2l8.72 8.72l-8.72 8.72l-8.72 -8.72zM765.1 1092.6l8.72 8.72l-8.72 8.72l-8.72 -8.72zM773.8 1101.3l8.72 8.72l-8.72 8.72l-8.72 -8.72zM782.6 1110.0l8.72 8.72l-8.72 8.72l-8.72 -8.72zM791.3 1118.8l8.72 8.72l-8.72 8.72l-8.72 -8.72zM800.0 1127.5l8.72 8.72l-8.72 8.72l-8.72 -8.72zM817.4 1144.9l8.72 8.72l-8.72 8.72l-8.72 -8.72zM861.0 1188.5l8.72 8.72l-8.72 8.72l-8.72 -8.72zM895.9 1223.4l8.72 8.72l-8.72 8.72l-8.72 -8.72zM721.5 1031.6l8.72 8.72l-8.72 8.72l-8.72 -8.72zM739.0 1049.0l8.72 8.72l-8.72 8.72l-8.72 -8.72zM747.7 1057.7l8.72 8.72l-8.72 8.72l-8.72 -8.72zM765.1 1075.2l8.72 8.72l-8.72 8.72l-8.72 -8.72zM773.8 1083.9l8.72 8.72l-8.72 8.72l-8.72 -8.72zM791.3 1101.3l8.72 8.72l-8.72 8.72l-8.72 -8.72zM800.0 1110.0l8.72 8.72l-8.72 8.72l-8.72 -8.72zM808.7 1118.8l8.72 8.72l-8.72 8.72l-8.72 -8.72zM826.2 1136.2l8.72 8.72l-8.72 8.72l-8.72 -8.72zM834.9 1144.9l8.72 8.72l-8.72 8.72l-8.72 -8.72zM861.0 1171.1l8.72 8.72l-8.72 8.72l-8.72 -8.72zM721.5 1014.1l8.72 8.72l-8.72 8.72l-8.72 -8.72zM747.7 1040.3l8.72 8.72l-8.72 8.72l-8.72 -8.72zM765.1 1057.7l8.72 8.72l-8.72 8.72l-8.72 -8.72zM791.3 1083.9l8.72 8.72l-8.72 8.72l-8.72 -8.72zM800.0 1092.6l8.72 8.72l-8.72 8.72l-8.72 -8.72zM808.7 1101.3l8.72 8.72l-8.72 8.72l-8.72 -8.72zM826.2 1118.8l8.72 8.72l-8.72 8.72l-8.72 -8.72zM869.8 1162.4l8.72 8.72l-8.72 8.72l-8.72 -8.72zM878.5 1171.1l8.72 8.72l-8.72 8.72l-8.72 -8.72zM904.6 1197.2l8.72 8.72l-8.72 8.72l-8.72 -8.72zM922.1 1214.7l8.72 8.72l-8.72 8.72l-8.72 -8.72zM739.0 1014.1l8.72 8.72l-8.72 8.72l-8.72 -8.72zM747.7 1022.8l8.72 8.72l-8.72 8.72l-8.72 -8.72zM773.8 1049.0l8.72 8.72l-8.72 8.72l-8.72 -8.72zM800.0 1075.2l8.72 8.72l-8.72 8.72l-8.72 -8.72zM808.7 1083.9l8.72 8.72l-8.72 8.72l-8.72 -8.72zM817.4 1092.6l8.72 8.72l-8.72 8.72l-8.72 -8.72zM834.9 1110.0l8.72 8.72l-8.72 8.72l-8.72 -8.72zM869.8 1144.9l8.72 8.72l-8.72 8.72l-8.72 -8.72zM878.5 1153.6l8.72 8.72l-8.72 8.72l-8.72 -8.72zM887.2 1162.4l8.72 8.72l-8.72 8.72l-8.72 -8.72zM904.6 1179.8l8.72 8.72l-8.72 8.72l-8.72 -8.72zM922.1 1197.2l8.72 8.72l-8.72 8.72l-8.72 -8.72zM948.2 1223.4l8.72 8.72l-8.72 8.72l-8.72 -8.72zM765.1 1022.8l8.72 8.72l-8.72 8.72l-8.72 -8.72zM800.0 1057.7l8.72 8.72l-8.72 8.72l-8.72 -8.72zM808.7 1066.4l8.72 8.72l-8.72 8.72l-8.72 -8.72zM826.2 1083.9l8.72 8.72l-8.72 8.72l-8.72 -8.72zM834.9 1092.6l8.72 8.72l-8.72 8.72l-8.72 -8.72zM861.0 1118.8l8.72 8.72l-8.72 8.72l-8.72 -8.72zM869.8 1127.5l8.72 8.72l-8.72 8.72l-8.72 -8.72zM878.5 1136.2l8.72 8.72l-8.72 8.72l-8.72 -8.72zM887.2 1144.9l8.72 8.72l-8.72 8.72l-8.72 -8.72zM913.4 1171.1l8.72 8.72l-8.72 8.72l-8.72 -8.72zM773.8 1014.1l8.72 8.72l-8.72 8.72l-8.72 -8.72zM791.3 1031.6l8.72 8.72l-8.72 8.72l-8.72 -8.72zM800.0 1040.3l8.72 8.72l-8.72 8.72l-8.72 -8.72zM843.6 1083.9l8.72 8.72l-8.72 8.72l-8.72 -8.72zM861.0 1101.3l8.72 8.72l-8.72 8.72l-8.72 -8.72zM895.9 1136.2l8.72 8.72l-8.72 8.72l-8.72 -8.72zM930.8 1171.1l8.72 8.72l-8.72 8.72l-8.72 -8.72zM948.2 1188.5l8.72 8.72l-8.72 8.72l-8.72 -8.72zM965.7 1206.0l8.72 8.72l-8.72 8.72l-8.72 -8.72zM730.2 953.1l8.72 8.72l-8.72 8.72l-8.72 -8.72zM782.6 1005.4l8.72 8.72l-8.72 8.72l-8.72 -8.72zM834.9 1057.7l8.72 8.72l-8.72 8.72l-8.72 -8.72zM843.6 1066.4l8.72 8.72l-8.72 8.72l-8.72 -8.72zM861.0 1083.9l8.72 8.72l-8.72 8.72l-8.72 -8.72zM869.8 1092.6l8.72 8.72l-8.72 8.72l-8.72 -8.72zM878.5 1101.3l8.72 8.72l-8.72 8.72l-8.72 -8.72zM895.9 1118.8l8.72 8.72l-8.72 8.72l-8.72 -8.72zM904.6 1127.5l8.72 8.72l-8.72 8.72l-8.72 -8.72zM913.4 1136.2l8.72 8.72l-8.72 8.72l-8.72 -8.72zM930.8 1153.6l8.72 8.72l-8.72 8.72l-8.72 -8.72zM939.5 1162.4l8.72 8.72l-8.72 8.72l-8.72 -8.72zM948.2 1171.1l8.72 8.72l-8.72 8.72l-8.72 -8.72zM965.7 1188.5l8.72 8.72l-8.72 8.72l-8.72 -8.72zM974.4 1197.2l8.72 8.72l-8.72 8.72l-8.72 -8.72zM739.0 944.4l8.72 8.72l-8.72 8.72l-8.72 -8.72zM800.0 1005.4l8.72 8.72l-8.72 8.72l-8.72 -8.72zM869.8 1075.2l8.72 8.72l-8.72 8.72l-8.72 -8.72zM878.5 1083.9l8.72 8.72l-8.72 8.72l-8.72 -8.72zM913.4 1118.8l8.72 8.72l-8.72 8.72l-8.72 -8.72zM930.8 1136.2l8.72 8.72l-8.72 8.72l-8.72 -8.72zM939.5 1144.9l8.72 8.72l-8.72 8.72l-8.72 -8.72zM957.0 1162.4l8.72 8.72l-8.72 8.72l-8.72 -8.72zM983.1 1188.5l8.72 8.72l-8.72 8.72l-8.72 -8.72zM826.2 1014.1l8.72 8.72l-8.72 8.72l-8.72 -8.72zM852.3 1040.3l8.72 8.72l-8.72 8.72l-8.72 -8.72zM869.8 1057.7l8.72 8.72l-8.72 8.72l-8.72 -8.72zM878.5 1066.4l8.72 8.72l-8.72 8.72l-8.72 -8.72zM922.1 1110.0l8.72 8.72l-8.72 8.72l-8.72 -8.72zM983.1 1171.1l8.72 8.72l-8.72 8.72l-8.72 -8.72zM991.8 1179.8l8.72 8.72l-8.72 8.72l-8.72 -8.72zM834.9 1005.4l8.72 8.72l-8.72 8.72l-8.72 -8.72zM843.6 1014.1l8.72 8.72l-8.72 8.72l-8.72 -8.72zM852.3 1022.8l8.72 8.72l-8.72 8.72l-8.72 -8.72zM895.9 1066.4l8.72 8.72l-8.72 8.72l-8.72 -8.72zM913.4 1083.9l8.72 8.72l-8.72 8.72l-8.72 -8.72zM922.1 1092.6l8.72 8.72l-8.72 8.72l-8.72 -8.72zM957.0 1127.5l8.72 8.72l-8.72 8.72l-8.72 -8.72zM965.7 1136.2l8.72 8.72l-8.72 8.72l-8.72 -8.72zM991.8 1162.4l8.72 8.72l-8.72 8.72l-8.72 -8.72zM1000.6 1171.1l8.72 8.72l-8.72 8.72l-8.72 -8.72zM826.2 979.2l8.72 8.72l-8.72 8.72l-8.72 -8.72zM869.8 1022.8l8.72 8.72l-8.72 8.72l-8.72 -8.72zM904.6 1057.7l8.72 8.72l-8.72 8.72l-8.72 -8.72zM913.4 1066.4l8.72 8.72l-8.72 8.72l-8.72 -8.72zM939.5 1092.6l8.72 8.72l-8.72 8.72l-8.72 -8.72zM957.0 1110.0l8.72 8.72l-8.72 8.72l-8.72 -8.72zM965.7 1118.8l8.72 8.72l-8.72 8.72l-8.72 -8.72zM974.4 1127.5l8.72 8.72l-8.72 8.72l-8.72 -8.72zM983.1 1136.2l8.72 8.72l-8.72 8.72l-8.72 -8.72zM991.8 1144.9l8.72 8.72l-8.72 8.72l-8.72 -8.72zM1000.6 1153.6l8.72 8.72l-8.72 8.72l-8.72 -8.72zM834.9 970.5l8.72 8.72l-8.72 8.72l-8.72 -8.72zM852.3 988.0l8.72 8.72l-8.72 8.72l-8.72 -8.72zM895.9 1031.6l8.72 8.72l-8.72 8.72l-8.72 -8.72zM913.4 1049.0l8.72 8.72l-8.72 8.72l-8.72 -8.72zM930.8 1066.4l8.72 8.72l-8.72 8.72l-8.72 -8.72zM939.5 1075.2l8.72 8.72l-8.72 8.72l-8.72 -8.72zM957.0 1092.6l8.72 8.72l-8.72 8.72l-8.72 -8.72zM1009.3 1144.9l8.72 8.72l-8.72 8.72l-8.72 -8.72zM1018.0 1153.6l8.72 8.72l-8.72 8.72l-8.72 -8.72zM904.6 1022.8l8.72 8.72l-8.72 8.72l-8.72 -8.72zM922.1 1040.3l8.72 8.72l-8.72 8.72l-8.72 -8.72zM974.4 1092.6l8.72 8.72l-8.72 8.72l-8.72 -8.72zM991.8 1110.0l8.72 8.72l-8.72 8.72l-8.72 -8.72zM1009.3 1127.5l8.72 8.72l-8.72 8.72l-8.72 -8.72zM1018.0 1136.2l8.72 8.72l-8.72 8.72l-8.72 -8.72zM1026.7 1144.9l8.72 8.72l-8.72 8.72l-8.72 -8.72zM904.6 1005.4l8.72 8.72l-8.72 8.72l-8.72 -8.72zM930.8 1031.6l8.72 8.72l-8.72 8.72l-8.72 -8.72zM939.5 1040.3l8.72 8.72l-8.72 8.72l-8.72 -8.72zM965.7 1066.4l8.72 8.72l-8.72 8.72l-8.72 -8.72zM974.4 1075.2l8.72 8.72l-8.72 8.72l-8.72 -8.72zM983.1 1083.9l8.72 8.72l-8.72 8.72l-8.72 -8.72zM991.8 1092.6l8.72 8.72l-8.72 8.72l-8.72 -8.72zM1000.6 1101.3l8.72 8.72l-8.72 8.72l-8.72 -8.72zM1009.3 1110.0l8.72 8.72l-8.72 8.72l-8.72 -8.72zM1026.7 1127.5l8.72 8.72l-8.72 8.72l-8.72 -8.72zM1044.2 1144.9l8.72 8.72l-8.72 8.72l-8.72 -8.72zM957.0 1040.3l8.72 8.72l-8.72 8.72l-8.72 -8.72zM965.7 1049.0l8.72 8.72l-8.72 8.72l-8.72 -8.72zM991.8 1075.2l8.72 8.72l-8.72 8.72l-8.72 -8.72zM1000.6 1083.9l8.72 8.72l-8.72 8.72l-8.72 -8.72zM1026.7 1110.0l8.72 8.72l-8.72 8.72l-8.72 -8.72zM922.1 988.0l8.72 8.72l-8.72 8.72l-8.72 -8.72zM965.7 1031.6l8.72 8.72l-8.72 8.72l-8.72 -8.72zM974.4 1040.3l8.72 8.72l-8.72 8.72l-8.72 -8.72zM983.1 1049.0l8.72 8.72l-8.72 8.72l-8.72 -8.72zM991.8 1057.7l8.72 8.72l-8.72 8.72l-8.72 -8.72zM1018.0 1083.9l8.72 8.72l-8.72 8.72l-8.72 -8.72zM1026.7 1092.6l8.72 8.72l-8.72 8.72l-8.72 -8.72zM1035.4 1101.3l8.72 8.72l-8.72 8.72l-8.72 -8.72zM1044.2 1110.0l8.72 8.72l-8.72 8.72l-8.72 -8.72zM1018.0 1066.4l8.72 8.72l-8.72 8.72l-8.72 -8.72zM1035.4 1083.9l8.72 8.72l-8.72 8.72l-8.72 -8.72zM1052.9 1101.3l8.72 8.72l-8.72 8.72l-8.72 -8.72zM930.8 961.8l8.72 8.72l-8.72 8.72l-8.72 -8.72zM1009.3 1040.3l8.72 8.72l-8.72 8.72l-8.72 -8.72zM1018.0 1049.0l8.72 8.72l-8.72 8.72l-8.72 -8.72zM1035.4 1066.4l8.72 8.72l-8.72 8.72l-8.72 -8.72zM1044.2 1075.2l8.72 8.72l-8.72 8.72l-8.72 -8.72zM1070.3 1101.3l8.72 8.72l-8.72 8.72l-8.72 -8.72zM1079.0 1110.0l8.72 8.72l-8.72 8.72l-8.72 -8.72zM957.0 970.5l8.72 8.72l-8.72 8.72l-8.72 -8.72zM1044.2 1057.7l8.72 8.72l-8.72 8.72l-8.72 -8.72zM1052.9 1066.4l8.72 8.72l-8.72 8.72l-8.72 -8.72zM1061.6 1075.2l8.72 8.72l-8.72 8.72l-8.72 -8.72zM1070.3 1083.9l8.72 8.72l-8.72 8.72l-8.72 -8.72zM1079.0 1092.6l8.72 8.72l-8.72 8.72l-8.72 -8.72zM1061.6 1057.7l8.72 8.72l-8.72 8.72l-8.72 -8.72zM1087.8 1083.9l8.72 8.72l-8.72 8.72l-8.72 -8.72zM1070.3 1049.0l8.72 8.72l-8.72 8.72l-8.72 -8.72zM1096.5 1075.2l8.72 8.72l-8.72 8.72l-8.72 -8.72zM1105.2 1083.9l8.72 8.72l-8.72 8.72l-8.72 -8.72zM1122.6 1066.4l8.72 8.72l-8.72 8.72l-8.72 -8.72zM1131.4 1040.3l8.72 8.72l-8.72 8.72l-8.72 -8.72zM1140.1 1049.0l8.72 8.72l-8.72 8.72l-8.72 -8.72zM1096.5 988.0l8.72 8.72l-8.72 8.72l-8.72 -8.72zM1026.7 900.8l8.72 8.72l-8.72 8.72l-8.72 -8.72zM1166.2 988.0l8.72 8.72l-8.72 8.72l-8.72 -8.72z" fill="#f61414"/>
<path d="M521.0 1197.2l8.72 8.72l-8.72 8.72l-8.72 -8.72zM555.8 1232.1l8.72 8.72l-8.72 8.72l-8.72 -8.72zM564.6 1240.8l8.72 8.72l-8.72 8.72l-8.72 -8.72zM573.3 1249.6l8.72 8.72l-8.72 8.72l-8.72 -8.72zM608.2 1284.4l8.72 8.72l-8.72 8.72l-8.72 -8.72zM616.9 1293.2l8.72 8.72l-8.72 8.72l-8.72 -8.72zM643.0 1319.3l8.72 8.72l-8.72 8.72l-8.72 -8.72zM686.6 1362.9l8.72 8.72l-8.72 8.72l-8.72 -8.72zM712.8 1389.1l8.72 8.72l-8.72 8.72l-8.72 -8.72zM756.4 1432.7l8.72 8.72l-8.72 8.72l-8.72 -8.72zM468.6 1127.5l8.72 8.72l-8.72 8.72l-8.72 -8.72zM529.7 1188.5l8.72 8.72l-8.72 8.72l-8.72 -8.72zM538.4 1197.2l8.72 8.72l-8.72 8.72l-8.72 -8.72zM555.8 1214.7l8.72 8.72l-8.72 8.72l-8.72 -8.72zM634.3 1293.2l8.72 8.72l-8.72 8.72l-8.72 -8.72zM477.4 1118.8l8.72 8.72l-8.72 8.72l-8.72 -8.72zM494.8 1136.2l8.72 8.72l-8.72 8.72l-8.72 -8.72zM503.5 1144.9l8.72 8.72l-8.72 8.72l-8.72 -8.72zM512.2 1153.6l8.72 8.72l-8.72 8.72l-8.72 -8.72zM547.1 1188.5l8.72 8.72l-8.72 8.72l-8.72 -8.72zM555.8 1197.2l8.72 8.72l-8.72 8.72l-8.72 -8.72zM582.0 1223.4l8.72 8.72l-8.72 8.72l-8.72 -8.72zM590.7 1232.1l8.72 8.72l-8.72 8.72l-8.72 -8.72zM608.2 1249.6l8.72 8.72l-8.72 8.72l-8.72 -8.72zM625.6 1267.0l8.72 8.72l-8.72 8.72l-8.72 -8.72zM730.2 1371.6l8.72 8.72l-8.72 8.72l-8.72 -8.72zM503.5 1127.5l8.72 8.72l-8.72 8.72l-8.72 -8.72zM521.0 1144.9l8.72 8.72l-8.72 8.72l-8.72 -8.72zM573.3 1197.2l8.72 8.72l-8.72 8.72l-8.72 -8.72zM599.4 1223.4l8.72 8.72l-8.72 8.72l-8.72 -8.72zM608.2 1232.1l8.72 8.72l-8.72 8.72l-8.72 -8.72zM625.6 1249.6l8.72 8.72l-8.72 8.72l-8.72 -8.72zM634.3 1258.3l8.72 8.72l-8.72 8.72l-8.72 -8.72zM660.5 1284.4l8.72 8.72l-8.72 8.72l-8.72 -8.72zM669.2 1293.2l8.72 8.72l-8.72 8.72l-8.72 -8.72zM686.6 1310.6l8.72 8.72l-8.72 8.72l-8.72 -8.72zM494.8 1101.3l8.72 8.72l-8.72 8.72l-8.72 -8.72zM503.5 1110.0l8.72 8.72l-8.72 8.72l-8.72 -8.72zM555.8 1162.4l8.72 8.72l-8.72 8.72l-8.72 -8.72zM616.9 1223.4l8.72 8.72l-8.72 8.72l-8.72 -8.72zM625.6 1232.1l8.72 8.72l-8.72 8.72l-8.72 -8.72zM643.0 1249.6l8.72 8.72l-8.72 8.72l-8.72 -8.72zM651.8 1258.3l8.72 8.72l-8.72 8.72l-8.72 -8.72zM669.2 1275.7l8.72 8.72l-8.72 8.72l-8.72 -8.72zM529.7 1118.8l8.72 8.72l-8.72 8.72l-8.72 -8.72zM564.6 1153.6l8.72 8.72l-8.72 8.72l-8.72 -8.72zM582.0 1171.1l8.72 8.72l-8.72 8.72l-8.72 -8.72zM590.7 1179.8l8.72 8.72l-8.72 8.72l-8.72 -8.72zM599.4 1188.5l8.72 8.72l-8.72 8.72l-8.72 -8.72zM625.6 1214.7l8.72 8.72l-8.72 8.72l-8.72 -8.72zM660.5 1249.6l8.72 8.72l-8.72 8.72l-8.72 -8.72zM686.6 1275.7l8.72 8.72l-8.72 8.72l-8.72 -8.72zM704.1 1293.2l8.72 8.72l-8.72 8.72l-8.72 -8.72zM730.2 1319.3l8.72 8.72l-8.72 8.72l-8.72 -8.72zM739.0 1328.0l8.72 8.72l-8.72 8.72l-8.72 -8.72zM747.7 1336.8l8.72 8.72l-8.72 8.72l-8.72 -8.72zM773.8 1362.9l8.72 8.72l-8.72 8.72l-8.72 -8.72zM512.2 1083.9l8.72 8.72l-8.72 8.72l-8.72 -8.72zM573.3 1144.9l8.72 8.72l-8.72 8.72l-8.72 -8.72zM599.4 1171.1l8.72 8.72l-8.72 8.72l-8.72 -8.72zM616.9 1188.5l8.72 8.72l-8.72 8.72l-8.72 -8.72zM625.6 1197.2l8.72 8.72l-8.72 8.72l-8.72 -8.72zM643.0 1214.7l8.72 8.72l-8.72 8.72l-8.72 -8.72zM651.8 1223.4l8.72 8.72l-8.72 8.72l-8.72 -8.72zM660.5 1232.1l8.72 8.72l-8.72 8.72l-8.72 -8.72zM669.2 1240.8l8.72 8.72l-8.72 8.72l-8.72 -8.72zM686.6 1258.3l8.72 8.72l-8.72 8.72l-8.72 -8.72zM695.4 1267.0l8.72 8.72l-8.72 8.72l-8.72 -8.72zM643.0 1197.2l8.72 8.72l-8.72 8.72l-8.72 -8.72zM651.8 1206.0l8.72 8.72l-8.72 8.72l-8.72 -8.72zM660.5 1214.7l8.72 8.72l-8.72 8.72l-8.72 -8.72zM669.2 1223.4l8.72 8.72l-8.72 8.72l-8.72 -8.72zM712.8 1267.0l8.72 8.72l-8.72 8.72l-8.72 -8.72zM582.0 1118.8l8.72 8.72l-8.72 8.72l-8.72 -8.72zM634.3 1171.1l8.72 8.72l-8.72 8.72l-8.72 -8.72zM651.8 1188.5l8.72 8.72l-8.72 8.72l-8.72 -8.72zM669.2 1206.0l8.72 8.72l-8.72 8.72l-8.72 -8.72zM677.9 1214.7l8.72 8.72l-8.72 8.72l-8.72 -8.72zM695.4 1232.1l8.72 8.72l-8.72 8.72l-8.72 -8.72zM704.1 1240.8l8.72 8.72l-8.72 8.72l-8.72 -8.72zM730.2 1267.0l8.72 8.72l-8.72 8.72l-8.72 -8.72zM747.7 1284.4l8.72 8.72l-8.72 8.72l-8.72 -8.72zM625.6 1144.9l8.72 8.72l-8.72 8.72l-8.72 -8.72zM643.0 1162.4l8.72 8.72l-8.72 8.72l-8.72 -8.72zM669.2 1188.5l8.72 8.72l-8.72 8.72l-8.72 -8.72zM677.9 1197.2l8.72 8.72l-8.72 8.72l-8.72 -8.72zM686.6 1206.0l8.72 8.72l-8.72 8.72l-8.72 -8.72zM695.4 1214.7l8.72 8.72l-8.72 8.72l-8.72 -8.72zM704.1 1223.4l8.72 8.72l-8.72 8.72l-8.72 -8.72zM730.2 1249.6l8.72 8.72l-8.72 8.72l-8.72 -8.72zM747.7 1267.0l8.72 8.72l-8.72 8.72l-8.72 -8.72zM756.4 1275.7l8.72 8.72l-8.72 8.72l-8.72 -8.72zM765.1 1284.4l8.72 8.72l-8.72 8.72l-8.72 -8.72zM834.9 1354.2l8.72 8.72l-8.72 8.72l-8.72 -8.72zM590.7 1092.6l8.72 8.72l-8.72 8.72l-8.72 -8.72zM651.8 1153.6l8.72 8.72l-8.72 8.72l-8.72 -8.72zM669.2 1171.1l8.72 8.72l-8.72 8.72l-8.72 -8.72zM686.6 1188.5l8.72 8.72l-8.72 8.72l-8.72 -8.72zM704.1 1206.0l8.72 8.72l-8.72 8.72l-8.72 -8.72zM739.0 1240.8l8.72 8.72l-8.72 8.72l-8.72 -8.72zM747.7 1249.6l8.72 8.72l-8.72 8.72l-8.72 -8.72zM651.8 1136.2l8.72 8.72l-8.72 8.72l-8.72 -8.72zM677.9 1162.4l8.72 8.72l-8.72 8.72l-8.72 -8.72zM704.1 1188.5l8.72 8.72l-8.72 8.72l-8.72 -8.72zM739.0 1223.4l8.72 8.72l-8.72 8.72l-8.72 -8.72zM747.7 1232.1l8.72 8.72l-8.72 8.72l-8.72 -8.72zM765.1 1249.6l8.72 8.72l-8.72 8.72l-8.72 -8.72zM773.8 1258.3l8.72 8.72l-8.72 8.72l-8.72 -8.72zM782.6 1267.0l8.72 8.72l-8.72 8.72l-8.72 -8.72zM791.3 1275.7l8.72 8.72l-8.72 8.72l-8.72 -8.72zM817.4 1301.9l8.72 8.72l-8.72 8.72l-8.72 -8.72zM826.2 1310.6l8.72 8.72l-8.72 8.72l-8.72 -8.72zM834.9 1319.3l8.72 8.72l-8.72 8.72l-8.72 -8.72zM643.0 1110.0l8.72 8.72l-8.72 8.72l-8.72 -8.72zM651.8 1118.8l8.72 8.72l-8.72 8.72l-8.72 -8.72zM677.9 1144.9l8.72 8.72l-8.72 8.72l-8.72 -8.72zM721.5 1188.5l8.72 8.72l-8.72 8.72l-8.72 -8.72zM730.2 1197.2l8.72 8.72l-8.72 8.72l-8.72 -8.72zM747.7 1214.7l8.72 8.72l-8.72 8.72l-8.72 -8.72zM765.1 1232.1l8.72 8.72l-8.72 8.72l-8.72 -8.72zM791.3 1258.3l8.72 8.72l-8.72 8.72l-8.72 -8.72zM634.3 1083.9l8.72 8.72l-8.72 8.72l-8.72 -8.72zM686.6 1136.2l8.72 8.72l-8.72 8.72l-8.72 -8.72zM704.1 1153.6l8.72 8.72l-8.72 8.72l-8.72 -8.72zM730.2 1179.8l8.72 8.72l-8.72 8.72l-8.72 -8.72zM747.7 1197.2l8.72 8.72l-8.72 8.72l-8.72 -8.72zM756.4 1206.0l8.72 8.72l-8.72 8.72l-8.72 -8.72zM773.8 1223.4l8.72 8.72l-8.72 8.72l-8.72 -8.72zM782.6 1232.1l8.72 8.72l-8.72 8.72l-8.72 -8.72zM817.4 1267.0l8.72 8.72l-8.72 8.72l-8.72 -8.72zM826.2 1275.7l8.72 8.72l-8.72 8.72l-8.72 -8.72zM834.9 1284.4l8.72 8.72l-8.72 8.72l-8.72 -8.72zM608.2 1040.3l8.72 8.72l-8.72 8.72l-8.72 -8.72zM695.4 1127.5l8.72 8.72l-8.72 8.72l-8.72 -8.72zM739.0 1171.1l8.72 8.72l-8.72 8.72l-8.72 -8.72zM808.7 1240.8l8.72 8.72l-8.72 8.72l-8.72 -8.72zM834.9 1267.0l8.72 8.72l-8.72 8.72l-8.72 -8.72zM852.3 1284.4l8.72 8.72l-8.72 8.72l-8.72 -8.72zM878.5 1310.6l8.72 8.72l-8.72 8.72l-8.72 -8.72zM721.5 1136.2l8.72 8.72l-8.72 8.72l-8.72 -8.72zM739.0 1153.6l8.72 8.72l-8.72 8.72l-8.72 -8.72zM747.7 1162.4l8.72 8.72l-8.72 8.72l-8.72 -8.72zM765.1 1179.8l8.72 8.72l-8.72 8.72l-8.72 -8.72zM773.8 1188.5l8.72 8.72l-8.72 8.72l-8.72 -8.72zM782.6 1197.2l8.72 8.72l-8.72 8.72l-8.72 -8.72zM808.7 1223.4l8.72 8.72l-8.72 8.72l-8.72 -8.72zM817.4 1232.1l8.72 8.72l-8.72 8.72l-8.72 -8.72zM826.2 1240.8l8.72 8.72l-8.72 8.72l-8.72 -8.72zM834.9 1249.6l8.72 8.72l-8.72 8.72l-8.72 -8.72zM852.3 1267.0l8.72 8.72l-8.72 8.72l-8.72 -8.72zM739.0 1136.2l8.72 8.72l-8.72 8.72l-8.72 -8.72zM765.1 1162.4l8.72 8.72l-8.72 8.72l-8.72 -8.72zM808.7 1206.0l8.72 8.72l-8.72 8.72l-8.72 -8.72zM817.4 1214.7l8.72 8.72l-8.72 8.72l-8.72 -8.72zM826.2 1223.4l8.72 8.72l-8.72 8.72l-8.72 -8.72zM834.9 1232.1l8.72 8.72l-8.72 8.72l-8.72 -8.72zM852.3 1249.6l8.72 8.72l-8.72 8.72l-8.72 -8.72zM878.5 1275.7l8.72 8.72l-8.72 8.72l-8.72 -8.72zM887.2 1284.4l8.72 8.72l-8.72 8.72l-8.72 -8.72zM634.3 1014.1l8.72 8.72l-8.72 8.72l-8.72 -8.72zM712.8 1092.6l8.72 8.72l-8.72 8.72l-8.72 -8.72zM730.2 1110.0l8.72 8.72l-8.72 8.72l-8.72 -8.72zM773.8 1153.6l8.72 8.72l-8.72 8.72l-8.72 -8.72zM791.3 1171.1l8.72 8.72l-8.72 8.72l-8.72 -8.72zM800.0 1179.8l8.72 8.72l-8.72 8.72l-8.72 -8.72zM817.4 1197.2l8.72 8.72l-8.72 8.72l-8.72 -8.72zM826.2 1206.0l8.72 8.72l-8.72 8.72l-8.72 -8.72zM834.9 1214.7l8.72 8.72l-8.72 8.72l-8.72 -8.72zM852.3 1232.1l8.72 8.72l-8.72 8.72l-8.72 -8.72zM904.6 1284.4l8.72 8.72l-8.72 8.72l-8.72 -8.72zM747.7 1110.0l8.72 8.72l-8.72 8.72l-8.72 -8.72zM765.1 1127.5l8.72 8.72l-8.72 8.72l-8.72 -8.72zM782.6 1144.9l8.72 8.72l-8.72 8.72l-8.72 -8.72zM791.3 1153.6l8.72 8.72l-8.72 8.72l-8.72 -8.72zM826.2 1188.5l8.72 8.72l-8.72 8.72l-8.72 -8.72zM834.9 1197.2l8.72 8.72l-8.72 8.72l-8.72 -8.72zM843.6 1206.0l8.72 8.72l-8.72 8.72l-8.72 -8.72zM861.0 1223.4l8.72 8.72l-8.72 8.72l-8.72 -8.72zM887.2 1249.6l8.72 8.72l-8.72 8.72l-8.72 -8.72zM913.4 1275.7l8.72 8.72l-8.72 8.72l-8.72 -8.72zM747.7 1092.6l8.72 8.72l-8.72 8.72l-8.72 -8.72zM791.3 1136.2l8.72 8.72l-8.72 8.72l-8.72 -8.72zM817.4 1162.4l8.72 8.72l-8.72 8.72l-8.72 -8.72zM834.9 1179.8l8.72 8.72l-8.72 8.72l-8.72 -8.72zM843.6 1188.5l8.72 8.72l-8.72 8.72l-8.72 -8.72zM852.3 1197.2l8.72 8.72l-8.72 8.72l-8.72 -8.72zM878.5 1223.4l8.72 8.72l-8.72 8.72l-8.72 -8.72zM895.9 1240.8l8.72 8.72l-8.72 8.72l-8.72 -8.72zM922.1 1267.0l8.72 8.72l-8.72 8.72l-8.72 -8.72zM826.2 1153.6l8.72 8.72l-8.72 8.72l-8.72 -8.72zM852.3 1179.8l8.72 8.72l-8.72 8.72l-8.72 -8.72zM869.8 1197.2l8.72 8.72l-8.72 8.72l-8.72 -8.72zM878.5 1206.0l8.72 8.72l-8.72 8.72l-8.72 -8.72zM887.2 1214.7l8.72 8.72l-8.72 8.72l-8.72 -8.72zM904.6 1232.1l8.72 8.72l-8.72 8.72l-8.72 -8.72zM913.4 1240.8l8.72 8.72l-8.72 8.72l-8.72 -8.72zM782.6 1092.6l8.72 8.72l-8.72 8.72l-8.72 -8.72zM843.6 1153.6l8.72 8.72l-8.72 8.72l-8.72 -8.72zM852.3 1162.4l8.72 8.72l-8.72 8.72l-8.72 -8.72zM869.8 1179.8l8.72 8.72l-8.72 8.72l-8.72 -8.72zM878.5 1188.5l8.72 8.72l-8.72 8.72l-8.72 -8.72zM887.2 1197.2l8.72 8.72l-8.72 8.72l-8.72 -8.72zM895.9 1206.0l8.72 8.72l-8.72 8.72l-8.72 -8.72zM904.6 1214.7l8.72 8.72l-8.72 8.72l-8.72 -8.72zM913.4 1223.4l8.72 8.72l-8.72 8.72l-8.72 -8.72zM834.9 1127.5l8.72 8.72l-8.72 8.72l-8.72 -8.72zM843.6 1136.2l8.72 8.72l-8.72 8.72l-8.72 -8.72zM852.3 1144.9l8.72 8.72l-8.72 8.72l-8.72 -8.72zM861.0 1153.6l8.72 8.72l-8.72 8.72l-8.72 -8.72zM887.2 1179.8l8.72 8.72l-8.72 8.72l-8.72 -8.72zM913.4 1206.0l8.72 8.72l-8.72 8.72l-8.72 -8.72zM948.2 1240.8l8.72 8.72l-8.72 8.72l-8.72 -8.72zM826.2 1101.3l8.72 8.72l-8.72 8.72l-8.72 -8.72zM895.9 1171.1l8.72 8.72l-8.72 8.72l-8.72 -8.72zM913.4 1188.5l8.72 8.72l-8.72 8.72l-8.72 -8.72zM930.8 1206.0l8.72 8.72l-8.72 8.72l-8.72 -8.72zM939.5 1214.7l8.72 8.72l-8.72 8.72l-8.72 -8.72zM957.0 1232.1l8.72 8.72l-8.72 8.72l-8.72 -8.72zM817.4 1075.2l8.72 8.72l-8.72 8.72l-8.72 -8.72zM904.6 1162.4l8.72 8.72l-8.72 8.72l-8.72 -8.72zM922.1 1179.8l8.72 8.72l-8.72 8.72l-8.72 -8.72zM930.8 1188.5l8.72 8.72l-8.72 8.72l-8.72 -8.72zM939.5 1197.2l8.72 8.72l-8.72 8.72l-8.72 -8.72zM948.2 1206.0l8.72 8.72l-8.72 8.72l-8.72 -8.72zM957.0 1214.7l8.72 8.72l-8.72 8.72l-8.72 -8.72zM965.7 1223.4l8.72 8.72l-8.72 8.72l-8.72 -8.72zM834.9 1075.2l8.72 8.72l-8.72 8.72l-8.72 -8.72zM869.8 1110.0l8.72 8.72l-8.72 8.72l-8.72 -8.72zM878.5 1118.8l8.72 8.72l-8.72 8.72l-8.72 -8.72zM904.6 1144.9l8.72 8.72l-8.72 8.72l-8.72 -8.72zM913.4 1153.6l8.72 8.72l-8.72 8.72l-8.72 -8.72zM939.5 1179.8l8.72 8.72l-8.72 8.72l-8.72 -8.72zM957.0 1197.2l8.72 8.72l-8.72 8.72l-8.72 -8.72zM974.4 1214.7l8.72 8.72l-8.72 8.72l-8.72 -8.72zM826.2 1049.0l8.72 8.72l-8.72 8.72l-8.72 -8.72zM852.3 1075.2l8.72 8.72l-8.72 8.72l-8.72 -8.72zM957.0 1179.8l8.72 8.72l-8.72 8.72l-8.72 -8.72zM922.1 1127.5l8.72 8.72l-8.72 8.72l-8.72 -8.72zM948.2 1153.6l8.72 8.72l-8.72 8.72l-8.72 -8.72zM965.7 1171.1l8.72 8.72l-8.72 8.72l-8.72 -8.72zM861.0 1049.0l8.72 8.72l-8.72 8.72l-8.72 -8.72zM957.0 1144.9l8.72 8.72l-8.72 8.72l-8.72 -8.72zM965.7 1153.6l8.72 8.72l-8.72 8.72l-8.72 -8.72zM974.4 1162.4l8.72 8.72l-8.72 8.72l-8.72 -8.72zM1000.6 1188.5l8.72 8.72l-8.72 8.72l-8.72 -8.72zM1009.3 1179.8l8.72 8.72l-8.72 8.72l-8.72 -8.72zM1009.3 1162.4l8.72 8.72l-8.72 8.72l-8.72 -8.72zM1018.0 1171.1l8.72 8.72l-8.72 8.72l-8.72 -8.72zM948.2 1083.9l8.72 8.72l-8.72 8.72l-8.72 -8.72zM974.4 1110.0l8.72 8.72l-8.72 8.72l-8.72 -8.72zM1000.6 1136.2l8.72 8.72l-8.72 8.72l-8.72 -8.72zM957.0 1075.2l8.72 8.72l-8.72 8.72l-8.72 -8.72zM1018.0 1101.3l8.72 8.72l-8.72 8.72l-8.72 -8.72zM1044.2 1127.5l8.72 8.72l-8.72 8.72l-8.72 -8.72zM1061.6 1127.5l8.72 8.72l-8.72 8.72l-8.72 -8.72zM1026.7 1057.7l8.72 8.72l-8.72 8.72l-8.72 -8.72zM1026.7 1005.4l8.72 8.72l-8.72 8.72l-8.72 -8.72zM1122.6 1049.0l8.72 8.72l-8.72 8.72l-8.72 -8.72z" fill="#f41717"/>
<path d="M590.7 1267.0l8.72 8.72l-8.72 8.72l-8.72 -8.72zM599.4 1275.7l8.72 8.72l-8.72 8.72l-8.72 -8.72zM625.6 1301.9l8.72 8.72l-8.72 8.72l-8.72 -8.72zM634.3 1310.6l8.72 8.72l-8.72 8.72l-8.72 -8.72zM651.8 1328.0l8.72 8.72l-8.72 8.72l-8.72 -8.72zM660.5 1336.8l8.72 8.72l-8.72 8.72l-8.72 -8.72zM669.2 1345.5l8.72 8.72l-8.72 8.72l-8.72 -8.72zM730.2 1406.5l8.72 8.72l-8.72 8.72l-8.72 -8.72zM582.0 1240.8l8.72 8.72l-8.72 8.72l-8.72 -8.72zM608.2 1267.0l8.72 8.72l-8.72 8.72l-8.72 -8.72zM616.9 1275.7l8.72 8.72l-8.72 8.72l-8.72 -8.72zM660.5 1319.3l8.72 8.72l-8.72 8.72l-8.72 -8.72zM669.2 1328.0l8.72 8.72l-8.72 8.72l-8.72 -8.72zM704.1 1362.9l8.72 8.72l-8.72 8.72l-8.72 -8.72zM730.2 1389.1l8.72 8.72l-8.72 8.72l-8.72 -8.72zM756.4 1415.2l8.72 8.72l-8.72 8.72l-8.72 -8.72zM599.4 1240.8l8.72 8.72l-8.72 8.72l-8.72 -8.72zM616.9 1258.3l8.72 8.72l-8.72 8.72l-8.72 -8.72zM634.3 1275.7l8.72 8.72l-8.72 8.72l-8.72 -8.72zM651.8 1293.2l8.72 8.72l-8.72 8.72l-8.72 -8.72zM660.5 1301.9l8.72 8.72l-8.72 8.72l-8.72 -8.72zM669.2 1310.6l8.72 8.72l-8.72 8.72l-8.72 -8.72zM677.9 1319.3l8.72 8.72l-8.72 8.72l-8.72 -8.72zM686.6 1328.0l8.72 8.72l-8.72 8.72l-8.72 -8.72zM739.0 1380.4l8.72 8.72l-8.72 8.72l-8.72 -8.72zM590.7 1214.7l8.72 8.72l-8.72 8.72l-8.72 -8.72zM643.0 1267.0l8.72 8.72l-8.72 8.72l-8.72 -8.72zM651.8 1275.7l8.72 8.72l-8.72 8.72l-8.72 -8.72zM677.9 1301.9l8.72 8.72l-8.72 8.72l-8.72 -8.72zM695.4 1319.3l8.72 8.72l-8.72 8.72l-8.72 -8.72zM712.8 1336.8l8.72 8.72l-8.72 8.72l-8.72 -8.72zM739.0 1362.9l8.72 8.72l-8.72 8.72l-8.72 -8.72zM782.6 1406.5l8.72 8.72l-8.72 8.72l-8.72 -8.72zM660.5 1267.0l8.72 8.72l-8.72 8.72l-8.72 -8.72zM677.9 1284.4l8.72 8.72l-8.72 8.72l-8.72 -8.72zM704.1 1310.6l8.72 8.72l-8.72 8.72l-8.72 -8.72zM721.5 1328.0l8.72 8.72l-8.72 8.72l-8.72 -8.72zM773.8 1380.4l8.72 8.72l-8.72 8.72l-8.72 -8.72zM616.9 1206.0l8.72 8.72l-8.72 8.72l-8.72 -8.72zM651.8 1240.8l8.72 8.72l-8.72 8.72l-8.72 -8.72zM677.9 1267.0l8.72 8.72l-8.72 8.72l-8.72 -8.72zM712.8 1301.9l8.72 8.72l-8.72 8.72l-8.72 -8.72zM791.3 1380.4l8.72 8.72l-8.72 8.72l-8.72 -8.72zM800.0 1389.1l8.72 8.72l-8.72 8.72l-8.72 -8.72zM712.8 1284.4l8.72 8.72l-8.72 8.72l-8.72 -8.72zM721.5 1293.2l8.72 8.72l-8.72 8.72l-8.72 -8.72zM739.0 1310.6l8.72 8.72l-8.72 8.72l-8.72 -8.72zM747.7 1319.3l8.72 8.72l-8.72 8.72l-8.72 -8.72zM756.4 1328.0l8.72 8.72l-8.72 8.72l-8.72 -8.72zM765.1 1336.8l8.72 8.72l-8.72 8.72l-8.72 -8.72zM782.6 1354.2l8.72 8.72l-8.72 8.72l-8.72 -8.72zM791.3 1362.9l8.72 8.72l-8.72 8.72l-8.72 -8.72zM800.0 1371.6l8.72 8.72l-8.72 8.72l-8.72 -8.72zM590.7 1144.9l8.72 8.72l-8.72 8.72l-8.72 -8.72zM686.6 1240.8l8.72 8.72l-8.72 8.72l-8.72 -8.72zM704.1 1258.3l8.72 8.72l-8.72 8.72l-8.72 -8.72zM721.5 1275.7l8.72 8.72l-8.72 8.72l-8.72 -8.72zM739.0 1293.2l8.72 8.72l-8.72 8.72l-8.72 -8.72zM747.7 1301.9l8.72 8.72l-8.72 8.72l-8.72 -8.72zM756.4 1310.6l8.72 8.72l-8.72 8.72l-8.72 -8.72zM782.6 1336.8l8.72 8.72l-8.72 8.72l-8.72 -8.72zM800.0 1354.2l8.72 8.72l-8.72 8.72l-8.72 -8.72zM712.8 1249.6l8.72 8.72l-8.72 8.72l-8.72 -8.72zM721.5 1258.3l8.72 8.72l-8.72 8.72l-8.72 -8.72zM756.4 1293.2l8.72 8.72l-8.72 8.72l-8.72 -8.72zM765.1 1301.9l8.72 8.72l-8.72 8.72l-8.72 -8.72zM773.8 1310.6l8.72 8.72l-8.72 8.72l-8.72 -8.72zM782.6 1319.3l8.72 8.72l-8.72 8.72l-8.72 -8.72zM791.3 1328.0l8.72 8.72l-8.72 8.72l-8.72 -8.72zM800.0 1336.8l8.72 8.72l-8.72 8.72l-8.72 -8.72zM808.7 1345.5l8.72 8.72l-8.72 8.72l-8.72 -8.72zM817.4 1354.2l8.72 8.72l-8.72 8.72l-8.72 -8.72zM712.8 1232.1l8.72 8.72l-8.72 8.72l-8.72 -8.72zM739.0 1258.3l8.72 8.72l-8.72 8.72l-8.72 -8.72zM773.8 1293.2l8.72 8.72l-8.72 8.72l-8.72 -8.72zM800.0 1319.3l8.72 8.72l-8.72 8.72l-8.72 -8.72zM808.7 1328.0l8.72 8.72l-8.72 8.72l-8.72 -8.72zM817.4 1336.8l8.72 8.72l-8.72 8.72l-8.72 -8.72zM643.0 1144.9l8.72 8.72l-8.72 8.72l-8.72 -8.72zM712.8 1214.7l8.72 8.72l-8.72 8.72l-8.72 -8.72zM721.5 1223.4l8.72 8.72l-8.72 8.72l-8.72 -8.72zM756.4 1258.3l8.72 8.72l-8.72 8.72l-8.72 -8.72zM773.8 1275.7l8.72 8.72l-8.72 8.72l-8.72 -8.72zM782.6 1284.4l8.72 8.72l-8.72 8.72l-8.72 -8.72zM791.3 1293.2l8.72 8.72l-8.72 8.72l-8.72 -8.72zM800.0 1301.9l8.72 8.72l-8.72 8.72l-8.72 -8.72zM808.7 1310.6l8.72 8.72l-8.72 8.72l-8.72 -8.72zM817.4 1319.3l8.72 8.72l-8.72 8.72l-8.72 -8.72zM834.9 1336.8l8.72 8.72l-8.72 8.72l-8.72 -8.72zM843.6 1345.5l8.72 8.72l-8.72 8.72l-8.72 -8.72zM721.5 1206.0l8.72 8.72l-8.72 8.72l-8.72 -8.72zM800.0 1284.4l8.72 8.72l-8.72 8.72l-8.72 -8.72zM756.4 1223.4l8.72 8.72l-8.72 8.72l-8.72 -8.72zM773.8 1240.8l8.72 8.72l-8.72 8.72l-8.72 -8.72zM800.0 1267.0l8.72 8.72l-8.72 8.72l-8.72 -8.72zM808.7 1275.7l8.72 8.72l-8.72 8.72l-8.72 -8.72zM817.4 1284.4l8.72 8.72l-8.72 8.72l-8.72 -8.72zM826.2 1293.2l8.72 8.72l-8.72 8.72l-8.72 -8.72zM852.3 1319.3l8.72 8.72l-8.72 8.72l-8.72 -8.72zM765.1 1214.7l8.72 8.72l-8.72 8.72l-8.72 -8.72zM791.3 1240.8l8.72 8.72l-8.72 8.72l-8.72 -8.72zM800.0 1249.6l8.72 8.72l-8.72 8.72l-8.72 -8.72zM808.7 1258.3l8.72 8.72l-8.72 8.72l-8.72 -8.72zM843.6 1293.2l8.72 8.72l-8.72 8.72l-8.72 -8.72zM852.3 1301.9l8.72 8.72l-8.72 8.72l-8.72 -8.72zM869.8 1319.3l8.72 8.72l-8.72 8.72l-8.72 -8.72zM747.7 1179.8l8.72 8.72l-8.72 8.72l-8.72 -8.72zM800.0 1232.1l8.72 8.72l-8.72 8.72l-8.72 -8.72zM817.4 1249.6l8.72 8.72l-8.72 8.72l-8.72 -8.72zM826.2 1258.3l8.72 8.72l-8.72 8.72l-8.72 -8.72zM861.0 1293.2l8.72 8.72l-8.72 8.72l-8.72 -8.72zM869.8 1301.9l8.72 8.72l-8.72 8.72l-8.72 -8.72zM695.4 1110.0l8.72 8.72l-8.72 8.72l-8.72 -8.72zM843.6 1258.3l8.72 8.72l-8.72 8.72l-8.72 -8.72zM878.5 1293.2l8.72 8.72l-8.72 8.72l-8.72 -8.72zM887.2 1301.9l8.72 8.72l-8.72 8.72l-8.72 -8.72zM782.6 1179.8l8.72 8.72l-8.72 8.72l-8.72 -8.72zM791.3 1188.5l8.72 8.72l-8.72 8.72l-8.72 -8.72zM861.0 1258.3l8.72 8.72l-8.72 8.72l-8.72 -8.72zM869.8 1267.0l8.72 8.72l-8.72 8.72l-8.72 -8.72zM895.9 1293.2l8.72 8.72l-8.72 8.72l-8.72 -8.72zM782.6 1162.4l8.72 8.72l-8.72 8.72l-8.72 -8.72zM861.0 1240.8l8.72 8.72l-8.72 8.72l-8.72 -8.72zM878.5 1258.3l8.72 8.72l-8.72 8.72l-8.72 -8.72zM887.2 1267.0l8.72 8.72l-8.72 8.72l-8.72 -8.72zM895.9 1275.7l8.72 8.72l-8.72 8.72l-8.72 -8.72zM817.4 1179.8l8.72 8.72l-8.72 8.72l-8.72 -8.72zM869.8 1232.1l8.72 8.72l-8.72 8.72l-8.72 -8.72zM878.5 1240.8l8.72 8.72l-8.72 8.72l-8.72 -8.72zM904.6 1267.0l8.72 8.72l-8.72 8.72l-8.72 -8.72zM887.2 1232.1l8.72 8.72l-8.72 8.72l-8.72 -8.72zM904.6 1249.6l8.72 8.72l-8.72 8.72l-8.72 -8.72zM843.6 1171.1l8.72 8.72l-8.72 8.72l-8.72 -8.72zM922.1 1249.6l8.72 8.72l-8.72 8.72l-8.72 -8.72zM930.8 1240.8l8.72 8.72l-8.72 8.72l-8.72 -8.72zM939.5 1249.6l8.72 8.72l-8.72 8.72l-8.72 -8.72zM895.9 1188.5l8.72 8.72l-8.72 8.72l-8.72 -8.72zM939.5 1232.1l8.72 8.72l-8.72 8.72l-8.72 -8.72zM861.0 1136.2l8.72 8.72l-8.72 8.72l-8.72 -8.72zM895.9 1153.6l8.72 8.72l-8.72 8.72l-8.72 -8.72zM922.1 1162.4l8.72 8.72l-8.72 8.72l-8.72 -8.72zM922.1 1144.9l8.72 8.72l-8.72 8.72l-8.72 -8.72zM983.1 1206.0l8.72 8.72l-8.72 8.72l-8.72 -8.72zM974.4 1179.8l8.72 8.72l-8.72 8.72l-8.72 -8.72zM948.2 1136.2l8.72 8.72l-8.72 8.72l-8.72 -8.72zM930.8 1083.9l8.72 8.72l-8.72 8.72l-8.72 -8.72z" fill="#f31a1a"/>
<path d="M677.9 1354.2l8.72 8.72l-8.72 8.72l-8.72 -8.72zM695.4 1371.6l8.72 8.72l-8.72 8.72l-8.72 -8.72zM721.5 1397.8l8.72 8.72l-8.72 8.72l-8.72 -8.72zM739.0 1415.2l8.72 8.72l-8.72 8.72l-8.72 -8.72zM625.6 1284.4l8.72 8.72l-8.72 8.72l-8.72 -8.72zM651.8 1310.6l8.72 8.72l-8.72 8.72l-8.72 -8.72zM677.9 1336.8l8.72 8.72l-8.72 8.72l-8.72 -8.72zM686.6 1345.5l8.72 8.72l-8.72 8.72l-8.72 -8.72zM695.4 1354.2l8.72 8.72l-8.72 8.72l-8.72 -8.72zM712.8 1371.6l8.72 8.72l-8.72 8.72l-8.72 -8.72zM721.5 1380.4l8.72 8.72l-8.72 8.72l-8.72 -8.72zM747.7 1406.5l8.72 8.72l-8.72 8.72l-8.72 -8.72zM643.0 1284.4l8.72 8.72l-8.72 8.72l-8.72 -8.72zM704.1 1345.5l8.72 8.72l-8.72 8.72l-8.72 -8.72zM712.8 1354.2l8.72 8.72l-8.72 8.72l-8.72 -8.72zM721.5 1362.9l8.72 8.72l-8.72 8.72l-8.72 -8.72zM756.4 1397.8l8.72 8.72l-8.72 8.72l-8.72 -8.72zM773.8 1415.2l8.72 8.72l-8.72 8.72l-8.72 -8.72zM704.1 1328.0l8.72 8.72l-8.72 8.72l-8.72 -8.72zM721.5 1345.5l8.72 8.72l-8.72 8.72l-8.72 -8.72zM730.2 1354.2l8.72 8.72l-8.72 8.72l-8.72 -8.72zM765.1 1389.1l8.72 8.72l-8.72 8.72l-8.72 -8.72zM730.2 1336.8l8.72 8.72l-8.72 8.72l-8.72 -8.72zM739.0 1345.5l8.72 8.72l-8.72 8.72l-8.72 -8.72zM747.7 1354.2l8.72 8.72l-8.72 8.72l-8.72 -8.72zM756.4 1362.9l8.72 8.72l-8.72 8.72l-8.72 -8.72zM782.6 1389.1l8.72 8.72l-8.72 8.72l-8.72 -8.72zM791.3 1397.8l8.72 8.72l-8.72 8.72l-8.72 -8.72zM721.5 1310.6l8.72 8.72l-8.72 8.72l-8.72 -8.72zM756.4 1345.5l8.72 8.72l-8.72 8.72l-8.72 -8.72zM765.1 1354.2l8.72 8.72l-8.72 8.72l-8.72 -8.72zM730.2 1301.9l8.72 8.72l-8.72 8.72l-8.72 -8.72zM773.8 1345.5l8.72 8.72l-8.72 8.72l-8.72 -8.72zM808.7 1380.4l8.72 8.72l-8.72 8.72l-8.72 -8.72zM730.2 1284.4l8.72 8.72l-8.72 8.72l-8.72 -8.72zM765.1 1319.3l8.72 8.72l-8.72 8.72l-8.72 -8.72zM773.8 1328.0l8.72 8.72l-8.72 8.72l-8.72 -8.72zM791.3 1345.5l8.72 8.72l-8.72 8.72l-8.72 -8.72zM808.7 1362.9l8.72 8.72l-8.72 8.72l-8.72 -8.72zM739.0 1275.7l8.72 8.72l-8.72 8.72l-8.72 -8.72zM826.2 1362.9l8.72 8.72l-8.72 8.72l-8.72 -8.72zM791.3 1310.6l8.72 8.72l-8.72 8.72l-8.72 -8.72zM826.2 1345.5l8.72 8.72l-8.72 8.72l-8.72 -8.72zM730.2 1232.1l8.72 8.72l-8.72 8.72l-8.72 -8.72zM765.1 1267.0l8.72 8.72l-8.72 8.72l-8.72 -8.72zM826.2 1328.0l8.72 8.72l-8.72 8.72l-8.72 -8.72zM843.6 1328.0l8.72 8.72l-8.72 8.72l-8.72 -8.72zM852.3 1336.8l8.72 8.72l-8.72 8.72l-8.72 -8.72zM834.9 1301.9l8.72 8.72l-8.72 8.72l-8.72 -8.72zM861.0 1328.0l8.72 8.72l-8.72 8.72l-8.72 -8.72zM773.8 1206.0l8.72 8.72l-8.72 8.72l-8.72 -8.72zM843.6 1275.7l8.72 8.72l-8.72 8.72l-8.72 -8.72zM869.8 1284.4l8.72 8.72l-8.72 8.72l-8.72 -8.72zM800.0 1197.2l8.72 8.72l-8.72 8.72l-8.72 -8.72zM843.6 1223.4l8.72 8.72l-8.72 8.72l-8.72 -8.72zM930.8 1258.3l8.72 8.72l-8.72 8.72l-8.72 -8.72zM922.1 1232.1l8.72 8.72l-8.72 8.72l-8.72 -8.72z" fill="#f21d1d"/>
<path d="M704.1 1380.4l8.72 8.72l-8.72 8.72l-8.72 -8.72zM747.7 1424.0l8.72 8.72l-8.72 8.72l-8.72 -8.72zM739.0 1397.8l8.72 8.72l-8.72 8.72l-8.72 -8.72zM765.1 1424.0l8.72 8.72l-8.72 8.72l-8.72 -8.72zM695.4 1336.8l8.72 8.72l-8.72 8.72l-8.72 -8.72zM747.7 1389.1l8.72 8.72l-8.72 8.72l-8.72 -8.72zM765.1 1406.5l8.72 8.72l-8.72 8.72l-8.72 -8.72zM747.7 1371.6l8.72 8.72l-8.72 8.72l-8.72 -8.72zM695.4 1301.9l8.72 8.72l-8.72 8.72l-8.72 -8.72zM765.1 1371.6l8.72 8.72l-8.72 8.72l-8.72 -8.72zM782.6 1371.6l8.72 8.72l-8.72 8.72l-8.72 -8.72zM817.4 1371.6l8.72 8.72l-8.72 8.72l-8.72 -8.72zM721.5 1240.8l8.72 8.72l-8.72 8.72l-8.72 -8.72zM843.6 1310.6l8.72 8.72l-8.72 8.72l-8.72 -8.72zM861.0 1310.6l8.72 8.72l-8.72 8.72l-8.72 -8.72z" fill="#f12020"/>
<path d="M756.4 1380.4l8.72 8.72l-8.72 8.72l-8.72 -8.72zM773.8 1397.8l8.72 8.72l-8.72 8.72l-8.72 -8.72z" fill="#ef2323"/>
<path d="M32.64 708.92l732.48 732.48M32.64 708.92l-8.72 8.72M50.08 708.92l723.76 723.76M50.08 708.92l-17.44 17.44M67.52 708.92l715.04 715.04M67.52 708.92l-26.16 26.16M84.96 708.92l706.32 706.32M84.96 708.92l-34.88 34.88M102.40 708.92l697.60 697.60M102.40 708.92l-43.60 43.60M119.84 708.92l688.88 688.88M119.84 708.92l-52.32 52.32M137.28 708.92l680.16 680.16M137.28 708.92l-61.04 61.04M154.72 708.92l671.44 671.44M154.72 708.92l-69.76 69.76M172.16 708.92l662.72 662.72M172.16 708.92l-78.48 78.48M189.60 708.92l654.00 654.00M189.60 708.92l-87.20 87.20M207.04 708.92l645.28 645.28M207.04 708.92l-95.92 95.92M224.48 708.92l636.56 636.56M224.48 708.92l-104.64 104.64M241.92 708.92l627.84 627.84M241.92 708.92l-113.36 113.36M259.36 708.92l619.12 619.12M259.36 708.92l-122.08 122.08M276.80 708.92l610.40 610.40M276.80 708.92l-130.80 130.80M294.24 708.92l601.68 601.68M294.24 708.92l-139.52 139.52M311.68 708.92l592.96 592.96M311.68 708.92l-148.24 148.24M329.12 708.92l584.24 584.24M329.12 708.92l-156.96 156.96M346.56 708.92l575.52 575.52M346.56 708.92l-165.68 165.68M364.00 708.92l566.80 566.80M364.00 708.92l-174.40 174.40M381.44 708.92l558.08 558.08M381.44 708.92l-183.12 183.12M398.88 708.92l549.36 549.36M398.88 708.92l-191.84 191.84M416.32 708.92l540.64 540.64M416.32 708.92l-200.56 200.56M433.76 708.92l531.92 531.92M433.76 708.92l-209.28 209.28M451.20 708.92l523.20 523.20M451.20 708.92l-218.00 218.00M468.64 708.92l514.48 514.48M468.64 708.92l-226.72 226.72M486.08 708.92l505.76 505.76M486.08 708.92l-235.44 235.44M503.52 708.92l497.04 497.04M503.52 708.92l-244.16 244.16M520.96 708.92l488.32 488.32M520.96 708.92l-252.88 252.88M538.40 708.92l479.60 479.60M538.40 708.92l-261.60 261.60M555.84 708.92l470.88 470.88M555.84 708.92l-270.32 270.32M573.28 708.92l462.16 462.16M573.28 708.92l-279.04 279.04M590.72 708.92l453.44 453.44M590.72 708.92l-287.76 287.76M608.16 708.92l444.72 444.72M608.16 708.92l-296.48 296.48M625.60 708.92l436.00 436.00M625.60 708.92l-305.20 305.20M643.04 708.92l427.28 427.28M643.04 708.92l-313.92 313.92M660.48 708.92l418.56 418.56M660.48 708.92l-322.64 322.64M677.92 708.92l409.84 409.84M677.92 708.92l-331.36 331.36M695.36 708.92l401.12 401.12M695.36 708.92l-340.08 340.08M712.80 708.92l392.40 392.40M712.80 708.92l-348.80 348.80M730.24 708.92l383.68 383.68M730.24 708.92l-357.52 357.52M747.68 708.92l374.96 374.96M747.68 708.92l-366.24 366.24M765.12 708.92l366.24 366.24M765.12 708.92l-374.96 374.96M782.56 708.92l357.52 357.52M782.56 708.92l-383.68 383.68M800.00 708.92l348.80 348.80M800.00 708.92l-392.40 392.40M817.44 708.92l340.08 340.08M817.44 708.92l-401.12 401.12M834.88 708.92l331.36 331.36M834.88 708.92l-409.84 409.84M852.32 708.92l322.64 322.64M852.32 708.92l-418.56 418.56M869.76 708.92l313.92 313.92M869.76 708.92l-427.28 427.28M887.20 708.92l305.20 305.20M887.20 708.92l-436.00 436.00M904.64 708.92l296.48 296.48M904.64 708.92l-444.72 444.72M922.08 708.92l287.76 287.76M922.08 708.92l-453.44 453.44M939.52 708.92l279.04 279.04M939.52 708.92l-462.16 462.16M956.96 708.92l270.32 270.32M956.96 708.92l-470.88 470.88M974.40 708.92l261.60 261.60M974.40 708.92l-479.60 479.60M991.84 708.92l252.88 252.88M991.84 708.92l-488.32 488.32M1009.28 708.92l244.16 244.16M1009.28 708.92l-497.04 497.04M1026.72 708.92l235.44 235.44M1026.72 708.92l-505.76 505.76M1044.16 708.92l226.72 226.72M1044.16 708.92l-514.48 514.48M1061.60 708.92l218.00 218.00M1061.60 708.92l-523.20 523.20M1079.04 708.92l209.28 209.28M1079.04 708.92l-531.92 531.92M1096.48 708.92l200.56 200.56M1096.48 708.92l-540.64 540.64M1113.92 708.92l191.84 191.84M1113.92 708.92l-549.36 549.36M1131.36 708.92l183.12 183.12M1131.36 708.92l-558.08 558.08M1148.80 708.92l174.40 174.40M1148.80 708.92l-566.80 566.80M1166.24 708.92l165.68 165.68M1166.24 708.92l-575.52 575.52M1183.68 708.92l156.96 156.96M1183.68 708.92l-584.24 584.24M1201.12 708.92l148.24 148.24M1201.12 708.92l-592.96 592.96M1218.56 708.92l139.52 139.52M1218.56 708.92l-601.68 601.68M1236.00 708.92l130.80 130.80M1236.00 708.92l-610.40 610.40M1253.44 708.92l122.08 122.08M1253.44 708.92l-619.12 619.12M1270.88 708.92l113.36 113.36M1270.88 708.92l-627.84 627.84M1288.32 708.92l104.64 104.64M1288.32 708.92l-636.56 636.56M1305.76 708.92l95.92 95.92M1305.76 708.92l-645.28 645.28M1323.20 708.92l87.20 87.20M1323.20 708.92l-654.00 654.00M1340.64 708.92l78.48 78.48M1340.64 708.92l-662.72 662.72M1358.08 708.92l69.76 69.76M1358.08 708.92l-671.44 671.44M1375.52 708.92l61.04 61.04M1375.52 708.92l-680.16 680.16M1392.96 708.92l52.32 52.32M1392.96 708.92l-688.88 688.88M1410.40 708.92l43.60 43.60M1410.40 708.92l-697.60 697.60M1427.84 708.92l34.88 34.88M1427.84 708.92l-706.32 706.32M1445.28 708.92l26.16 26.16M1445.28 708.92l-715.04 715.04M1462.72 708.92l17.44 17.44M1462.72 708.92l-723.76 723.76M1480.16 708.92l8.72 8.72M1480.16 708.92l-732.48 732.48" stroke="#ffdccf" stroke-opacity="0.72" stroke-width="1" fill="none"/>
<g class="d" transform="scale(0.1)"><text x="326" y="7192">99</text><text x="414" y="7280">99</text><text x="501" y="7367">99</text><text x="588" y="7454">99</text><text x="675" y="7541">99</text><text x="850" y="7716">99</text><text x="937" y="7803">99</text><text x="1024" y="7890">99</text><text x="1111" y="7977">99</text><text x="1286" y="8152">99</text><text x="1547" y="8413">99</text><text x="1634" y="8500">99</text><text x="1722" y="8588">98</text><text x="1809" y="8675">98</text><text x="1896" y="8762">98</text><text x="1983" y="8849">99</text><text x="2070" y="8936">99</text><text x="2158" y="9024">97</text><text x="2245" y="9111">98</text><text x="2332" y="9198">98</text><text x="2419" y="9285">98</text><text x="2506" y="9372">97</text><text x="2594" y="9460">98</text><text x="2681" y="9547">98</text><text x="2768" y="9634">98</text><text x="2855" y="9721">98</text><text x="2942" y="9808">98</text><text x="3030" y="9896">97</text><text x="3117" y="9983">99</text><text x="3204" y="10070">97</text><text x="3291" y="10157">98</text><text x="3378" y="10244">97</text><text x="3466" y="10332">96</text><text x="3553" y="10419">97</text><text x="3640" y="10506">98</text><text x="3727" y="10593">98</text><text x="3814" y="10680">97</text><text x="3902" y="10768">97</text><text x="3989" y="10855">96</text><text x="4076" y="10942">98</text><text x="4163" y="11029">97</text><text x="4250" y="11116">96</text><text x="4338" y="11204">97</text><text x="4425" y="11291">97</text><text x="4512" y="11378">96</text><text x="4599" y="11465">96</text><text x="4686" y="11552">96</text><text x="4774" y="11640">97</text><text x="4861" y="11727">97</text><text x="4948" y="11814">96</text><text x="5035" y="11901">96</text><text x="5122" y="11988">96</text><text x="5210" y="12076">95</text><text x="5297" y="12163">96</text><text x="5384" y="12250">96</text><text x="5471" y="12337">97</text><text x="5558" y="12424">95</text><text x="5646" y="12512">95</text><text x="5733" y="12599">95</text><text x="5820" y="12686">96</text><text x="5907" y="12773">94</text><text x="5994" y="12860">94</text><text x="6082" y="12948">95</text><text x="6169" y="13035">95</text><text x="6256" y="13122">94</text><text x="6343" y="13209">94</text><text x="6430" y="13296">95</text><text x="6518" y="13384">94</text><text x="6605" y="13471">94</text><text x="6692" y="13558">94</text><text x="6779" y="13645">93</text><text x="6866" y="13732">95</text><text x="6954" y="13820">93</text><text x="7041" y="13907">92</text><text x="7128" y="13994">95</text><text x="7215" y="14081">93</text><text x="7302" y="14168">94</text><text x="7390" y="14256">93</text><text x="7477" y="14343">92</text><text x="7564" y="14430">95</text><text x="414" y="7105">99</text><text x="501" y="7192">98</text><text x="588" y="7280">99</text><text x="762" y="7454">98</text><text x="850" y="7541">99</text><text x="937" y="7628">99</text><text x="1024" y="7716">98</text><text x="1111" y="7803">99</text><text x="1198" y="7890">99</text><text x="1286" y="7977">99</text><text x="1373" y="8064">99</text><text x="1460" y="8152">98</text><text x="1547" y="8239">98</text><text x="1634" y="8326">98</text><text x="1809" y="8500">99</text><text x="1896" y="8588">99</text><text x="1983" y="8675">98</text><text x="2070" y="8762">98</text><text x="2158" y="8849">98</text><text x="2245" y="8936">98</text><text x="2332" y="9024">98</text><text x="2419" y="9111">99</text><text x="2506" y="9198">97</text><text x="2594" y="9285">99</text><text x="2681" y="9372">98</text><text x="2768" y="9460">99</text><text x="2855" y="9547">98</text><text x="2942" y="9634">97</text><text x="3030" y="9721">98</text><text x="3117" y="9808">98</text><text x="3204" y="9896">97</text><text x="3291" y="9983">96</text><text x="3378" y="10070">97</text><text x="3466" y="10157">98</text><text x="3553" y="10244">97</text><text x="3640" y="10332">97</text><text x="3727" y="10419">98</text><text x="3814" y="10506">97</text><text x="3902" y="10593">97</text><text x="3989" y="10680">97</text><text x="4076" y="10768">96</text><text x="4163" y="10855">98</text><text x="4250" y="10942">96</text><text x="4338" y="11029">97</text><text x="4425" y="11116">97</text><text x="4512" y="11204">97</text><text x="4599" y="11291">96</text><text x="4686" y="11378">95</text><text x="4774" y="11465">96</text><text x="4861" y="11552">96</text><text x="4948" y="11640">97</text><text x="5035" y="11727">96</text><text x="5122" y="11814">96</text><text x="5210" y="11901">96</text><text x="5297" y="11988">95</text><text x="5384" y="12076">95</text><text x="5471" y="12163">96</text><text x="5558" y="12250">95</text><text x="5646" y="12337">96</text><text x="5733" y="12424">96</text><text x="5820" y="12512">94</text><text x="5907" y="12599">96</text><text x="5994" y="12686">96</text><text x="6082" y="12773">94</text><text x="6169" y="12860">94</text><text x="6256" y="12948">93</text><text x="6343" y="13035">95</text><text x="6430" y="13122">96</text><text x="6518" y="13209">93</text><text x="6605" y="13296">94</text><text x="6692" y="13384">94</text><text x="6779" y="13471">93</text><text x="6866" y="13558">93</text><text x="6954" y="13645">93</text><text x="7041" y="13732">94</text><text x="7128" y="13820">93</text><text x="7215" y="13907">93</text><text x="7302" y="13994">94</text><text x="7390" y="14081">92</text><text x="7477" y="14168">93</text><text x="7564" y="14256">94</text><text x="7651" y="14343">92</text><text x="762" y="7280">99</text><text x="850" y="7367">99</text><text x="937" y="7454">99</text><text x="1198" y="7716">98</text><text x="1286" y="7803">99</text><text x="1373" y="7890">99</text><text x="1460" y="7977">99</text><text x="1547" y="8064">99</text><text x="1634" y="8152">99</text><text x="1722" y="8239">99</text><text x="1809" y="8326">98</text><text x="1896" y="8413">99</text><text x="1983" y="8500">99</text><text x="2070" y="8588">98</text><text x="2158" y="8675">99</text><text x="2245" y="8762">98</text><text x="2332" y="8849">99</text><text x="2419" y="8936">99</text><text x="2506" y="9024">98</text><text x="2594" y="9111">98</text><text x="2681" y="9198">98</text><text x="2768" y="9285">98</text><text x="2855" y="9372">98</text><text x="2942" y="9460">98</text><text x="3030" y="9547">97</text><text x="3117" y="9634">99</text><text x="3204" y="9721">98</text><text x="3291" y="9808">98</text><text x="3378" y="9896">97</text><text x="3466" y="9983">97</text><text x="3553" y="10070">97</text><text x="3640" y="10157">97</text><text x="3727" y="10244">97</text><text x="3814" y="10332">97</text><text x="3902" y="10419">97</text><text x="3989" y="10506">97</text><text x="4076" y="10593">97</text><text x="4163" y="10680">97</text><text x="4250" y="10768">97</text><text x="4338" y="10855">99</text><text x="4425" y="10942">97</text><text x="4512" y="11029">98</text><text x="4599" y="11116">97</text><text x="4686" y="11204">96</text><text x="4774" y="11291">95</text><text x="4861" y="11378">97</text><text x="4948" y="11465">95</text><text x="5035" y="11552">95</text><text x="5122" y="11640">95</text><text x="5210" y="11727">96</text><text x="5297" y="11814">96</text><text x="5384" y="11901">96</text><text x="5471" y="11988">95</text><text x="5558" y="12076">95</text><text x="5646" y="12163">96</text><text x="5733" y="12250">96</text><text x="5820" y="12337">95</text><text x="5907" y="12424">95</text><text x="5994" y="12512">94</text><text x="6082" y="12599">95</text><text x="6169" y="12686">94</text><text x="6256" y="12773">95</text><text x="6343" y="12860">94</text><text x="6430" y="12948">93</text><text x="6518" y="13035">94</text><text x="6605" y="13122">94</text><text x="6692" y="13209">94</text><text x="6779" y="13296">94</text><text x="6866" y="13384">94</text><text x="6954" y="13471">92</text><text x="7041" y="13558">93</text><text x="7128" y="13645">93</text><text x="7215" y="13732">93</text><text x="7302" y="13820">95</text><text x="7390" y="13907">94</text><text x="7477" y="13994">92</text><text x="7564" y="14081">93</text><text x="7651" y="14168">92</text><text x="7738" y="14256">93</text><text x="1111" y="7454">99</text><text x="1198" y="7541">99</text><text x="1286" y="7628">99</text><text x="1460" y="7803">98</text><text x="1547" y="7890">99</text><text x="1634" y="7977">98</text><text x="1722" y="8064">98</text><text x="1809" y="8152">99</text><text x="1896" y="8239">99</text><text x="1983" y="8326">99</text><text x="2158" y="8500">99</text><text x="2332" y="8675">99</text><text x="2419" y="8762">98</text><text x="2506" y="8849">96</text><text x="2594" y="8936">97</text><text x="2681" y="9024">99</text><text x="2768" y="9111">99</text><text x="2942" y="9285">98</text><text x="3030" y="9372">99</text><text x="3117" y="9460">98</text><text x="3204" y="9547">98</text><text x="3291" y="9634">97</text><text x="3378" y="9721">98</text><text x="3466" y="9808">97</text><text x="3553" y="9896">97</text><text x="3640" y="9983">97</text><text x="3727" y="10070">98</text><text x="3814" y="10157">98</text><text x="3902" y="10244">98</text><text x="3989" y="10332">97</text><text x="4076" y="10419">97</text><text x="4163" y="10506">98</text><text x="4250" y="10593">98</text><text x="4338" y="10680">97</text><text x="4425" y="10768">97</text><text x="4512" y="10855">97</text><text x="4599" y="10942">96</text><text x="4686" y="11029">96</text><text x="4774" y="11116">96</text><text x="4861" y="11204">96</text><text x="4948" y="11291">96</text><text x="5035" y="11378">95</text><text x="5122" y="11465">96</text><text x="5210" y="11552">95</text><text x="5297" y="11640">96</text><text x="5384" y="11727">98</text><text x="5471" y="11814">96</text><text x="5558" y="11901">97</text><text x="5646" y="11988">96</text><text x="5733" y="12076">95</text><text x="5820" y="12163">96</text><text x="5907" y="12250">94</text><text x="5994" y="12337">95</text><text x="6082" y="12424">95</text><text x="6169" y="12512">97</text><text x="6256" y="12599">95</text><text x="6343" y="12686">95</text><text x="6430" y="12773">94</text><text x="6518" y="12860">94</text><text x="6605" y="12948">95</text><text x="6692" y="13035">95</text><text x="6779" y="13122">94</text><text x="6866" y="13209">95</text><text x="6954" y="13296">94</text><text x="7041" y="13384">93</text><text x="7128" y="13471">94</text><text x="7215" y="13558">93</text><text x="7302" y="13645">93</text><text x="7390" y="13732">94</text><text x="7477" y="13820">92</text><text x="7564" y="13907">91</text><text x="7651" y="13994">93</text><text x="7738" y="14081">91</text><text x="7826" y="14168">94</text><text x="1111" y="7280">99</text><text x="1198" y="7367">99</text><text x="1286" y="7454">99</text><text x="1547" y="7716">99</text><text x="1634" y="7803">99</text><text x="1722" y="7890">99</text><text x="1809" y="7977">99</text><text x="1896" y="8064">99</text><text x="1983" y="8152">99</text><text x="2070" y="8239">99</text><text x="2158" y="8326">98</text><text x="2245" y="8413">99</text><text x="2332" y="8500">98</text><text x="2419" y="8588">99</text><text x="2506" y="8675">98</text><text x="2594" y="8762">98</text><text x="2681" y="8849">99</text><text x="2768" y="8936">99</text><text x="2855" y="9024">99</text><text x="2942" y="9111">99</text><text x="3030" y="9198">97</text><text x="3117" y="9285">98</text><text x="3204" y="9372">98</text><text x="3291" y="9460">97</text><text x="3378" y="9547">98</text><text x="3466" y="9634">98</text><text x="3553" y="9721">97</text><text x="3640" y="9808">98</text><text x="3727" y="9896">98</text><text x="3814" y="9983">98</text><text x="3902" y="10070">98</text><text x="3989" y="10157">97</text><text x="4076" y="10244">97</text><text x="4163" y="10332">96</text><text x="4250" y="10419">97</text><text x="4338" y="10506">98</text><text x="4425" y="10593">97</text><text x="4512" y="10680">97</text><text x="4599" y="10768">96</text><text x="4686" y="10855">97</text><text x="4774" y="10942">96</text><text x="4861" y="11029">97</text><text x="4948" y="11116">95</text><text x="5035" y="11204">95</text><text x="5122" y="11291">96</text><text x="5210" y="11378">96</text><text x="5297" y="11465">96</text><text x="5384" y="11552">96</text><text x="5471" y="11640">96</text><text x="5558" y="11727">95</text><text x="5646" y="11814">97</text><text x="5733" y="11901">96</text><text x="5820" y="11988">96</text><text x="5907" y="12076">96</text><text x="5994" y="12163">96</text><text x="6082" y="12250">96</text><text x="6169" y="12337">95</text><text x="6256" y="12424">95</text><text x="6343" y="12512">96</text><text x="6430" y="12599">95</text><text x="6518" y="12686">95</text><text x="6605" y="12773">94</text><text x="6692" y="12860">95</text><text x="6779" y="12948">94</text><text x="6866" y="13035">96</text><text x="6954" y="13122">92</text><text x="7041" y="13209">94</text><text x="7128" y="13296">96</text><text x="7215" y="13384">94</text><text x="7302" y="13471">93</text><text x="7390" y="13558">93</text><text x="7477" y="13645">93</text><text x="7564" y="13732">93</text><text x="7651" y="13820">92</text><text x="7738" y="13907">94</text><text x="7826" y="13994">93</text><text x="7913" y="14081">93</text><text x="1198" y="7192">98</text><text x="1286" y="7280">99</text><text x="1460" y="7454">99</text><text x="1634" y="7628">99</text><text x="1722" y="7716">99</text><text x="1896" y="7890">99</text><text x="2070" y="8064">97</text><text x="2158" y="8152">99</text><text x="2245" y="8239">98</text><text x="2332" y="8326">99</text><text x="2419" y="8413">99</text><text x="2594" y="8588">99</text><text x="2681" y="8675">99</text><text x="2768" y="8762">99</text><text x="2855" y="8849">99</text><text x="2942" y="8936">99</text><text x="3030" y="9024">98</text><text x="3117" y="9111">99</text><text x="3204" y="9198">96</text><text x="3291" y="9285">98</text><text x="3378" y="9372">99</text><text x="3466" y="9460">98</text><text x="3553" y="9547">97</text><text x="3640" y="9634">97</text><text x="3727" y="9721">98</text><text x="3814" y="9808">97</text><text x="3902" y="9896">97</text><text x="3989" y="9983">98</text><text x="4076" y="10070">97</text><text x="4163" y="10157">98</text><text x="4250" y="10244">97</text><text x="4338" y="10332">97</text><text x="4425" y="10419">97</text><text x="4512" y="10506">96</text><text x="4599" y="10593">97</text><text x="4686" y="10680">97</text><text x="4774" y="10768">97</text><text x="4861" y="10855">97</text><text x="4948" y="10942">97</text><text x="5035" y="11029">97</text><text x="5122" y="11116">96</text><text x="5210" y="11204">96</text><text x="5297" y="11291">95</text><text x="5384" y="11378">96</text><text x="5471" y="11465">96</text><text x="5558" y="11552">96</text><text x="5646" y="11640">95</text><text x="5733" y="11727">96</text><text x="5820" y="11814">95</text><text x="5907" y="11901">95</text><text x="5994" y="11988">95</text><text x="6082" y="12076">96</text><text x="6169" y="12163">94</text><text x="6256" y="12250">95</text><text x="6343" y="12337">96</text><text x="6430" y="12424">96</text><text x="6518" y="12512">94</text><text x="6605" y="12599">95</text><text x="6692" y="12686">96</text><text x="6779" y="12773">94</text><text x="6866" y="12860">95</text><text x="6954" y="12948">96</text><text x="7041" y="13035">95</text><text x="7128" y="13122">94</text><text x="7215" y="13209">93</text><text x="7302" y="13296">95</text><text x="7390" y="13384">95</text><text x="7477" y="13471">95</text><text x="7564" y="13558">93</text><text x="7651" y="13645">93</text><text x="7738" y="13732">95</text><text x="7826" y="13820">92</text><text x="7913" y="13907">94</text><text x="8000" y="13994">94</text><text x="1286" y="7105">99</text><text x="1373" y="7192">99</text><text x="1547" y="7367">99</text><text x="1722" y="7541">99</text><text x="1809" y="7628">99</text><text x="1896" y="7716">99</text><text x="1983" y="7803">98</text><text x="2070" y="7890">99</text><text x="2332" y="8152">99</text><text x="2419" y="8239">99</text><text x="2594" y="8413">99</text><text x="2681" y="8500">99</text><text x="2768" y="8588">99</text><text x="2942" y="8762">99</text><text x="3030" y="8849">98</text><text x="3117" y="8936">98</text><text x="3204" y="9024">98</text><text x="3291" y="9111">97</text><text x="3378" y="9198">99</text><text x="3466" y="9285">97</text><text x="3553" y="9372">97</text><text x="3640" y="9460">97</text><text x="3727" y="9547">96</text><text x="3814" y="9634">98</text><text x="3902" y="9721">97</text><text x="3989" y="9808">96</text><text x="4076" y="9896">98</text><text x="4163" y="9983">97</text><text x="4250" y="10070">98</text><text x="4338" y="10157">98</text><text x="4425" y="10244">98</text><text x="4512" y="10332">97</text><text x="4599" y="10419">97</text><text x="4686" y="10506">98</text><text x="4774" y="10593">98</text><text x="4861" y="10680">96</text><text x="4948" y="10768">96</text><text x="5035" y="10855">97</text><text x="5122" y="10942">95</text><text x="5210" y="11029">96</text><text x="5297" y="11116">97</text><text x="5384" y="11204">97</text><text x="5471" y="11291">96</text><text x="5558" y="11378">97</text><text x="5646" y="11465">97</text><text x="5733" y="11552">95</text><text x="5820" y="11640">96</text><text x="5907" y="11727">96</text><text x="5994" y="11814">95</text><text x="6082" y="11901">96</text><text x="6169" y="11988">95</text><text x="6256" y="12076">95</text><text x="6343" y="12163">96</text><text x="6430" y="12250">95</text><text x="6518" y="12337">95</text><text x="6605" y="12424">95</text><text x="6692" y="12512">95</text><text x="6779" y="12599">96</text><text x="6866" y="12686">95</text><text x="6954" y="12773">95</text><text x="7041" y="12860">96</text><text x="7128" y="12948">94</text><text x="7215" y="13035">94</text><text x="7302" y="13122">93</text><text x="7390" y="13209">94</text><text x="7477" y="13296">94</text><text x="7564" y="13384">94</text><text x="7651" y="13471">94</text><text x="7738" y="13558">93</text><text x="7826" y="13645">94</text><text x="7913" y="13732">94</text><text x="8000" y="13820">94</text><text x="8087" y="13907">93</text><text x="1547" y="7192">99</text><text x="1722" y="7367">99</text><text x="1809" y="7454">99</text><text x="2070" y="7716">99</text><text x="2158" y="7803">99</text><text x="2419" y="8064">99</text><text x="2506" y="8152">99</text><text x="2681" y="8326">99</text><text x="2768" y="8413">98</text><text x="2855" y="8500">99</text><text x="2942" y="8588">99</text><text x="3030" y="8675">98</text><text x="3117" y="8762">97</text><text x="3204" y="8849">99</text><text x="3291" y="8936">97</text><text x="3378" y="9024">99</text><text x="3466" y="9111">99</text><text x="3553" y="9198">98</text><text x="3640" y="9285">99</text><text x="3727" y="9372">98</text><text x="3814" y="9460">97</text><text x="3902" y="9547">97</text><text x="3989" y="9634">97</text><text x="4076" y="9721">97</text><text x="4163" y="9808">97</text><text x="4250" y="9896">98</text><text x="4338" y="9983">98</text><text x="4425" y="10070">97</text><text x="4512" y="10157">97</text><text x="4599" y="10244">98</text><text x="4686" y="10332">97</text><text x="4774" y="10419">97</text><text x="4861" y="10506">97</text><text x="4948" y="10593">96</text><text x="5035" y="10680">98</text><text x="5122" y="10768">96</text><text x="5210" y="10855">96</text><text x="5297" y="10942">97</text><text x="5384" y="11029">97</text><text x="5471" y="11116">96</text><text x="5558" y="11204">96</text><text x="5646" y="11291">97</text><text x="5733" y="11378">98</text><text x="5820" y="11465">96</text><text x="5907" y="11552">94</text><text x="5994" y="11640">96</text><text x="6082" y="11727">96</text><text x="6169" y="11814">96</text><text x="6256" y="11901">96</text><text x="6343" y="11988">96</text><text x="6430" y="12076">95</text><text x="6518" y="12163">95</text><text x="6605" y="12250">95</text><text x="6692" y="12337">95</text><text x="6779" y="12424">96</text><text x="6866" y="12512">94</text><text x="6954" y="12599">96</text><text x="7041" y="12686">94</text><text x="7128" y="12773">95</text><text x="7215" y="12860">94</text><text x="7302" y="12948">93</text><text x="7390" y="13035">94</text><text x="7477" y="13122">94</text><text x="7564" y="13209">94</text><text x="7651" y="13296">93</text><text x="7738" y="13384">93</text><text x="7826" y="13471">94</text><text x="7913" y="13558">93</text><text x="8000" y="13645">94</text><text x="8087" y="13732">93</text><text x="8174" y="13820">92</text><text x="1809" y="7280">99</text><text x="2245" y="7716">99</text><text x="2332" y="7803">99</text><text x="2506" y="7977">99</text><text x="2594" y="8064">99</text><text x="2681" y="8152">98</text><text x="2855" y="8326">98</text><text x="2942" y="8413">99</text><text x="3030" y="8500">99</text><text x="3204" y="8675">98</text><text x="3291" y="8762">99</text><text x="3378" y="8849">98</text><text x="3553" y="9024">97</text><text x="3640" y="9111">99</text><text x="3727" y="9198">98</text><text x="3814" y="9285">99</text><text x="3902" y="9372">98</text><text x="3989" y="9460">98</text><text x="4076" y="9547">97</text><text x="4163" y="9634">99</text><text x="4250" y="9721">97</text><text x="4338" y="9808">98</text><text x="4425" y="9896">97</text><text x="4512" y="9983">97</text><text x="4599" y="10070">97</text><text x="4686" y="10157">98</text><text x="4774" y="10244">97</text><text x="4861" y="10332">96</text><text x="4948" y="10419">97</text><text x="5035" y="10506">98</text><text x="5122" y="10593">97</text><text x="5210" y="10680">97</text><text x="5297" y="10768">96</text><text x="5384" y="10855">97</text><text x="5471" y="10942">96</text><text x="5558" y="11029">96</text><text x="5646" y="11116">97</text><text x="5733" y="11204">97</text><text x="5820" y="11291">95</text><text x="5907" y="11378">96</text><text x="5994" y="11465">97</text><text x="6082" y="11552">96</text><text x="6169" y="11640">96</text><text x="6256" y="11727">96</text><text x="6343" y="11814">95</text><text x="6430" y="11901">96</text><text x="6518" y="11988">95</text><text x="6605" y="12076">97</text><text x="6692" y="12163">95</text><text x="6779" y="12250">95</text><text x="6866" y="12337">96</text><text x="6954" y="12424">95</text><text x="7041" y="12512">95</text><text x="7128" y="12599">94</text><text x="7215" y="12686">94</text><text x="7302" y="12773">95</text><text x="7390" y="12860">93</text><text x="7477" y="12948">95</text><text x="7564" y="13035">94</text><text x="7651" y="13122">94</text><text x="7738" y="13209">94</text><text x="7826" y="13296">94</text><text x="7913" y="13384">94</text><text x="8000" y="13471">94</text><text x="8087" y="13558">94</text><text x="8174" y="13645">94</text><text x="8262" y="13732">93</text><text x="1809" y="7105">99</text><text x="1896" y="7192">99</text><text x="1983" y="7280">99</text><text x="2158" y="7454">99</text><text x="2245" y="7541">98</text><text x="2332" y="7628">99</text><text x="2419" y="7716">99</text><text x="2506" y="7803">99</text><text x="2594" y="7890">99</text><text x="2681" y="7977">99</text><text x="2768" y="8064">99</text><text x="2942" y="8239">99</text><text x="3204" y="8500">99</text><text x="3378" y="8675">99</text><text x="3466" y="8762">98</text><text x="3553" y="8849">99</text><text x="3640" y="8936">98</text><text x="3727" y="9024">98</text><text x="3814" y="9111">97</text><text x="3902" y="9198">98</text><text x="3989" y="9285">97</text><text x="4076" y="9372">99</text><text x="4163" y="9460">97</text><text x="4250" y="9547">98</text><text x="4338" y="9634">97</text><text x="4425" y="9721">98</text><text x="4512" y="9808">98</text><text x="4599" y="9896">98</text><text x="4686" y="9983">98</text><text x="4774" y="10070">98</text><text x="4861" y="10157">97</text><text x="4948" y="10244">97</text><text x="5035" y="10332">97</text><text x="5122" y="10419">98</text><text x="5210" y="10506">97</text><text x="5297" y="10593">97</text><text x="5384" y="10680">98</text><text x="5471" y="10768">97</text><text x="5558" y="10855">97</text><text x="5646" y="10942">96</text><text x="5733" y="11029">97</text><text x="5820" y="11116">96</text><text x="5907" y="11204">97</text><text x="5994" y="11291">97</text><text x="6082" y="11378">96</text><text x="6169" y="11465">96</text><text x="6256" y="11552">95</text><text x="6343" y="11640">96</text><text x="6430" y="11727">95</text><text x="6518" y="11814">96</text><text x="6605" y="11901">96</text><text x="6692" y="11988">95</text><text x="6779" y="12076">95</text><text x="6866" y="12163">95</text><text x="6954" y="12250">95</text><text x="7041" y="12337">95</text><text x="7128" y="12424">94</text><text x="7215" y="12512">92</text><text x="7302" y="12599">95</text><text x="7390" y="12686">94</text><text x="7477" y="12773">95</text><text x="7564" y="12860">95</text><text x="7651" y="12948">95</text><text x="7738" y="13035">94</text><text x="7826" y="13122">96</text><text x="7913" y="13209">93</text><text x="8000" y="13296">94</text><text x="8087" y="13384">94</text><text x="8174" y="13471">94</text><text x="8262" y="13558">93</text><text x="8349" y="13645">95</text><text x="2245" y="7367">99</text><text x="2332" y="7454">99</text><text x="2419" y="7541">99</text><text x="2506" y="7628">98</text><text x="2594" y="7716">99</text><text x="2768" y="7890">97</text><text x="2855" y="7977">99</text><text x="2942" y="8064">98</text><text x="3117" y="8239">99</text><text x="3204" y="8326">99</text><text x="3291" y="8413">99</text><text x="3378" y="8500">98</text><text x="3466" y="8588">98</text><text x="3553" y="8675">99</text><text x="3727" y="8849">98</text><text x="3814" y="8936">98</text><text x="3902" y="9024">98</text><text x="3989" y="9111">98</text><text x="4076" y="9198">98</text><text x="4250" y="9372">99</text><text x="4338" y="9460">97</text><text x="4425" y="9547">99</text><text x="4512" y="9634">98</text><text x="4599" y="9721">97</text><text x="4686" y="9808">98</text><text x="4774" y="9896">97</text><text x="4861" y="9983">96</text><text x="4948" y="10070">98</text><text x="5035" y="10157">96</text><text x="5122" y="10244">96</text><text x="5210" y="10332">96</text><text x="5297" y="10419">99</text><text x="5384" y="10506">96</text><text x="5471" y="10593">98</text><text x="5558" y="10680">98</text><text x="5646" y="10768">96</text><text x="5733" y="10855">96</text><text x="5820" y="10942">96</text><text x="5907" y="11029">95</text><text x="5994" y="11116">97</text><text x="6082" y="11204">96</text><text x="6169" y="11291">97</text><text x="6256" y="11378">97</text><text x="6343" y="11465">96</text><text x="6430" y="11552">94</text><text x="6518" y="11640">95</text><text x="6605" y="11727">97</text><text x="6692" y="11814">95</text><text x="6779" y="11901">96</text><text x="6866" y="11988">95</text><text x="6954" y="12076">96</text><text x="7041" y="12163">95</text><text x="7128" y="12250">94</text><text x="7215" y="12337">94</text><text x="7302" y="12424">93</text><text x="7390" y="12512">95</text><text x="7477" y="12599">95</text><text x="7564" y="12686">94</text><text x="7651" y="12773">93</text><text x="7738" y="12860">94</text><text x="7826" y="12948">94</text><text x="7913" y="13035">94</text><text x="8000" y="13122">94</text><text x="8087" y="13209">94</text><text x="8174" y="13296">94</text><text x="8262" y="13384">93</text><text x="8349" y="13471">94</text><text x="8436" y="13558">94</text><text x="2332" y="7280">99</text><text x="2594" y="7541">99</text><text x="2681" y="7628">99</text><text x="2768" y="7716">99</text><text x="2942" y="7890">99</text><text x="3117" y="8064">98</text><text x="3204" y="8152">99</text><text x="3291" y="8239">99</text><text x="3378" y="8326">99</text><text x="3466" y="8413">99</text><text x="3727" y="8675">98</text><text x="3902" y="8849">98</text><text x="3989" y="8936">98</text><text x="4076" y="9024">99</text><text x="4163" y="9111">98</text><text x="4250" y="9198">97</text><text x="4338" y="9285">99</text><text x="4425" y="9372">99</text><text x="4512" y="9460">97</text><text x="4599" y="9547">98</text><text x="4686" y="9634">97</text><text x="4774" y="9721">99</text><text x="4861" y="9808">97</text><text x="4948" y="9896">99</text><text x="5035" y="9983">97</text><text x="5122" y="10070">97</text><text x="5210" y="10157">97</text><text x="5297" y="10244">96</text><text x="5384" y="10332">97</text><text x="5471" y="10419">97</text><text x="5558" y="10506">97</text><text x="5646" y="10593">98</text><text x="5733" y="10680">96</text><text x="5820" y="10768">97</text><text x="5907" y="10855">96</text><text x="5994" y="10942">97</text><text x="6082" y="11029">96</text><text x="6169" y="11116">96</text><text x="6256" y="11204">97</text><text x="6343" y="11291">96</text><text x="6430" y="11378">96</text><text x="6518" y="11465">95</text><text x="6605" y="11552">97</text><text x="6692" y="11640">96</text><text x="6779" y="11727">95</text><text x="6866" y="11814">96</text><text x="6954" y="11901">97</text><text x="7041" y="11988">95</text><text x="7128" y="12076">96</text><text x="7215" y="12163">94</text><text x="7302" y="12250">96</text><text x="7390" y="12337">95</text><text x="7477" y="12424">95</text><text x="7564" y="12512">97</text><text x="7651" y="12599">95</text><text x="7738" y="12686">95</text><text x="7826" y="12773">95</text><text x="7913" y="12860">95</text><text x="8000" y="12948">94</text><text x="8087" y="13035">96</text><text x="8174" y="13122">95</text><text x="8262" y="13209">95</text><text x="8349" y="13296">95</text><text x="8436" y="13384">93</text><text x="8523" y="13471">93</text><text x="2419" y="7192">99</text><text x="2594" y="7367">99</text><text x="2855" y="7628">99</text><text x="3030" y="7803">99</text><text x="3291" y="8064">99</text><text x="3378" y="8152">98</text><text x="3553" y="8326">99</text><text x="3727" y="8500">98</text><text x="3814" y="8588">98</text><text x="3902" y="8675">99</text><text x="4076" y="8849">98</text><text x="4163" y="8936">98</text><text x="4250" y="9024">97</text><text x="4338" y="9111">98</text><text x="4425" y="9198">98</text><text x="4512" y="9285">97</text><text x="4599" y="9372">97</text><text x="4686" y="9460">98</text><text x="4774" y="9547">98</text><text x="4861" y="9634">97</text><text x="4948" y="9721">98</text><text x="5035" y="9808">98</text><text x="5122" y="9896">97</text><text x="5210" y="9983">97</text><text x="5297" y="10070">98</text><text x="5384" y="10157">97</text><text x="5471" y="10244">98</text><text x="5558" y="10332">96</text><text x="5646" y="10419">97</text><text x="5733" y="10506">98</text><text x="5820" y="10593">97</text><text x="5907" y="10680">97</text><text x="5994" y="10768">97</text><text x="6082" y="10855">96</text><text x="6169" y="10942">96</text><text x="6256" y="11029">97</text><text x="6343" y="11116">96</text><text x="6430" y="11204">95</text><text x="6518" y="11291">95</text><text x="6605" y="11378">96</text><text x="6692" y="11465">96</text><text x="6779" y="11552">95</text><text x="6866" y="11640">96</text><text x="6954" y="11727">96</text><text x="7041" y="11814">96</text><text x="7128" y="11901">96</text><text x="7215" y="11988">95</text><text x="7302" y="12076">95</text><text x="7390" y="12163">96</text><text x="7477" y="12250">95</text><text x="7564" y="12337">94</text><text x="7651" y="12424">95</text><text x="7738" y="12512">94</text><text x="7826" y="12599">96</text><text x="7913" y="12686">95</text><text x="8000" y="12773">94</text><text x="8087" y="12860">94</text><text x="8174" y="12948">94</text><text x="8262" y="13035">94</text><text x="8349" y="13122">93</text><text x="8436" y="13209">92</text><text x="8523" y="13296">94</text><text x="8610" y="13384">93</text><text x="2942" y="7541">99</text><text x="3030" y="7628">99</text><text x="3117" y="7716">99</text><text x="3378" y="7977">99</text><text x="3466" y="8064">99</text><text x="3553" y="8152">99</text><text x="3640" y="8239">99</text><text x="3727" y="8326">98</text><text x="3814" y="8413">99</text><text x="3902" y="8500">99</text><text x="3989" y="8588">99</text><text x="4076" y="8675">98</text><text x="4163" y="8762">98</text><text x="4250" y="8849">98</text><text x="4338" y="8936">98</text><text x="4425" y="9024">98</text><text x="4512" y="9111">98</text><text x="4599" y="9198">99</text><text x="4686" y="9285">97</text><text x="4774" y="9372">97</text><text x="4861" y="9460">96</text><text x="4948" y="9547">98</text><text x="5035" y="9634">98</text><text x="5122" y="9721">98</text><text x="5210" y="9808">98</text><text x="5297" y="9896">98</text><text x="5384" y="9983">97</text><text x="5471" y="10070">97</text><text x="5558" y="10157">99</text><text x="5646" y="10244">97</text><text x="5733" y="10332">97</text><text x="5820" y="10419">98</text><text x="5907" y="10506">97</text><text x="5994" y="10593">97</text><text x="6082" y="10680">96</text><text x="6169" y="10768">96</text><text x="6256" y="10855">97</text><text x="6343" y="10942">95</text><text x="6430" y="11029">96</text><text x="6518" y="11116">97</text><text x="6605" y="11204">97</text><text x="6692" y="11291">97</text><text x="6779" y="11378">97</text><text x="6866" y="11465">95</text><text x="6954" y="11552">96</text><text x="7041" y="11640">95</text><text x="7128" y="11727">96</text><text x="7215" y="11814">96</text><text x="7302" y="11901">95</text><text x="7390" y="11988">96</text><text x="7477" y="12076">95</text><text x="7564" y="12163">95</text><text x="7651" y="12250">94</text><text x="7738" y="12337">95</text><text x="7826" y="12424">95</text><text x="7913" y="12512">94</text><text x="8000" y="12599">94</text><text x="8087" y="12686">94</text><text x="8174" y="12773">95</text><text x="8262" y="12860">95</text><text x="8349" y="12948">95</text><text x="8436" y="13035">94</text><text x="8523" y="13122">94</text><text x="8610" y="13209">92</text><text x="8698" y="13296">94</text><text x="2681" y="7105">99</text><text x="2855" y="7280">99</text><text x="2942" y="7367">99</text><text x="3117" y="7541">99</text><text x="3291" y="7716">99</text><text x="3466" y="7890">99</text><text x="3553" y="7977">99</text><text x="3640" y="8064">98</text><text x="3727" y="8152">98</text><text x="3814" y="8239">99</text><text x="3989" y="8413">99</text><text x="4076" y="8500">98</text><text x="4163" y="8588">99</text><text x="4250" y="8675">98</text><text x="4338" y="8762">98</text><text x="4425" y="8849">99</text><text x="4512" y="8936">98</text><text x="4599" y="9024">98</text><text x="4686" y="9111">99</text><text x="4774" y="9198">99</text><text x="4861" y="9285">97</text><text x="4948" y="9372">99</text><text x="5035" y="9460">98</text><text x="5122" y="9547">97</text><text x="5210" y="9634">97</text><text x="5297" y="9721">96</text><text x="5384" y="9808">97</text><text x="5471" y="9896">99</text><text x="5558" y="9983">96</text><text x="5646" y="10070">98</text><text x="5733" y="10157">96</text><text x="5820" y="10244">97</text><text x="5907" y="10332">96</text><text x="5994" y="10419">97</text><text x="6082" y="10506">95</text><text x="6169" y="10593">96</text><text x="6256" y="10680">97</text><text x="6343" y="10768">97</text><text x="6430" y="10855">97</text><text x="6518" y="10942">96</text><text x="6605" y="11029">96</text><text x="6692" y="11116">96</text><text x="6779" y="11204">96</text><text x="6866" y="11291">96</text><text x="6954" y="11378">95</text><text x="7041" y="11465">96</text><text x="7128" y="11552">97</text><text x="7215" y="11640">96</text><text x="7302" y="11727">96</text><text x="7390" y="11814">95</text><text x="7477" y="11901">94</text><text x="7564" y="11988">96</text><text x="7651" y="12076">96</text><text x="7738" y="12163">93</text><text x="7826" y="12250">96</text><text x="7913" y="12337">97</text><text x="8000" y="12424">94</text><text x="8087" y="12512">95</text><text x="8174" y="12599">94</text><text x="8262" y="12686">94</text><text x="8349" y="12773">95</text><text x="8436" y="12860">93</text><text x="8523" y="12948">95</text><text x="8610" y="13035">94</text><text x="8698" y="13122">94</text><text x="8785" y="13209">95</text><text x="2855" y="7105">99</text><text x="2942" y="7192">98</text><text x="3117" y="7367">99</text><text x="3204" y="7454">99</text><text x="3291" y="7541">99</text><text x="3378" y="7628">99</text><text x="3466" y="7716">97</text><text x="3553" y="7803">99</text><text x="3640" y="7890">99</text><text x="3902" y="8152">99</text><text x="4163" y="8413">99</text><text x="4250" y="8500">97</text><text x="4338" y="8588">98</text><text x="4425" y="8675">99</text><text x="4599" y="8849">99</text><text x="4686" y="8936">99</text><text x="4774" y="9024">98</text><text x="4861" y="9111">98</text><text x="4948" y="9198">98</text><text x="5035" y="9285">97</text><text x="5122" y="9372">98</text><text x="5210" y="9460">98</text><text x="5297" y="9547">99</text><text x="5384" y="9634">98</text><text x="5471" y="9721">97</text><text x="5558" y="9808">98</text><text x="5646" y="9896">98</text><text x="5733" y="9983">98</text><text x="5820" y="10070">98</text><text x="5907" y="10157">97</text><text x="5994" y="10244">97</text><text x="6082" y="10332">98</text><text x="6169" y="10419">97</text><text x="6256" y="10506">96</text><text x="6343" y="10593">97</text><text x="6430" y="10680">97</text><text x="6518" y="10768">96</text><text x="6605" y="10855">96</text><text x="6692" y="10942">97</text><text x="6779" y="11029">98</text><text x="6866" y="11116">96</text><text x="6954" y="11204">94</text><text x="7041" y="11291">96</text><text x="7128" y="11378">96</text><text x="7215" y="11465">95</text><text x="7302" y="11552">96</text><text x="7390" y="11640">95</text><text x="7477" y="11727">95</text><text x="7564" y="11814">96</text><text x="7651" y="11901">95</text><text x="7738" y="11988">95</text><text x="7826" y="12076">95</text><text x="7913" y="12163">96</text><text x="8000" y="12250">96</text><text x="8087" y="12337">95</text><text x="8174" y="12424">95</text><text x="8262" y="12512">95</text><text x="8349" y="12599">95</text><text x="8436" y="12686">94</text><text x="8523" y="12773">95</text><text x="8610" y="12860">96</text><text x="8698" y="12948">93</text><text x="8785" y="13035">94</text><text x="8872" y="13122">94</text><text x="3378" y="7454">99</text><text x="3466" y="7541">99</text><text x="3553" y="7628">99</text><text x="3640" y="7716">99</text><text x="3727" y="7803">98</text><text x="3902" y="7977">99</text><text x="3989" y="8064">99</text><text x="4163" y="8239">98</text><text x="4250" y="8326">99</text><text x="4338" y="8413">99</text><text x="4512" y="8588">98</text><text x="4686" y="8762">99</text><text x="4774" y="8849">98</text><text x="4861" y="8936">98</text><text x="4948" y="9024">96</text><text x="5035" y="9111">98</text><text x="5122" y="9198">98</text><text x="5210" y="9285">98</text><text x="5297" y="9372">96</text><text x="5384" y="9460">97</text><text x="5471" y="9547">97</text><text x="5558" y="9634">98</text><text x="5646" y="9721">98</text><text x="5733" y="9808">97</text><text x="5820" y="9896">96</text><text x="5907" y="9983">97</text><text x="5994" y="10070">98</text><text x="6082" y="10157">97</text><text x="6169" y="10244">96</text><text x="6256" y="10332">97</text><text x="6343" y="10419">97</text><text x="6430" y="10506">98</text><text x="6518" y="10593">96</text><text x="6605" y="10680">96</text><text x="6692" y="10768">96</text><text x="6779" y="10855">96</text><text x="6866" y="10942">96</text><text x="6954" y="11029">97</text><text x="7041" y="11116">97</text><text x="7128" y="11204">96</text><text x="7215" y="11291">96</text><text x="7302" y="11378">97</text><text x="7390" y="11465">95</text><text x="7477" y="11552">96</text><text x="7564" y="11640">96</text><text x="7651" y="11727">95</text><text x="7738" y="11814">96</text><text x="7826" y="11901">94</text><text x="7913" y="11988">94</text><text x="8000" y="12076">93</text><text x="8087" y="12163">95</text><text x="8174" y="12250">95</text><text x="8262" y="12337">95</text><text x="8349" y="12424">95</text><text x="8436" y="12512">96</text><text x="8523" y="12599">95</text><text x="8610" y="12686">94</text><text x="8698" y="12773">94</text><text x="8785" y="12860">95</text><text x="8872" y="12948">95</text><text x="8959" y="13035">94</text><text x="3291" y="7192">99</text><text x="3466" y="7367">99</text><text x="3553" y="7454">98</text><text x="3640" y="7541">99</text><text x="3727" y="7628">99</text><text x="3989" y="7890">99</text><text x="4250" y="8152">98</text><text x="4338" y="8239">99</text><text x="4425" y="8326">98</text><text x="4512" y="8413">99</text><text x="4599" y="8500">99</text><text x="4686" y="8588">99</text><text x="4774" y="8675">98</text><text x="4861" y="8762">98</text><text x="4948" y="8849">98</text><text x="5035" y="8936">99</text><text x="5122" y="9024">98</text><text x="5210" y="9111">99</text><text x="5297" y="9198">97</text><text x="5384" y="9285">97</text><text x="5471" y="9372">97</text><text x="5558" y="9460">98</text><text x="5646" y="9547">97</text><text x="5733" y="9634">99</text><text x="5820" y="9721">97</text><text x="5907" y="9808">98</text><text x="5994" y="9896">97</text><text x="6082" y="9983">96</text><text x="6169" y="10070">96</text><text x="6256" y="10157">98</text><text x="6343" y="10244">95</text><text x="6430" y="10332">96</text><text x="6518" y="10419">98</text><text x="6605" y="10506">97</text><text x="6692" y="10593">96</text><text x="6779" y="10680">96</text><text x="6866" y="10768">97</text><text x="6954" y="10855">98</text><text x="7041" y="10942">97</text><text x="7128" y="11029">95</text><text x="7215" y="11116">96</text><text x="7302" y="11204">95</text><text x="7390" y="11291">96</text><text x="7477" y="11378">97</text><text x="7564" y="11465">96</text><text x="7651" y="11552">96</text><text x="7738" y="11640">95</text><text x="7826" y="11727">94</text><text x="7913" y="11814">95</text><text x="8000" y="11901">95</text><text x="8087" y="11988">96</text><text x="8174" y="12076">95</text><text x="8262" y="12163">95</text><text x="8349" y="12250">95</text><text x="8436" y="12337">93</text><text x="8523" y="12424">95</text><text x="8610" y="12512">94</text><text x="8698" y="12599">96</text><text x="8785" y="12686">94</text><text x="8872" y="12773">94</text><text x="8959" y="12860">94</text><text x="9046" y="12948">95</text><text x="3553" y="7280">99</text><text x="3640" y="7367">99</text><text x="3727" y="7454">99</text><text x="3989" y="7716">99</text><text x="4076" y="7803">99</text><text x="4163" y="7890">99</text><text x="4338" y="8064">99</text><text x="4425" y="8152">98</text><text x="4512" y="8239">98</text><text x="4686" y="8413">99</text><text x="4774" y="8500">97</text><text x="4861" y="8588">99</text><text x="4948" y="8675">99</text><text x="5035" y="8762">98</text><text x="5122" y="8849">99</text><text x="5210" y="8936">99</text><text x="5297" y="9024">97</text><text x="5384" y="9111">99</text><text x="5471" y="9198">98</text><text x="5558" y="9285">99</text><text x="5646" y="9372">99</text><text x="5733" y="9460">97</text><text x="5820" y="9547">98</text><text x="5907" y="9634">99</text><text x="5994" y="9721">99</text><text x="6082" y="9808">98</text><text x="6169" y="9896">98</text><text x="6256" y="9983">97</text><text x="6343" y="10070">96</text><text x="6430" y="10157">96</text><text x="6518" y="10244">98</text><text x="6605" y="10332">97</text><text x="6692" y="10419">96</text><text x="6779" y="10506">96</text><text x="6866" y="10593">96</text><text x="6954" y="10680">97</text><text x="7041" y="10768">97</text><text x="7128" y="10855">97</text><text x="7215" y="10942">96</text><text x="7302" y="11029">97</text><text x="7390" y="11116">97</text><text x="7477" y="11204">95</text><text x="7564" y="11291">97</text><text x="7651" y="11378">95</text><text x="7738" y="11465">96</text><text x="7826" y="11552">95</text><text x="7913" y="11640">95</text><text x="8000" y="11727">96</text><text x="8087" y="11814">96</text><text x="8174" y="11901">94</text><text x="8262" y="11988">95</text><text x="8349" y="12076">95</text><text x="8436" y="12163">95</text><text x="8523" y="12250">96</text><text x="8610" y="12337">95</text><text x="8698" y="12424">94</text><text x="8785" y="12512">94</text><text x="8872" y="12599">95</text><text x="8959" y="12686">96</text><text x="9046" y="12773">94</text><text x="9134" y="12860">95</text><text x="3727" y="7280">99</text><text x="3814" y="7367">99</text><text x="3902" y="7454">99</text><text x="4250" y="7803">99</text><text x="4338" y="7890">99</text><text x="4425" y="7977">99</text><text x="4512" y="8064">98</text><text x="4686" y="8239">99</text><text x="4861" y="8413">98</text><text x="4948" y="8500">98</text><text x="5035" y="8588">99</text><text x="5210" y="8762">98</text><text x="5384" y="8936">98</text><text x="5471" y="9024">99</text><text x="5558" y="9111">98</text><text x="5646" y="9198">98</text><text x="5733" y="9285">99</text><text x="5820" y="9372">98</text><text x="5907" y="9460">98</text><text x="5994" y="9547">98</text><text x="6082" y="9634">98</text><text x="6169" y="9721">98</text><text x="6256" y="9808">97</text><text x="6343" y="9896">98</text><text x="6430" y="9983">98</text><text x="6518" y="10070">98</text><text x="6605" y="10157">97</text><text x="6692" y="10244">97</text><text x="6779" y="10332">98</text><text x="6866" y="10419">97</text><text x="6954" y="10506">97</text><text x="7041" y="10593">97</text><text x="7128" y="10680">96</text><text x="7215" y="10768">96</text><text x="7302" y="10855">98</text><text x="7390" y="10942">96</text><text x="7477" y="11029">95</text><text x="7564" y="11116">96</text><text x="7651" y="11204">96</text><text x="7738" y="11291">96</text><text x="7826" y="11378">96</text><text x="7913" y="11465">95</text><text x="8000" y="11552">96</text><text x="8087" y="11640">96</text><text x="8174" y="11727">95</text><text x="8262" y="11814">96</text><text x="8349" y="11901">95</text><text x="8436" y="11988">95</text><text x="8523" y="12076">95</text><text x="8610" y="12163">96</text><text x="8698" y="12250">96</text><text x="8785" y="12337">95</text><text x="8872" y="12424">94</text><text x="8959" y="12512">95</text><text x="9046" y="12599">94</text><text x="9134" y="12686">96</text><text x="9221" y="12773">95</text><text x="3902" y="7280">98</text><text x="4512" y="7890">98</text><text x="4774" y="8152">99</text><text x="4861" y="8239">99</text><text x="4948" y="8326">98</text><text x="5122" y="8500">99</text><text x="5210" y="8588">98</text><text x="5297" y="8675">98</text><text x="5384" y="8762">98</text><text x="5471" y="8849">99</text><text x="5558" y="8936">97</text><text x="5646" y="9024">99</text><text x="5733" y="9111">98</text><text x="5820" y="9198">98</text><text x="5907" y="9285">98</text><text x="5994" y="9372">97</text><text x="6082" y="9460">98</text><text x="6169" y="9547">98</text><text x="6256" y="9634">99</text><text x="6343" y="9721">99</text><text x="6430" y="9808">97</text><text x="6518" y="9896">98</text><text x="6605" y="9983">96</text><text x="6692" y="10070">96</text><text x="6779" y="10157">96</text><text x="6866" y="10244">96</text><text x="6954" y="10332">97</text><text x="7041" y="10419">97</text><text x="7128" y="10506">96</text><text x="7215" y="10593">96</text><text x="7302" y="10680">97</text><text x="7390" y="10768">97</text><text x="7477" y="10855">96</text><text x="7564" y="10942">97</text><text x="7651" y="11029">96</text><text x="7738" y="11116">96</text><text x="7826" y="11204">96</text><text x="7913" y="11291">96</text><text x="8000" y="11378">96</text><text x="8087" y="11465">98</text><text x="8174" y="11552">96</text><text x="8262" y="11640">95</text><text x="8349" y="11727">97</text><text x="8436" y="11814">94</text><text x="8523" y="11901">95</text><text x="8610" y="11988">96</text><text x="8698" y="12076">95</text><text x="8785" y="12163">95</text><text x="8872" y="12250">95</text><text x="8959" y="12337">96</text><text x="9046" y="12424">95</text><text x="9134" y="12512">95</text><text x="9221" y="12599">94</text><text x="9308" y="12686">93</text><text x="4163" y="7367">99</text><text x="4250" y="7454">98</text><text x="4512" y="7716">99</text><text x="4861" y="8064">99</text><text x="5035" y="8239">99</text><text x="5210" y="8413">98</text><text x="5297" y="8500">99</text><text x="5384" y="8588">98</text><text x="5471" y="8675">98</text><text x="5558" y="8762">97</text><text x="5646" y="8849">98</text><text x="5820" y="9024">98</text><text x="5907" y="9111">97</text><text x="5994" y="9198">97</text><text x="6082" y="9285">99</text><text x="6169" y="9372">99</text><text x="6256" y="9460">98</text><text x="6343" y="9547">97</text><text x="6430" y="9634">98</text><text x="6518" y="9721">97</text><text x="6605" y="9808">97</text><text x="6692" y="9896">98</text><text x="6779" y="9983">98</text><text x="6866" y="10070">97</text><text x="6954" y="10157">97</text><text x="7041" y="10244">97</text><text x="7128" y="10332">97</text><text x="7215" y="10419">96</text><text x="7302" y="10506">97</text><text x="7390" y="10593">96</text><text x="7477" y="10680">96</text><text x="7564" y="10768">97</text><text x="7651" y="10855">96</text><text x="7738" y="10942">96</text><text x="7826" y="11029">95</text><text x="7913" y="11116">96</text><text x="8000" y="11204">96</text><text x="8087" y="11291">96</text><text x="8174" y="11378">97</text><text x="8262" y="11465">96</text><text x="8349" y="11552">96</text><text x="8436" y="11640">95</text><text x="8523" y="11727">95</text><text x="8610" y="11814">96</text><text x="8698" y="11901">95</text><text x="8785" y="11988">95</text><text x="8872" y="12076">95</text><text x="8959" y="12163">95</text><text x="9046" y="12250">95</text><text x="9134" y="12337">95</text><text x="9221" y="12424">93</text><text x="9308" y="12512">94</text><text x="9395" y="12599">94</text><text x="4163" y="7192">99</text><text x="4250" y="7280">99</text><text x="4338" y="7367">99</text><text x="4425" y="7454">99</text><text x="4686" y="7716">99</text><text x="4774" y="7803">99</text><text x="4861" y="7890">98</text><text x="5035" y="8064">99</text><text x="5122" y="8152">99</text><text x="5210" y="8239">98</text><text x="5297" y="8326">98</text><text x="5384" y="8413">99</text><text x="5471" y="8500">98</text><text x="5558" y="8588">98</text><text x="5646" y="8675">99</text><text x="5733" y="8762">98</text><text x="5820" y="8849">99</text><text x="5907" y="8936">99</text><text x="5994" y="9024">98</text><text x="6082" y="9111">98</text><text x="6169" y="9198">98</text><text x="6256" y="9285">98</text><text x="6343" y="9372">98</text><text x="6430" y="9460">97</text><text x="6518" y="9547">97</text><text x="6605" y="9634">98</text><text x="6692" y="9721">97</text><text x="6779" y="9808">97</text><text x="6866" y="9896">97</text><text x="6954" y="9983">97</text><text x="7041" y="10070">98</text><text x="7128" y="10157">97</text><text x="7215" y="10244">96</text><text x="7302" y="10332">98</text><text x="7390" y="10419">97</text><text x="7477" y="10506">96</text><text x="7564" y="10593">97</text><text x="7651" y="10680">96</text><text x="7738" y="10768">97</text><text x="7826" y="10855">98</text><text x="7913" y="10942">96</text><text x="8000" y="11029">96</text><text x="8087" y="11116">96</text><text x="8174" y="11204">97</text><text x="8262" y="11291">96</text><text x="8349" y="11378">95</text><text x="8436" y="11465">95</text><text x="8523" y="11552">95</text><text x="8610" y="11640">95</text><text x="8698" y="11727">96</text><text x="8785" y="11814">96</text><text x="8872" y="11901">95</text><text x="8959" y="11988">94</text><text x="9046" y="12076">96</text><text x="9134" y="12163">95</text><text x="9221" y="12250">96</text><text x="9308" y="12337">97</text><text x="9395" y="12424">94</text><text x="9482" y="12512">95</text><text x="4250" y="7105">99</text><text x="4338" y="7192">99</text><text x="4512" y="7367">99</text><text x="4774" y="7628">99</text><text x="4861" y="7716">99</text><text x="4948" y="7803">98</text><text x="5122" y="7977">99</text><text x="5471" y="8326">99</text><text x="5558" y="8413">99</text><text x="5646" y="8500">99</text><text x="5733" y="8588">99</text><text x="5820" y="8675">99</text><text x="5907" y="8762">98</text><text x="5994" y="8849">97</text><text x="6082" y="8936">98</text><text x="6169" y="9024">98</text><text x="6256" y="9111">99</text><text x="6343" y="9198">98</text><text x="6430" y="9285">98</text><text x="6518" y="9372">99</text><text x="6605" y="9460">97</text><text x="6692" y="9547">98</text><text x="6779" y="9634">97</text><text x="6866" y="9721">98</text><text x="6954" y="9808">97</text><text x="7041" y="9896">97</text><text x="7128" y="9983">97</text><text x="7215" y="10070">97</text><text x="7302" y="10157">98</text><text x="7390" y="10244">96</text><text x="7477" y="10332">96</text><text x="7564" y="10419">97</text><text x="7651" y="10506">97</text><text x="7738" y="10593">96</text><text x="7826" y="10680">98</text><text x="7913" y="10768">97</text><text x="8000" y="10855">96</text><text x="8087" y="10942">96</text><text x="8174" y="11029">96</text><text x="8262" y="11116">95</text><text x="8349" y="11204">96</text><text x="8436" y="11291">97</text><text x="8523" y="11378">97</text><text x="8610" y="11465">94</text><text x="8698" y="11552">96</text><text x="8785" y="11640">96</text><text x="8872" y="11727">96</text><text x="8959" y="11814">95</text><text x="9046" y="11901">96</text><text x="9134" y="11988">95</text><text x="9221" y="12076">96</text><text x="9308" y="12163">95</text><text x="9395" y="12250">95</text><text x="9482" y="12337">96</text><text x="9570" y="12424">95</text><text x="4512" y="7192">99</text><text x="4948" y="7628">98</text><text x="5035" y="7716">99</text><text x="5297" y="7977">98</text><text x="5384" y="8064">99</text><text x="5646" y="8326">99</text><text x="5820" y="8500">99</text><text x="5994" y="8675">98</text><text x="6082" y="8762">99</text><text x="6343" y="9024">97</text><text x="6430" y="9111">98</text><text x="6518" y="9198">97</text><text x="6605" y="9285">98</text><text x="6692" y="9372">98</text><text x="6779" y="9460">97</text><text x="6866" y="9547">97</text><text x="6954" y="9634">97</text><text x="7041" y="9721">99</text><text x="7128" y="9808">98</text><text x="7215" y="9896">97</text><text x="7302" y="9983">97</text><text x="7390" y="10070">98</text><text x="7477" y="10157">97</text><text x="7564" y="10244">97</text><text x="7651" y="10332">96</text><text x="7738" y="10419">97</text><text x="7826" y="10506">97</text><text x="7913" y="10593">98</text><text x="8000" y="10680">96</text><text x="8087" y="10768">96</text><text x="8174" y="10855">95</text><text x="8262" y="10942">96</text><text x="8349" y="11029">96</text><text x="8436" y="11116">97</text><text x="8523" y="11204">97</text><text x="8610" y="11291">96</text><text x="8698" y="11378">96</text><text x="8785" y="11465">96</text><text x="8872" y="11552">96</text><text x="8959" y="11640">94</text><text x="9046" y="11727">95</text><text x="9134" y="11814">96</text><text x="9221" y="11901">95</text><text x="9308" y="11988">95</text><text x="9395" y="12076">95</text><text x="9482" y="12163">95</text><text x="9570" y="12250">95</text><text x="9657" y="12337">95</text><text x="4861" y="7367">98</text><text x="4948" y="7454">99</text><text x="5035" y="7541">99</text><text x="5122" y="7628">99</text><text x="5210" y="7716">98</text><text x="5297" y="7803">98</text><text x="5384" y="7890">99</text><text x="5471" y="7977">98</text><text x="5646" y="8152">99</text><text x="5907" y="8413">99</text><text x="5994" y="8500">98</text><text x="6082" y="8588">99</text><text x="6256" y="8762">97</text><text x="6343" y="8849">98</text><text x="6518" y="9024">98</text><text x="6605" y="9111">99</text><text x="6692" y="9198">97</text><text x="6779" y="9285">97</text><text x="6866" y="9372">97</text><text x="6954" y="9460">99</text><text x="7041" y="9547">98</text><text x="7128" y="9634">97</text><text x="7215" y="9721">98</text><text x="7302" y="9808">97</text><text x="7390" y="9896">97</text><text x="7477" y="9983">97</text><text x="7564" y="10070">98</text><text x="7651" y="10157">97</text><text x="7738" y="10244">96</text><text x="7826" y="10332">98</text><text x="7913" y="10419">96</text><text x="8000" y="10506">96</text><text x="8087" y="10593">97</text><text x="8174" y="10680">98</text><text x="8262" y="10768">97</text><text x="8349" y="10855">95</text><text x="8436" y="10942">96</text><text x="8523" y="11029">97</text><text x="8610" y="11116">96</text><text x="8698" y="11204">95</text><text x="8785" y="11291">95</text><text x="8872" y="11378">97</text><text x="8959" y="11465">96</text><text x="9046" y="11552">95</text><text x="9134" y="11640">95</text><text x="9221" y="11727">94</text><text x="9308" y="11814">96</text><text x="9395" y="11901">95</text><text x="9482" y="11988">96</text><text x="9570" y="12076">95</text><text x="9657" y="12163">96</text><text x="9744" y="12250">95</text><text x="4774" y="7105">99</text><text x="4948" y="7280">98</text><text x="5122" y="7454">99</text><text x="5471" y="7803">99</text><text x="5558" y="7890">99</text><text x="5733" y="8064">99</text><text x="5907" y="8239">99</text><text x="5994" y="8326">98</text><text x="6082" y="8413">98</text><text x="6169" y="8500">99</text><text x="6256" y="8588">99</text><text x="6343" y="8675">99</text><text x="6430" y="8762">98</text><text x="6518" y="8849">98</text><text x="6605" y="8936">97</text><text x="6692" y="9024">98</text><text x="6779" y="9111">98</text><text x="6866" y="9198">99</text><text x="6954" y="9285">98</text><text x="7041" y="9372">97</text><text x="7128" y="9460">99</text><text x="7215" y="9547">99</text><text x="7302" y="9634">96</text><text x="7390" y="9721">97</text><text x="7477" y="9808">99</text><text x="7564" y="9896">98</text><text x="7651" y="9983">97</text><text x="7738" y="10070">97</text><text x="7826" y="10157">96</text><text x="7913" y="10244">98</text><text x="8000" y="10332">97</text><text x="8087" y="10419">97</text><text x="8174" y="10506">97</text><text x="8262" y="10593">95</text><text x="8349" y="10680">96</text><text x="8436" y="10768">96</text><text x="8523" y="10855">95</text><text x="8610" y="10942">96</text><text x="8698" y="11029">96</text><text x="8785" y="11116">96</text><text x="8872" y="11204">98</text><text x="8959" y="11291">96</text><text x="9046" y="11378">96</text><text x="9134" y="11465">96</text><text x="9221" y="11552">94</text><text x="9308" y="11640">96</text><text x="9395" y="11727">96</text><text x="9482" y="11814">96</text><text x="9570" y="11901">95</text><text x="9657" y="11988">96</text><text x="9744" y="12076">96</text><text x="9831" y="12163">94</text><text x="5035" y="7192">99</text><text x="5122" y="7280">99</text><text x="5210" y="7367">99</text><text x="5297" y="7454">99</text><text x="5471" y="7628">99</text><text x="5558" y="7716">99</text><text x="5733" y="7890">98</text><text x="5820" y="7977">99</text><text x="5994" y="8152">98</text><text x="6082" y="8239">99</text><text x="6256" y="8413">99</text><text x="6343" y="8500">99</text><text x="6430" y="8588">99</text><text x="6518" y="8675">98</text><text x="6692" y="8849">98</text><text x="6866" y="9024">98</text><text x="6954" y="9111">97</text><text x="7041" y="9198">97</text><text x="7215" y="9372">99</text><text x="7302" y="9460">97</text><text x="7390" y="9547">96</text><text x="7477" y="9634">98</text><text x="7564" y="9721">98</text><text x="7651" y="9808">98</text><text x="7738" y="9896">98</text><text x="7826" y="9983">98</text><text x="7913" y="10070">98</text><text x="8000" y="10157">96</text><text x="8087" y="10244">98</text><text x="8174" y="10332">97</text><text x="8262" y="10419">97</text><text x="8349" y="10506">98</text><text x="8436" y="10593">97</text><text x="8523" y="10680">97</text><text x="8610" y="10768">97</text><text x="8698" y="10855">96</text><text x="8785" y="10942">96</text><text x="8872" y="11029">97</text><text x="8959" y="11116">97</text><text x="9046" y="11204">98</text><text x="9134" y="11291">96</text><text x="9221" y="11378">95</text><text x="9308" y="11465">96</text><text x="9395" y="11552">96</text><text x="9482" y="11640">95</text><text x="9570" y="11727">96</text><text x="9657" y="11814">95</text><text x="9744" y="11901">94</text><text x="9831" y="11988">96</text><text x="9918" y="12076">97</text><text x="5210" y="7192">98</text><text x="5384" y="7367">99</text><text x="5558" y="7541">99</text><text x="5733" y="7716">99</text><text x="5820" y="7803">99</text><text x="5907" y="7890">99</text><text x="5994" y="7977">98</text><text x="6169" y="8152">98</text><text x="6343" y="8326">98</text><text x="6692" y="8675">99</text><text x="6779" y="8762">99</text><text x="6866" y="8849">98</text><text x="6954" y="8936">98</text><text x="7041" y="9024">97</text><text x="7128" y="9111">97</text><text x="7302" y="9285">97</text><text x="7390" y="9372">98</text><text x="7477" y="9460">98</text><text x="7564" y="9547">98</text><text x="7651" y="9634">98</text><text x="7738" y="9721">97</text><text x="7826" y="9808">99</text><text x="7913" y="9896">98</text><text x="8000" y="9983">98</text><text x="8087" y="10070">97</text><text x="8174" y="10157">98</text><text x="8262" y="10244">96</text><text x="8349" y="10332">97</text><text x="8436" y="10419">98</text><text x="8523" y="10506">96</text><text x="8610" y="10593">95</text><text x="8698" y="10680">96</text><text x="8785" y="10768">96</text><text x="8872" y="10855">97</text><text x="8959" y="10942">97</text><text x="9046" y="11029">97</text><text x="9134" y="11116">97</text><text x="9221" y="11204">96</text><text x="9308" y="11291">97</text><text x="9395" y="11378">97</text><text x="9482" y="11465">94</text><text x="9570" y="11552">95</text><text x="9657" y="11640">95</text><text x="9744" y="11727">95</text><text x="9831" y="11814">96</text><text x="9918" y="11901">96</text><text x="10006" y="11988">95</text><text x="5471" y="7280">98</text><text x="5558" y="7367">99</text><text x="5646" y="7454">99</text><text x="5733" y="7541">98</text><text x="5994" y="7803">99</text><text x="6169" y="7977">98</text><text x="6256" y="8064">98</text><text x="6343" y="8152">99</text><text x="6605" y="8413">99</text><text x="6779" y="8588">99</text><text x="6866" y="8675">98</text><text x="6954" y="8762">98</text><text x="7041" y="8849">98</text><text x="7128" y="8936">98</text><text x="7215" y="9024">98</text><text x="7302" y="9111">99</text><text x="7390" y="9198">97</text><text x="7477" y="9285">97</text><text x="7564" y="9372">97</text><text x="7651" y="9460">98</text><text x="7738" y="9547">98</text><text x="7826" y="9634">99</text><text x="7913" y="9721">98</text><text x="8000" y="9808">97</text><text x="8087" y="9896">98</text><text x="8174" y="9983">97</text><text x="8262" y="10070">97</text><text x="8349" y="10157">96</text><text x="8436" y="10244">96</text><text x="8523" y="10332">96</text><text x="8610" y="10419">98</text><text x="8698" y="10506">97</text><text x="8785" y="10593">98</text><text x="8872" y="10680">97</text><text x="8959" y="10768">96</text><text x="9046" y="10855">97</text><text x="9134" y="10942">96</text><text x="9221" y="11029">96</text><text x="9308" y="11116">97</text><text x="9395" y="11204">97</text><text x="9482" y="11291">97</text><text x="9570" y="11378">96</text><text x="9657" y="11465">96</text><text x="9744" y="11552">97</text><text x="9831" y="11640">97</text><text x="9918" y="11727">96</text><text x="10006" y="11814">96</text><text x="10093" y="11901">95</text><text x="5471" y="7105">99</text><text x="5558" y="7192">99</text><text x="5646" y="7280">99</text><text x="5733" y="7367">99</text><text x="6082" y="7716">98</text><text x="6256" y="7890">99</text><text x="6343" y="7977">99</text><text x="6518" y="8152">98</text><text x="6605" y="8239">98</text><text x="6692" y="8326">99</text><text x="6779" y="8413">98</text><text x="6866" y="8500">98</text><text x="6954" y="8588">99</text><text x="7041" y="8675">98</text><text x="7128" y="8762">97</text><text x="7215" y="8849">98</text><text x="7302" y="8936">98</text><text x="7390" y="9024">98</text><text x="7564" y="9198">98</text><text x="7738" y="9372">97</text><text x="7826" y="9460">98</text><text x="7913" y="9547">97</text><text x="8000" y="9634">98</text><text x="8087" y="9721">98</text><text x="8174" y="9808">97</text><text x="8262" y="9896">96</text><text x="8349" y="9983">97</text><text x="8436" y="10070">97</text><text x="8523" y="10157">98</text><text x="8610" y="10244">98</text><text x="8698" y="10332">96</text><text x="8785" y="10419">97</text><text x="8872" y="10506">97</text><text x="8959" y="10593">97</text><text x="9046" y="10680">96</text><text x="9134" y="10768">96</text><text x="9221" y="10855">97</text><text x="9308" y="10942">94</text><text x="9395" y="11029">96</text><text x="9482" y="11116">97</text><text x="9570" y="11204">96</text><text x="9657" y="11291">96</text><text x="9744" y="11378">96</text><text x="9831" y="11465">96</text><text x="9918" y="11552">96</text><text x="10006" y="11640">96</text><text x="10093" y="11727">95</text><text x="10180" y="11814">95</text><text x="5646" y="7105">99</text><text x="5820" y="7280">98</text><text x="6082" y="7541">99</text><text x="6256" y="7716">99</text><text x="6343" y="7803">99</text><text x="6430" y="7890">97</text><text x="6518" y="7977">98</text><text x="6692" y="8152">99</text><text x="6779" y="8239">98</text><text x="6866" y="8326">98</text><text x="6954" y="8413">98</text><text x="7128" y="8588">99</text><text x="7215" y="8675">99</text><text x="7302" y="8762">99</text><text x="7390" y="8849">98</text><text x="7477" y="8936">99</text><text x="7564" y="9024">97</text><text x="7651" y="9111">99</text><text x="7738" y="9198">97</text><text x="7826" y="9285">98</text><text x="7913" y="9372">97</text><text x="8000" y="9460">98</text><text x="8087" y="9547">98</text><text x="8174" y="9634">98</text><text x="8262" y="9721">99</text><text x="8349" y="9808">96</text><text x="8436" y="9896">97</text><text x="8523" y="9983">96</text><text x="8610" y="10070">98</text><text x="8698" y="10157">97</text><text x="8785" y="10244">97</text><text x="8872" y="10332">98</text><text x="8959" y="10419">96</text><text x="9046" y="10506">97</text><text x="9134" y="10593">96</text><text x="9221" y="10680">97</text><text x="9308" y="10768">96</text><text x="9395" y="10855">96</text><text x="9482" y="10942">95</text><text x="9570" y="11029">96</text><text x="9657" y="11116">97</text><text x="9744" y="11204">95</text><text x="9831" y="11291">97</text><text x="9918" y="11378">97</text><text x="10006" y="11465">95</text><text x="10093" y="11552">96</text><text x="10180" y="11640">96</text><text x="10267" y="11727">97</text><text x="6169" y="7454">99</text><text x="6256" y="7541">98</text><text x="6343" y="7628">99</text><text x="6430" y="7716">99</text><text x="6518" y="7803">98</text><text x="6605" y="7890">99</text><text x="6692" y="7977">98</text><text x="6954" y="8239">99</text><text x="7041" y="8326">99</text><text x="7128" y="8413">99</text><text x="7215" y="8500">98</text><text x="7302" y="8588">99</text><text x="7477" y="8762">99</text><text x="7564" y="8849">98</text><text x="7651" y="8936">98</text><text x="7738" y="9024">99</text><text x="7826" y="9111">97</text><text x="7913" y="9198">98</text><text x="8000" y="9285">98</text><text x="8087" y="9372">98</text><text x="8174" y="9460">97</text><text x="8262" y="9547">97</text><text x="8349" y="9634">97</text><text x="8436" y="9721">97</text><text x="8523" y="9808">97</text><text x="8610" y="9896">98</text><text x="8698" y="9983">97</text><text x="8785" y="10070">97</text><text x="8872" y="10157">97</text><text x="8959" y="10244">98</text><text x="9046" y="10332">96</text><text x="9134" y="10419">97</text><text x="9221" y="10506">96</text><text x="9308" y="10593">98</text><text x="9395" y="10680">97</text><text x="9482" y="10768">97</text><text x="9570" y="10855">95</text><text x="9657" y="10942">97</text><text x="9744" y="11029">96</text><text x="9831" y="11116">98</text><text x="9918" y="11204">96</text><text x="10006" y="11291">98</text><text x="10093" y="11378">96</text><text x="10180" y="11465">96</text><text x="10267" y="11552">96</text><text x="10354" y="11640">97</text><text x="6169" y="7280">99</text><text x="6343" y="7454">99</text><text x="6430" y="7541">99</text><text x="6518" y="7628">98</text><text x="6605" y="7716">98</text><text x="6779" y="7890">99</text><text x="6954" y="8064">99</text><text x="7128" y="8239">99</text><text x="7215" y="8326">99</text><text x="7390" y="8500">98</text><text x="7477" y="8588">98</text><text x="7564" y="8675">98</text><text x="7651" y="8762">98</text><text x="7738" y="8849">99</text><text x="7826" y="8936">98</text><text x="7913" y="9024">99</text><text x="8000" y="9111">99</text><text x="8087" y="9198">98</text><text x="8174" y="9285">97</text><text x="8262" y="9372">97</text><text x="8349" y="9460">98</text><text x="8436" y="9547">98</text><text x="8523" y="9634">98</text><text x="8610" y="9721">98</text><text x="8698" y="9808">98</text><text x="8785" y="9896">98</text><text x="8872" y="9983">98</text><text x="8959" y="10070">98</text><text x="9046" y="10157">96</text><text x="9134" y="10244">97</text><text x="9221" y="10332">97</text><text x="9308" y="10419">96</text><text x="9395" y="10506">96</text><text x="9482" y="10593">97</text><text x="9570" y="10680">98</text><text x="9657" y="10768">96</text><text x="9744" y="10855">96</text><text x="9831" y="10942">96</text><text x="9918" y="11029">96</text><text x="10006" y="11116">96</text><text x="10093" y="11204">96</text><text x="10180" y="11291">97</text><text x="10267" y="11378">96</text><text x="10354" y="11465">97</text><text x="10442" y="11552">96</text><text x="6343" y="7280">99</text><text x="6430" y="7367">98</text><text x="6518" y="7454">99</text><text x="6605" y="7541">99</text><text x="6692" y="7628">99</text><text x="6779" y="7716">99</text><text x="6866" y="7803">98</text><text x="7041" y="7977">98</text><text x="7302" y="8239">99</text><text x="7477" y="8413">99</text><text x="7564" y="8500">98</text><text x="7651" y="8588">99</text><text x="7738" y="8675">98</text><text x="7826" y="8762">99</text><text x="7913" y="8849">98</text><text x="8000" y="8936">98</text><text x="8087" y="9024">97</text><text x="8174" y="9111">99</text><text x="8262" y="9198">98</text><text x="8349" y="9285">97</text><text x="8436" y="9372">98</text><text x="8523" y="9460">98</text><text x="8610" y="9547">99</text><text x="8698" y="9634">97</text><text x="8785" y="9721">97</text><text x="8872" y="9808">98</text><text x="8959" y="9896">97</text><text x="9046" y="9983">98</text><text x="9134" y="10070">98</text><text x="9221" y="10157">98</text><text x="9308" y="10244">97</text><text x="9395" y="10332">98</text><text x="9482" y="10419">97</text><text x="9570" y="10506">96</text><text x="9657" y="10593">96</text><text x="9744" y="10680">97</text><text x="9831" y="10768">97</text><text x="9918" y="10855">96</text><text x="10006" y="10942">96</text><text x="10093" y="11029">97</text><text x="10180" y="11116">95</text><text x="10267" y="11204">96</text><text x="10354" y="11291">97</text><text x="10442" y="11378">95</text><text x="10529" y="11465">97</text><text x="6518" y="7280">99</text><text x="6692" y="7454">98</text><text x="7041" y="7803">99</text><text x="7128" y="7890">99</text><text x="7215" y="7977">99</text><text x="7302" y="8064">99</text><text x="7390" y="8152">99</text><text x="7564" y="8326">98</text><text x="7651" y="8413">99</text><text x="7738" y="8500">97</text><text x="7826" y="8588">98</text><text x="7913" y="8675">99</text><text x="8000" y="8762">97</text><text x="8087" y="8849">97</text><text x="8174" y="8936">99</text><text x="8349" y="9111">98</text><text x="8436" y="9198">99</text><text x="8523" y="9285">98</text><text x="8610" y="9372">98</text><text x="8698" y="9460">99</text><text x="8785" y="9547">98</text><text x="8872" y="9634">98</text><text x="8959" y="9721">97</text><text x="9046" y="9808">98</text><text x="9134" y="9896">98</text><text x="9221" y="9983">96</text><text x="9308" y="10070">97</text><text x="9395" y="10157">97</text><text x="9482" y="10244">98</text><text x="9570" y="10332">97</text><text x="9657" y="10419">96</text><text x="9744" y="10506">96</text><text x="9831" y="10593">96</text><text x="9918" y="10680">96</text><text x="10006" y="10768">97</text><text x="10093" y="10855">97</text><text x="10180" y="10942">96</text><text x="10267" y="11029">96</text><text x="10354" y="11116">96</text><text x="10442" y="11204">96</text><text x="10529" y="11291">97</text><text x="10616" y="11378">95</text><text x="6518" y="7105">99</text><text x="6692" y="7280">99</text><text x="7041" y="7628">98</text><text x="7128" y="7716">99</text><text x="7215" y="7803">99</text><text x="7477" y="8064">99</text><text x="7564" y="8152">99</text><text x="7651" y="8239">99</text><text x="7738" y="8326">97</text><text x="7913" y="8500">99</text><text x="8000" y="8588">99</text><text x="8087" y="8675">99</text><text x="8174" y="8762">99</text><text x="8349" y="8936">98</text><text x="8436" y="9024">99</text><text x="8523" y="9111">98</text><text x="8610" y="9198">97</text><text x="8698" y="9285">98</text><text x="8785" y="9372">98</text><text x="8872" y="9460">98</text><text x="8959" y="9547">97</text><text x="9046" y="9634">99</text><text x="9134" y="9721">98</text><text x="9221" y="9808">98</text><text x="9308" y="9896">97</text><text x="9395" y="9983">97</text><text x="9482" y="10070">98</text><text x="9570" y="10157">98</text><text x="9657" y="10244">97</text><text x="9744" y="10332">97</text><text x="9831" y="10419">98</text><text x="9918" y="10506">97</text><text x="10006" y="10593">98</text><text x="10093" y="10680">97</text><text x="10180" y="10768">96</text><text x="10267" y="10855">97</text><text x="10354" y="10942">96</text><text x="10442" y="11029">98</text><text x="10529" y="11116">96</text><text x="10616" y="11204">97</text><text x="10703" y="11291">98</text><text x="7041" y="7454">99</text><text x="7302" y="7716">99</text><text x="7477" y="7890">99</text><text x="7738" y="8152">99</text><text x="7826" y="8239">98</text><text x="8000" y="8413">98</text><text x="8087" y="8500">98</text><text x="8174" y="8588">98</text><text x="8436" y="8849">99</text><text x="8610" y="9024">98</text><text x="8698" y="9111">98</text><text x="8785" y="9198">99</text><text x="8872" y="9285">98</text><text x="8959" y="9372">98</text><text x="9046" y="9460">98</text><text x="9134" y="9547">97</text><text x="9221" y="9634">98</text><text x="9308" y="9721">96</text><text x="9395" y="9808">97</text><text x="9482" y="9896">98</text><text x="9570" y="9983">97</text><text x="9657" y="10070">98</text><text x="9744" y="10157">98</text><text x="9831" y="10244">97</text><text x="9918" y="10332">98</text><text x="10006" y="10419">98</text><text x="10093" y="10506">96</text><text x="10180" y="10593">96</text><text x="10267" y="10680">95</text><text x="10354" y="10768">96</text><text x="10442" y="10855">96</text><text x="10529" y="10942">97</text><text x="10616" y="11029">97</text><text x="10703" y="11116">96</text><text x="10790" y="11204">96</text><text x="6866" y="7105">99</text><text x="7128" y="7367">99</text><text x="7215" y="7454">99</text><text x="7302" y="7541">99</text><text x="7390" y="7628">98</text><text x="7477" y="7716">99</text><text x="7564" y="7803">98</text><text x="7651" y="7890">99</text><text x="7738" y="7977">99</text><text x="8000" y="8239">99</text><text x="8087" y="8326">99</text><text x="8174" y="8413">99</text><text x="8262" y="8500">97</text><text x="8349" y="8588">98</text><text x="8523" y="8762">98</text><text x="8610" y="8849">99</text><text x="8698" y="8936">98</text><text x="8785" y="9024">99</text><text x="8872" y="9111">99</text><text x="8959" y="9198">99</text><text x="9046" y="9285">98</text><text x="9134" y="9372">97</text><text x="9221" y="9460">98</text><text x="9308" y="9547">99</text><text x="9395" y="9634">99</text><text x="9482" y="9721">98</text><text x="9570" y="9808">96</text><text x="9657" y="9896">97</text><text x="9744" y="9983">97</text><text x="9831" y="10070">97</text><text x="9918" y="10157">97</text><text x="10006" y="10244">97</text><text x="10093" y="10332">97</text><text x="10180" y="10419">97</text><text x="10267" y="10506">97</text><text x="10354" y="10593">97</text><text x="10442" y="10680">96</text><text x="10529" y="10768">96</text><text x="10616" y="10855">96</text><text x="10703" y="10942">96</text><text x="10790" y="11029">96</text><text x="10878" y="11116">97</text><text x="7215" y="7280">99</text><text x="7302" y="7367">99</text><text x="7477" y="7541">98</text><text x="7564" y="7628">99</text><text x="7651" y="7716">99</text><text x="7826" y="7890">98</text><text x="8000" y="8064">99</text><text x="8087" y="8152">99</text><text x="8262" y="8326">99</text><text x="8349" y="8413">99</text><text x="8523" y="8588">98</text><text x="8610" y="8675">98</text><text x="8785" y="8849">99</text><text x="8872" y="8936">98</text><text x="8959" y="9024">97</text><text x="9046" y="9111">97</text><text x="9134" y="9198">98</text><text x="9221" y="9285">99</text><text x="9308" y="9372">98</text><text x="9395" y="9460">98</text><text x="9482" y="9547">98</text><text x="9570" y="9634">97</text><text x="9657" y="9721">97</text><text x="9744" y="9808">98</text><text x="9831" y="9896">97</text><text x="9918" y="9983">98</text><text x="10006" y="10070">97</text><text x="10093" y="10157">97</text><text x="10180" y="10244">98</text><text x="10267" y="10332">98</text><text x="10354" y="10419">97</text><text x="10442" y="10506">97</text><text x="10529" y="10593">98</text><text x="10616" y="10680">96</text><text x="10703" y="10768">97</text><text x="10790" y="10855">97</text><text x="10878" y="10942">96</text><text x="10965" y="11029">97</text><text x="7477" y="7367">99</text><text x="7738" y="7628">99</text><text x="7826" y="7716">99</text><text x="7913" y="7803">98</text><text x="8000" y="7890">99</text><text x="8174" y="8064">98</text><text x="8262" y="8152">99</text><text x="8349" y="8239">97</text><text x="8523" y="8413">98</text><text x="8698" y="8588">98</text><text x="8785" y="8675">98</text><text x="8959" y="8849">97</text><text x="9046" y="8936">98</text><text x="9134" y="9024">97</text><text x="9221" y="9111">99</text><text x="9308" y="9198">97</text><text x="9395" y="9285">98</text><text x="9482" y="9372">98</text><text x="9570" y="9460">98</text><text x="9657" y="9547">98</text><text x="9744" y="9634">97</text><text x="9831" y="9721">98</text><text x="9918" y="9808">97</text><text x="10006" y="9896">98</text><text x="10093" y="9983">98</text><text x="10180" y="10070">98</text><text x="10267" y="10157">95</text><text x="10354" y="10244">98</text><text x="10442" y="10332">98</text><text x="10529" y="10419">98</text><text x="10616" y="10506">98</text><text x="10703" y="10593">96</text><text x="10790" y="10680">97</text><text x="10878" y="10768">97</text><text x="10965" y="10855">96</text><text x="11052" y="10942">96</text><text x="7390" y="7105">99</text><text x="7564" y="7280">98</text><text x="7651" y="7367">99</text><text x="7738" y="7454">99</text><text x="7826" y="7541">99</text><text x="7913" y="7628">98</text><text x="8000" y="7716">99</text><text x="8087" y="7803">99</text><text x="8174" y="7890">99</text><text x="8262" y="7977">99</text><text x="8436" y="8152">99</text><text x="8523" y="8239">99</text><text x="8610" y="8326">99</text><text x="8698" y="8413">98</text><text x="8785" y="8500">98</text><text x="8872" y="8588">98</text><text x="8959" y="8675">99</text><text x="9046" y="8762">99</text><text x="9134" y="8849">99</text><text x="9221" y="8936">99</text><text x="9308" y="9024">98</text><text x="9395" y="9111">98</text><text x="9570" y="9285">97</text><text x="9657" y="9372">97</text><text x="9744" y="9460">98</text><text x="9831" y="9547">98</text><text x="9918" y="9634">97</text><text x="10006" y="9721">98</text><text x="10093" y="9808">98</text><text x="10180" y="9896">97</text><text x="10267" y="9983">97</text><text x="10354" y="10070">98</text><text x="10442" y="10157">98</text><text x="10529" y="10244">98</text><text x="10616" y="10332">97</text><text x="10703" y="10419">97</text><text x="10790" y="10506">97</text><text x="10878" y="10593">97</text><text x="10965" y="10680">97</text><text x="11052" y="10768">97</text><text x="11139" y="10855">97</text><text x="7564" y="7105">98</text><text x="7651" y="7192">99</text><text x="7738" y="7280">99</text><text x="7826" y="7367">99</text><text x="8262" y="7803">98</text><text x="8349" y="7890">98</text><text x="8698" y="8239">98</text><text x="8785" y="8326">97</text><text x="8959" y="8500">99</text><text x="9046" y="8588">98</text><text x="9134" y="8675">99</text><text x="9221" y="8762">99</text><text x="9308" y="8849">98</text><text x="9395" y="8936">98</text><text x="9482" y="9024">99</text><text x="9570" y="9111">97</text><text x="9657" y="9198">98</text><text x="9744" y="9285">98</text><text x="9831" y="9372">98</text><text x="9918" y="9460">98</text><text x="10006" y="9547">98</text><text x="10093" y="9634">97</text><text x="10180" y="9721">97</text><text x="10267" y="9808">98</text><text x="10354" y="9896">98</text><text x="10442" y="9983">98</text><text x="10529" y="10070">98</text><text x="10616" y="10157">98</text><text x="10703" y="10244">97</text><text x="10790" y="10332">97</text><text x="10878" y="10419">97</text><text x="10965" y="10506">97</text><text x="11052" y="10593">97</text><text x="11139" y="10680">98</text><text x="11226" y="10768">96</text><text x="7738" y="7105">99</text><text x="7826" y="7192">99</text><text x="7913" y="7280">99</text><text x="8087" y="7454">98</text><text x="8174" y="7541">99</text><text x="8262" y="7628">99</text><text x="8349" y="7716">99</text><text x="8436" y="7803">98</text><text x="8523" y="7890">99</text><text x="8610" y="7977">99</text><text x="8785" y="8152">98</text><text x="8959" y="8326">99</text><text x="9046" y="8413">99</text><text x="9134" y="8500">99</text><text x="9221" y="8588">99</text><text x="9308" y="8675">98</text><text x="9395" y="8762">99</text><text x="9482" y="8849">97</text><text x="9570" y="8936">97</text><text x="9657" y="9024">98</text><text x="9744" y="9111">97</text><text x="9831" y="9198">97</text><text x="9918" y="9285">99</text><text x="10006" y="9372">98</text><text x="10093" y="9460">99</text><text x="10180" y="9547">97</text><text x="10267" y="9634">97</text><text x="10354" y="9721">97</text><text x="10442" y="9808">98</text><text x="10529" y="9896">99</text><text x="10616" y="9983">97</text><text x="10703" y="10070">97</text><text x="10790" y="10157">97</text><text x="10878" y="10244">98</text><text x="10965" y="10332">97</text><text x="11052" y="10419">97</text><text x="11139" y="10506">97</text><text x="11226" y="10593">95</text><text x="11314" y="10680">97</text><text x="7913" y="7105">99</text><text x="8087" y="7280">99</text><text x="8262" y="7454">99</text><text x="8610" y="7803">99</text><text x="8785" y="7977">98</text><text x="8872" y="8064">99</text><text x="9046" y="8239">98</text><text x="9134" y="8326">98</text><text x="9221" y="8413">99</text><text x="9308" y="8500">97</text><text x="9395" y="8588">98</text><text x="9482" y="8675">99</text><text x="9570" y="8762">99</text><text x="9657" y="8849">99</text><text x="9744" y="8936">97</text><text x="9831" y="9024">98</text><text x="9918" y="9111">97</text><text x="10006" y="9198">97</text><text x="10093" y="9285">97</text><text x="10180" y="9372">97</text><text x="10267" y="9460">98</text><text x="10354" y="9547">98</text><text x="10442" y="9634">98</text><text x="10529" y="9721">97</text><text x="10616" y="9808">98</text><text x="10703" y="9896">98</text><text x="10790" y="9983">97</text><text x="10878" y="10070">98</text><text x="10965" y="10157">98</text><text x="11052" y="10244">98</text><text x="11139" y="10332">97</text><text x="11226" y="10419">97</text><text x="11314" y="10506">96</text><text x="11401" y="10593">96</text><text x="8087" y="7105">99</text><text x="8262" y="7280">99</text><text x="8436" y="7454">99</text><text x="8523" y="7541">99</text><text x="8610" y="7628">98</text><text x="8785" y="7803">99</text><text x="8872" y="7890">99</text><text x="9046" y="8064">97</text><text x="9221" y="8239">98</text><text x="9308" y="8326">98</text><text x="9395" y="8413">98</text><text x="9482" y="8500">98</text><text x="9570" y="8588">99</text><text x="9657" y="8675">98</text><text x="9744" y="8762">99</text><text x="9918" y="8936">99</text><text x="10006" y="9024">97</text><text x="10093" y="9111">98</text><text x="10180" y="9198">98</text><text x="10267" y="9285">98</text><text x="10354" y="9372">97</text><text x="10442" y="9460">97</text><text x="10529" y="9547">98</text><text x="10616" y="9634">98</text><text x="10703" y="9721">97</text><text x="10790" y="9808">97</text><text x="10878" y="9896">98</text><text x="10965" y="9983">96</text><text x="11052" y="10070">97</text><text x="11139" y="10157">97</text><text x="11226" y="10244">97</text><text x="11314" y="10332">98</text><text x="11401" y="10419">98</text><text x="11488" y="10506">97</text><text x="8436" y="7280">99</text><text x="8523" y="7367">99</text><text x="8610" y="7454">98</text><text x="8785" y="7628">99</text><text x="8872" y="7716">99</text><text x="8959" y="7803">99</text><text x="9046" y="7890">99</text><text x="9308" y="8152">99</text><text x="9395" y="8239">99</text><text x="9482" y="8326">98</text><text x="9570" y="8413">98</text><text x="9657" y="8500">98</text><text x="9744" y="8588">97</text><text x="9831" y="8675">98</text><text x="10006" y="8849">98</text><text x="10093" y="8936">98</text><text x="10180" y="9024">99</text><text x="10267" y="9111">96</text><text x="10354" y="9198">98</text><text x="10442" y="9285">98</text><text x="10529" y="9372">97</text><text x="10616" y="9460">99</text><text x="10703" y="9547">97</text><text x="10790" y="9634">98</text><text x="10878" y="9721">98</text><text x="10965" y="9808">97</text><text x="11052" y="9896">97</text><text x="11139" y="9983">98</text><text x="11226" y="10070">97</text><text x="11314" y="10157">97</text><text x="11401" y="10244">97</text><text x="11488" y="10332">97</text><text x="11575" y="10419">97</text><text x="8698" y="7367">98</text><text x="8785" y="7454">99</text><text x="8872" y="7541">99</text><text x="9134" y="7803">99</text><text x="9221" y="7890">99</text><text x="9395" y="8064">99</text><text x="9482" y="8152">99</text><text x="9657" y="8326">99</text><text x="9744" y="8413">99</text><text x="9918" y="8588">97</text><text x="10006" y="8675">97</text><text x="10093" y="8762">99</text><text x="10180" y="8849">99</text><text x="10267" y="8936">99</text><text x="10354" y="9024">97</text><text x="10442" y="9111">98</text><text x="10529" y="9198">98</text><text x="10616" y="9285">97</text><text x="10703" y="9372">99</text><text x="10790" y="9460">97</text><text x="10878" y="9547">99</text><text x="10965" y="9634">98</text><text x="11052" y="9721">97</text><text x="11139" y="9808">98</text><text x="11226" y="9896">97</text><text x="11314" y="9983">97</text><text x="11401" y="10070">97</text><text x="11488" y="10157">98</text><text x="11575" y="10244">98</text><text x="11662" y="10332">97</text><text x="8785" y="7280">99</text><text x="8872" y="7367">99</text><text x="9046" y="7541">99</text><text x="9308" y="7803">99</text><text x="9395" y="7890">98</text><text x="9657" y="8152">99</text><text x="9744" y="8239">99</text><text x="9831" y="8326">98</text><text x="9918" y="8413">98</text><text x="10006" y="8500">98</text><text x="10093" y="8588">99</text><text x="10180" y="8675">98</text><text x="10267" y="8762">98</text><text x="10354" y="8849">99</text><text x="10442" y="8936">98</text><text x="10703" y="9198">97</text><text x="10790" y="9285">97</text><text x="10878" y="9372">98</text><text x="10965" y="9460">99</text><text x="11052" y="9547">97</text><text x="11139" y="9634">99</text><text x="11226" y="9721">97</text><text x="11314" y="9808">97</text><text x="11401" y="9896">99</text><text x="11488" y="9983">97</text><text x="11575" y="10070">97</text><text x="11662" y="10157">98</text><text x="11750" y="10244">97</text><text x="8872" y="7192">98</text><text x="9046" y="7367">99</text><text x="9134" y="7454">99</text><text x="9221" y="7541">99</text><text x="9395" y="7716">99</text><text x="9657" y="7977">99</text><text x="9831" y="8152">99</text><text x="9918" y="8239">99</text><text x="10006" y="8326">99</text><text x="10093" y="8413">98</text><text x="10354" y="8675">98</text><text x="10442" y="8762">98</text><text x="10529" y="8849">98</text><text x="10616" y="8936">98</text><text x="10703" y="9024">99</text><text x="10790" y="9111">98</text><text x="10878" y="9198">99</text><text x="10965" y="9285">97</text><text x="11052" y="9372">97</text><text x="11139" y="9460">98</text><text x="11226" y="9547">97</text><text x="11314" y="9634">98</text><text x="11401" y="9721">97</text><text x="11488" y="9808">97</text><text x="11575" y="9896">97</text><text x="11662" y="9983">96</text><text x="11750" y="10070">97</text><text x="11837" y="10157">97</text><text x="8959" y="7105">99</text><text x="9046" y="7192">99</text><text x="9308" y="7454">99</text><text x="9395" y="7541">99</text><text x="9570" y="7716">99</text><text x="9657" y="7803">99</text><text x="9831" y="7977">99</text><text x="10006" y="8152">98</text><text x="10180" y="8326">99</text><text x="10354" y="8500">98</text><text x="10442" y="8588">99</text><text x="10529" y="8675">99</text><text x="10616" y="8762">99</text><text x="10703" y="8849">99</text><text x="10790" y="8936">97</text><text x="10878" y="9024">99</text><text x="10965" y="9111">97</text><text x="11052" y="9198">98</text><text x="11139" y="9285">97</text><text x="11226" y="9372">99</text><text x="11314" y="9460">99</text><text x="11401" y="9547">98</text><text x="11488" y="9634">97</text><text x="11575" y="9721">98</text><text x="11662" y="9808">98</text><text x="11750" y="9896">97</text><text x="11837" y="9983">97</text><text x="11924" y="10070">98</text><text x="9134" y="7105">98</text><text x="9744" y="7716">99</text><text x="9831" y="7803">99</text><text x="9918" y="7890">99</text><text x="10093" y="8064">99</text><text x="10180" y="8152">99</text><text x="10267" y="8239">99</text><text x="10354" y="8326">99</text><text x="10442" y="8413">99</text><text x="10529" y="8500">99</text><text x="10616" y="8588">98</text><text x="10703" y="8675">98</text><text x="10790" y="8762">98</text><text x="10878" y="8849">99</text><text x="10965" y="8936">99</text><text x="11052" y="9024">97</text><text x="11139" y="9111">98</text><text x="11226" y="9198">98</text><text x="11314" y="9285">99</text><text x="11401" y="9372">97</text><text x="11488" y="9460">98</text><text x="11575" y="9547">98</text><text x="11662" y="9634">97</text><text x="11750" y="9721">98</text><text x="11837" y="9808">98</text><text x="11924" y="9896">97</text><text x="12011" y="9983">97</text><text x="9395" y="7192">99</text><text x="9570" y="7367">99</text><text x="9657" y="7454">99</text><text x="9744" y="7541">99</text><text x="9831" y="7628">99</text><text x="9918" y="7716">99</text><text x="10006" y="7803">99</text><text x="10093" y="7890">99</text><text x="10267" y="8064">99</text><text x="10442" y="8239">97</text><text x="10529" y="8326">99</text><text x="10790" y="8588">98</text><text x="10878" y="8675">98</text><text x="11052" y="8849">99</text><text x="11139" y="8936">98</text><text x="11226" y="9024">99</text><text x="11314" y="9111">98</text><text x="11401" y="9198">97</text><text x="11488" y="9285">99</text><text x="11575" y="9372">99</text><text x="11662" y="9460">97</text><text x="11750" y="9547">98</text><text x="11837" y="9634">99</text><text x="11924" y="9721">97</text><text x="12011" y="9808">97</text><text x="12098" y="9896">97</text><text x="9744" y="7367">99</text><text x="9831" y="7454">99</text><text x="10267" y="7890">99</text><text x="10442" y="8064">99</text><text x="10529" y="8152">99</text><text x="10616" y="8239">99</text><text x="10703" y="8326">98</text><text x="10790" y="8413">99</text><text x="10878" y="8500">99</text><text x="10965" y="8588">98</text><text x="11052" y="8675">98</text><text x="11139" y="8762">99</text><text x="11226" y="8849">98</text><text x="11314" y="8936">99</text><text x="11401" y="9024">98</text><text x="11488" y="9111">99</text><text x="11575" y="9198">98</text><text x="11662" y="9285">97</text><text x="11750" y="9372">98</text><text x="11837" y="9460">98</text><text x="11924" y="9547">97</text><text x="12011" y="9634">99</text><text x="12098" y="9721">97</text><text x="12186" y="9808">98</text><text x="10267" y="7716">99</text><text x="10354" y="7803">99</text><text x="10442" y="7890">99</text><text x="10529" y="7977">99</text><text x="10616" y="8064">99</text><text x="10703" y="8152">99</text><text x="10790" y="8239">98</text><text x="10878" y="8326">98</text><text x="11052" y="8500">98</text><text x="11139" y="8588">98</text><text x="11226" y="8675">98</text><text x="11401" y="8849">99</text><text x="11488" y="8936">99</text><text x="11575" y="9024">98</text><text x="11662" y="9111">97</text><text x="11750" y="9198">98</text><text x="11837" y="9285">98</text><text x="11924" y="9372">98</text><text x="12011" y="9460">98</text><text x="12098" y="9547">97</text><text x="12186" y="9634">98</text><text x="12273" y="9721">98</text><text x="9831" y="7105">99</text><text x="9918" y="7192">99</text><text x="10006" y="7280">99</text><text x="10093" y="7367">99</text><text x="10180" y="7454">98</text><text x="10267" y="7541">99</text><text x="10354" y="7628">99</text><text x="10442" y="7716">99</text><text x="10529" y="7803">99</text><text x="10616" y="7890">99</text><text x="10878" y="8152">99</text><text x="11052" y="8326">99</text><text x="11139" y="8413">99</text><text x="11226" y="8500">98</text><text x="11314" y="8588">98</text><text x="11401" y="8675">99</text><text x="11488" y="8762">99</text><text x="11575" y="8849">98</text><text x="11662" y="8936">98</text><text x="11750" y="9024">97</text><text x="11837" y="9111">99</text><text x="11924" y="9198">99</text><text x="12011" y="9285">98</text><text x="12098" y="9372">98</text><text x="12186" y="9460">98</text><text x="12273" y="9547">98</text><text x="12360" y="9634">97</text><text x="10093" y="7192">99</text><text x="10267" y="7367">99</text><text x="10442" y="7541">99</text><text x="10616" y="7716">99</text><text x="10703" y="7803">99</text><text x="10790" y="7890">99</text><text x="10965" y="8064">99</text><text x="11052" y="8152">99</text><text x="11226" y="8326">98</text><text x="11314" y="8413">99</text><text x="11488" y="8588">99</text><text x="11750" y="8849">97</text><text x="11837" y="8936">98</text><text x="11924" y="9024">99</text><text x="12011" y="9111">98</text><text x="12098" y="9198">98</text><text x="12186" y="9285">98</text><text x="12273" y="9372">99</text><text x="12360" y="9460">98</text><text x="12447" y="9547">99</text><text x="10180" y="7105">99</text><text x="10267" y="7192">99</text><text x="10354" y="7280">99</text><text x="10442" y="7367">99</text><text x="10529" y="7454">97</text><text x="10616" y="7541">99</text><text x="10703" y="7628">99</text><text x="10790" y="7716">99</text><text x="10965" y="7890">99</text><text x="11052" y="7977">99</text><text x="11226" y="8152">99</text><text x="11314" y="8239">98</text><text x="11401" y="8326">99</text><text x="11575" y="8500">99</text><text x="11662" y="8588">99</text><text x="11837" y="8762">98</text><text x="11924" y="8849">98</text><text x="12011" y="8936">99</text><text x="12098" y="9024">99</text><text x="12186" y="9111">99</text><text x="12273" y="9198">98</text><text x="12360" y="9285">97</text><text x="12447" y="9372">98</text><text x="12534" y="9460">98</text><text x="10616" y="7367">99</text><text x="10790" y="7541">99</text><text x="10878" y="7628">99</text><text x="10965" y="7716">99</text><text x="11052" y="7803">99</text><text x="11139" y="7890">99</text><text x="11401" y="8152">99</text><text x="11488" y="8239">99</text><text x="11575" y="8326">99</text><text x="11662" y="8413">99</text><text x="11837" y="8588">99</text><text x="11924" y="8675">99</text><text x="12011" y="8762">98</text><text x="12098" y="8849">99</text><text x="12186" y="8936">99</text><text x="12273" y="9024">99</text><text x="12360" y="9111">98</text><text x="12447" y="9198">98</text><text x="12534" y="9285">98</text><text x="12622" y="9372">99</text><text x="10529" y="7105">99</text><text x="10616" y="7192">99</text><text x="10878" y="7454">99</text><text x="10965" y="7541">99</text><text x="11226" y="7803">99</text><text x="11575" y="8152">99</text><text x="11662" y="8239">99</text><text x="11750" y="8326">99</text><text x="11924" y="8500">98</text><text x="12011" y="8588">99</text><text x="12098" y="8675">98</text><text x="12186" y="8762">98</text><text x="12273" y="8849">99</text><text x="12360" y="8936">97</text><text x="12447" y="9024">99</text><text x="12534" y="9111">98</text><text x="12622" y="9198">99</text><text x="12709" y="9285">98</text><text x="10790" y="7192">99</text><text x="11401" y="7803">99</text><text x="11488" y="7890">99</text><text x="11575" y="7977">99</text><text x="11750" y="8152">98</text><text x="11837" y="8239">99</text><text x="12011" y="8413">99</text><text x="12273" y="8675">97</text><text x="12360" y="8762">98</text><text x="12447" y="8849">99</text><text x="12534" y="8936">99</text><text x="12709" y="9111">99</text><text x="12796" y="9198">98</text><text x="10878" y="7105">99</text><text x="11139" y="7367">99</text><text x="11226" y="7454">99</text><text x="11488" y="7716">99</text><text x="11575" y="7803">99</text><text x="11750" y="7977">98</text><text x="11837" y="8064">97</text><text x="11924" y="8152">99</text><text x="12011" y="8239">98</text><text x="12098" y="8326">98</text><text x="12186" y="8413">99</text><text x="12360" y="8588">99</text><text x="12447" y="8675">98</text><text x="12534" y="8762">98</text><text x="12622" y="8849">98</text><text x="12709" y="8936">98</text><text x="12796" y="9024">98</text><text x="11052" y="7105">99</text><text x="11139" y="7192">99</text><text x="11575" y="7628">99</text><text x="11750" y="7803">99</text><text x="11837" y="7890">98</text><text x="11924" y="7977">99</text><text x="12098" y="8152">98</text><text x="12447" y="8500">99</text><text x="12534" y="8588">99</text><text x="12796" y="8849">99</text><text x="12883" y="8936">98</text><text x="12970" y="9024">98</text><text x="11314" y="7192">99</text><text x="11575" y="7454">99</text><text x="11662" y="7541">99</text><text x="11924" y="7803">99</text><text x="12011" y="7890">99</text><text x="12273" y="8152">99</text><text x="12360" y="8239">98</text><text x="12447" y="8326">98</text><text x="12534" y="8413">98</text><text x="12622" y="8500">99</text><text x="12709" y="8588">99</text><text x="12796" y="8675">99</text><text x="12883" y="8762">98</text><text x="12970" y="8849">98</text><text x="13058" y="8936">98</text><text x="11750" y="7454">99</text><text x="11837" y="7541">99</text><text x="11924" y="7628">98</text><text x="12011" y="7716">99</text><text x="12186" y="7890">99</text><text x="12360" y="8064">99</text><text x="12534" y="8239">97</text><text x="12622" y="8326">98</text><text x="12709" y="8413">98</text><text x="12796" y="8500">99</text><text x="12883" y="8588">98</text><text x="12970" y="8675">97</text><text x="13058" y="8762">99</text><text x="13145" y="8849">98</text><text x="11575" y="7105">99</text><text x="11662" y="7192">99</text><text x="11750" y="7280">99</text><text x="11924" y="7454">99</text><text x="12011" y="7541">98</text><text x="12186" y="7716">99</text><text x="12273" y="7803">99</text><text x="12622" y="8152">99</text><text x="12709" y="8239">98</text><text x="12796" y="8326">99</text><text x="12883" y="8413">99</text><text x="12970" y="8500">99</text><text x="13058" y="8588">97</text><text x="13232" y="8762">99</text><text x="11750" y="7105">99</text><text x="11924" y="7280">98</text><text x="12011" y="7367">98</text><text x="12273" y="7628">99</text><text x="12360" y="7716">98</text><text x="12796" y="8152">99</text><text x="12970" y="8326">99</text><text x="13058" y="8413">99</text><text x="13145" y="8500">99</text><text x="11924" y="7105">99</text><text x="12011" y="7192">99</text><text x="12186" y="7367">99</text><text x="12273" y="7454">98</text><text x="12360" y="7541">99</text><text x="12970" y="8152">99</text><text x="13058" y="8239">98</text><text x="13145" y="8326">99</text><text x="13232" y="8413">99</text><text x="13406" y="8588">99</text><text x="12098" y="7105">99</text><text x="12186" y="7192">99</text><text x="12273" y="7280">99</text><text x="12360" y="7367">99</text><text x="12447" y="7454">99</text><text x="12534" y="7541">99</text><text x="12622" y="7628">98</text><text x="12883" y="7890">99</text><text x="13058" y="8064">99</text><text x="13145" y="8152">99</text><text x="13232" y="8239">99</text><text x="13319" y="8326">99</text><text x="13494" y="8500">98</text><text x="12447" y="7280">99</text><text x="12534" y="7367">99</text><text x="12622" y="7454">99</text><text x="12796" y="7628">98</text><text x="12883" y="7716">99</text><text x="12970" y="7803">99</text><text x="13058" y="7890">99</text><text x="13145" y="7977">99</text><text x="13319" y="8152">99</text><text x="13406" y="8239">98</text><text x="13494" y="8326">98</text><text x="13581" y="8413">97</text><text x="12622" y="7280">99</text><text x="12796" y="7454">99</text><text x="12883" y="7541">99</text><text x="12970" y="7628">99</text><text x="13058" y="7716">98</text><text x="13145" y="7803">98</text><text x="13232" y="7890">99</text><text x="13319" y="7977">99</text><text x="13406" y="8064">98</text><text x="13494" y="8152">98</text><text x="13581" y="8239">97</text><text x="13668" y="8326">99</text><text x="12796" y="7280">99</text><text x="12970" y="7454">99</text><text x="13058" y="7541">98</text><text x="13232" y="7716">99</text><text x="13319" y="7803">99</text><text x="13668" y="8152">99</text><text x="12796" y="7105">99</text><text x="12883" y="7192">99</text><text x="12970" y="7280">97</text><text x="13145" y="7454">99</text><text x="13232" y="7541">99</text><text x="13319" y="7628">99</text><text x="13494" y="7803">99</text><text x="13581" y="7890">99</text><text x="13668" y="7977">99</text><text x="13842" y="8152">99</text><text x="13145" y="7280">99</text><text x="13232" y="7367">99</text><text x="13319" y="7454">99</text><text x="13406" y="7541">99</text><text x="13668" y="7803">99</text><text x="13755" y="7890">98</text><text x="13842" y="7977">98</text><text x="13930" y="8064">98</text><text x="13145" y="7105">99</text><text x="13406" y="7367">99</text><text x="13494" y="7454">99</text><text x="13842" y="7803">99</text><text x="14017" y="7977">99</text><text x="13406" y="7192">99</text><text x="13581" y="7367">99</text><text x="13842" y="7628">99</text><text x="13930" y="7716">99</text><text x="14017" y="7628">98</text><text x="14104" y="7716">99</text><text x="14191" y="7803">99</text><text x="13668" y="7105">99</text><text x="13755" y="7192">99</text><text x="13842" y="7280">99</text><text x="14017" y="7454">98</text><text x="14191" y="7628">99</text><text x="14278" y="7716">99</text><text x="14017" y="7280">99</text><text x="14104" y="7367">98</text><text x="14191" y="7454">99</text><text x="14278" y="7541">99</text><text x="14017" y="7105">99</text><text x="14366" y="7454">99</text><text x="14191" y="7105">99</text><text x="14278" y="7192">99</text><text x="14366" y="7280">98</text><text x="14540" y="7454">99</text><text x="14453" y="7192">99</text><text x="14540" y="7280">99</text><text x="14540" y="7105">98</text><text x="14627" y="7192">99</text><text x="14714" y="7280">99</text><text x="14714" y="7105">99</text><text x="14889" y="7105">99</text></g>
<path d="M6.48 687.3V700.20L163.44 857.16L320.40 700.20V687.3" stroke="#000" stroke-width="1.5" fill="none"/>
<path d="M320.40 687.3V700.20L913.36 1293.16L1506.32 700.20V687.3" stroke="#111" stroke-width="1.25" fill="none"/>
<line x1="913.86" y1="1293.66" x2="1513.86" y2="693.66" stroke="#000" stroke-width="1.2"/>
</g>
</svg></body></html>
